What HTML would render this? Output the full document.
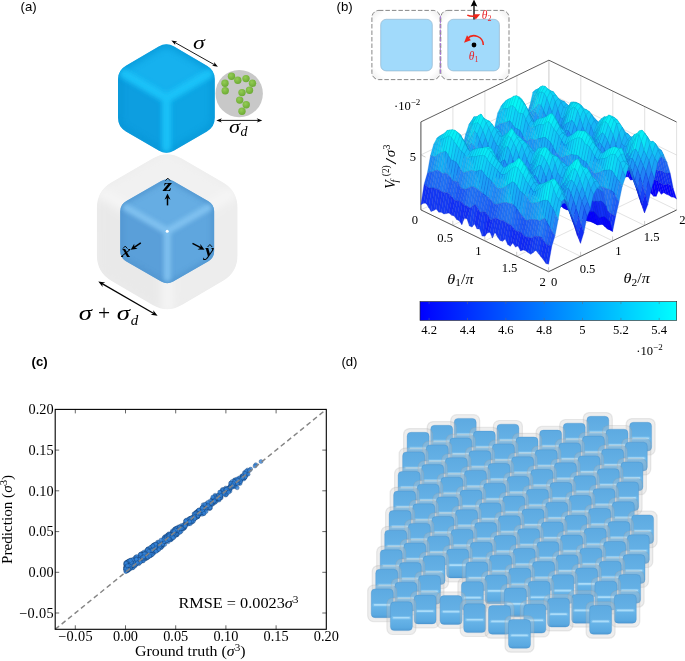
<!DOCTYPE html>
<html><head><meta charset="utf-8"><title>Figure</title>
<style>html,body{margin:0;padding:0;background:#fff}svg{display:block}</style>
</head><body>
<svg width="685" height="661" viewBox="0 0 685 661">
<defs>
<clipPath id="hc"><path d="M152.5 158.4Q167.2 149.9 181.9 158.4L222.8 182.3Q237.5 190.8 237.5 207.8L237.5 255.6Q237.5 272.6 222.8 281.1L181.9 305.0Q167.2 313.5 152.5 305.0L111.6 281.1Q96.9 272.6 96.9 255.6L96.9 207.8Q96.9 190.8 111.6 182.3Z"/></clipPath>
<filter id="hb" x="-20%" y="-20%" width="140%" height="140%"><feGaussianBlur stdDeviation="5"/></filter>
<clipPath id="ibc"><path d="M161.1 181.0Q167.2 177.5 173.3 181.0L208.1 200.9Q214.2 204.3 214.2 211.3L214.2 251.1Q214.2 258.1 208.1 261.5L173.3 281.4Q167.2 284.9 161.1 281.4L126.3 261.5Q120.2 258.1 120.2 251.1L120.2 211.3Q120.2 204.3 126.3 200.9Z"/></clipPath>
<filter id="ibb" x="-20%" y="-20%" width="140%" height="140%"><feGaussianBlur stdDeviation="2.0"/></filter>
<filter id="ibb2" x="-20%" y="-20%" width="140%" height="140%"><feGaussianBlur stdDeviation="2.60"/></filter>
<filter id="ibb3" x="-100%" y="-100%" width="300%" height="300%"><feGaussianBlur stdDeviation="0.7"/></filter>
<clipPath id="tbc"><path d="M158.6 46.6Q166.4 42.1 174.2 46.6L207.0 65.8Q214.8 70.3 214.8 79.3L214.8 117.8Q214.8 126.8 207.0 131.4L174.2 150.6Q166.4 155.1 158.6 150.6L125.8 131.4Q118.0 126.8 118.0 117.8L118.0 79.3Q118.0 70.3 125.8 65.8Z"/></clipPath>
<filter id="tbb" x="-20%" y="-20%" width="140%" height="140%"><feGaussianBlur stdDeviation="2.8"/></filter>
<filter id="tbb2" x="-20%" y="-20%" width="140%" height="140%"><feGaussianBlur stdDeviation="3.64"/></filter>
<radialGradient id="bead" cx="40%" cy="35%" r="70%"><stop offset="0" stop-color="#93cc55"/><stop offset="1" stop-color="#6aa832"/></radialGradient>
<radialGradient id="insg" cx="50%" cy="50%" r="75%"><stop offset="0.75" stop-color="#fff"/><stop offset="1" stop-color="#e4e4e4"/></radialGradient>
<linearGradient id="cbg" x1="0" x2="1" y1="0" y2="0"><stop offset="0" stop-color="#0000ff"/><stop offset="1" stop-color="#00ffff"/></linearGradient>
<linearGradient id="cg" x1="0" x2="0" y1="0" y2="1"><stop offset="0" stop-color="#5daae1"/><stop offset="0.48" stop-color="#64b0e5"/><stop offset="0.60" stop-color="#68b4e8"/><stop offset="0.9" stop-color="#5aa9e1"/><stop offset="1" stop-color="#4f9bd5"/></linearGradient>
<filter id="hbl" x="-10%" y="-10%" width="120%" height="120%"><feGaussianBlur stdDeviation="0.6"/></filter>
<g id="cb"><rect x="-3.5" y="-3.7" width="29" height="36.4" rx="5.8" ry="5.8" fill="#c6c6c6" fill-opacity="0.30" stroke="#9a9a9a" stroke-opacity="0.2" stroke-width="1.2" filter="url(#hbl)"/><rect x="0" y="0" width="22" height="28.8" rx="4" ry="4" fill="url(#cg)" stroke="#3f86c4" stroke-opacity="0.5" stroke-width="0.6"/><rect x="2.6" y="15.1" width="16.8" height="1.7" rx="0.85" fill="#b9e4fc" fill-opacity="0.9"/><rect x="1.2" y="14.3" width="19.6" height="3.3" rx="1.6" fill="#9dd4f6" fill-opacity="0.35"/></g>
</defs>
<text x="20.6" y="10.8" font-family='"Liberation Sans", sans-serif' font-size="13.2">(a)</text>
<text x="336.6" y="10.8" font-family='"Liberation Sans", sans-serif' font-size="13.2">(b)</text>
<text x="31.6" y="365.8" font-family='"Liberation Sans", sans-serif' font-size="13.2" font-weight="bold">(c)</text>
<text x="341.4" y="365.8" font-family='"Liberation Sans", sans-serif' font-size="13.2">(d)</text>
<g clip-path="url(#hc)"><path d="M152.5 158.4Q167.2 149.9 181.9 158.4L222.8 182.3Q237.5 190.8 237.5 207.8L237.5 255.6Q237.5 272.6 222.8 281.1L181.9 305.0Q167.2 313.5 152.5 305.0L111.6 281.1Q96.9 272.6 96.9 255.6L96.9 207.8Q96.9 190.8 111.6 182.3Z" fill="#ececec"/><g filter="url(#hb)"><polygon points="167.2,149.9 237.5,190.8 167.2,232.0 96.9,190.8" fill="#f1f1f1"/><polygon points="96.9,190.8 167.2,232.0 167.2,313.5 96.9,272.6" fill="#e9e9e9"/><polygon points="237.5,190.8 237.5,272.6 167.2,313.5 167.2,232.0" fill="#ededed"/><path d="M167.2 232.0L96.89999999999999 190.79999999999998M167.2 232.0L237.5 190.79999999999998M167.2 232.0L167.2 313.5" stroke="#f6f6f6" stroke-width="10" fill="none"/></g></g>
<g clip-path="url(#ibc)"><path d="M161.1 181.0Q167.2 177.5 173.3 181.0L208.1 200.9Q214.2 204.3 214.2 211.3L214.2 251.1Q214.2 258.1 208.1 261.5L173.3 281.4Q167.2 284.9 161.1 281.4L126.3 261.5Q120.2 258.1 120.2 251.1L120.2 211.3Q120.2 204.3 126.3 200.9Z" fill="#5ea5dd"/><g filter="url(#ibb)"><polygon points="167.2,177.5 214.2,204.3 167.2,231.2 120.2,204.3" fill="#66ade3"/><polygon points="120.2,204.3 167.2,231.2 167.2,284.9 120.2,258.1" fill="#5a9fd9"/><polygon points="214.2,204.3 214.2,258.1 167.2,284.9 167.2,231.2" fill="#5ea6de"/></g><path d="M161.1 181.0Q167.2 177.5 173.3 181.0L208.1 200.9Q214.2 204.3 214.2 211.3L214.2 251.1Q214.2 258.1 208.1 261.5L173.3 281.4Q167.2 284.9 161.1 281.4L126.3 261.5Q120.2 258.1 120.2 251.1L120.2 211.3Q120.2 204.3 126.3 200.9Z" fill="none" stroke="#4f93cd" stroke-width="5" filter="url(#ibb2)" opacity="0.8"/><g filter="url(#ibb)" stroke="#86c6f3" stroke-width="7" stroke-linecap="round" fill="none" opacity="0.85"><path d="M167.2 231.2L126.2 207.8M167.2 231.2L208.2 207.8M167.2 231.2L167.2 277.9"/></g><circle cx="167.2" cy="231.2" r="1.5" fill="#fff" filter="url(#ibb3)"/></g>
<g clip-path="url(#tbc)"><path d="M158.6 46.6Q166.4 42.1 174.2 46.6L207.0 65.8Q214.8 70.3 214.8 79.3L214.8 117.8Q214.8 126.8 207.0 131.4L174.2 150.6Q166.4 155.1 158.6 150.6L125.8 131.4Q118.0 126.8 118.0 117.8L118.0 79.3Q118.0 70.3 125.8 65.8Z" fill="#0fa6e5"/><g filter="url(#tbb)"><polygon points="166.4,42.1 214.8,70.3 166.4,98.6 118.0,70.3" fill="#15b1ee"/><polygon points="118.0,70.3 166.4,98.6 166.4,155.1 118.0,126.8" fill="#0c9ee0"/><polygon points="214.8,70.3 214.8,126.8 166.4,155.1 166.4,98.6" fill="#0fa5e4"/></g><path d="M158.6 46.6Q166.4 42.1 174.2 46.6L207.0 65.8Q214.8 70.3 214.8 79.3L214.8 117.8Q214.8 126.8 207.0 131.4L174.2 150.6Q166.4 155.1 158.6 150.6L125.8 131.4Q118.0 126.8 118.0 117.8L118.0 79.3Q118.0 70.3 125.8 65.8Z" fill="none" stroke="#0990d0" stroke-width="5" filter="url(#tbb2)" opacity="0.8"/><g filter="url(#tbb)" stroke="#1fc8fc" stroke-width="9" stroke-linecap="round" fill="none" opacity="0.85"><path d="M166.4 98.6L124.0 73.8M166.4 98.6L208.8 73.8M166.4 98.6L166.4 148.1"/></g></g>
<circle cx="239.2" cy="93.6" r="23.7" fill="#c8c8c8"/>
<circle cx="225.2" cy="90.7" r="3.7" fill="url(#bead)"/>
<circle cx="225.0" cy="83.3" r="3.7" fill="url(#bead)"/>
<circle cx="231.5" cy="76.3" r="3.7" fill="url(#bead)"/>
<circle cx="237.8" cy="80.2" r="3.7" fill="url(#bead)"/>
<circle cx="246.0" cy="78.6" r="3.7" fill="url(#bead)"/>
<circle cx="252.5" cy="83.3" r="3.7" fill="url(#bead)"/>
<circle cx="249.5" cy="90.3" r="3.7" fill="url(#bead)"/>
<circle cx="242.0" cy="92.6" r="3.7" fill="url(#bead)"/>
<circle cx="239.7" cy="100.1" r="3.7" fill="url(#bead)"/>
<circle cx="246.2" cy="104.8" r="3.7" fill="url(#bead)"/>
<circle cx="242.0" cy="111.3" r="3.7" fill="url(#bead)"/>
<path d="M174.33 42.15L214.97 65.05" stroke="#000" stroke-width="0.9" fill="none"/><path d="M217.90 66.70L211.99 65.78L214.48 64.78L214.05 62.12Z" fill="#000"/><path d="M171.40 40.50L175.25 45.08L174.82 42.42L177.31 41.42Z" fill="#000"/>
<path d="M219.66 120.40L258.94 120.40" stroke="#000" stroke-width="0.9" fill="none"/><path d="M262.30 120.40L256.70 122.50L258.38 120.40L256.70 118.30Z" fill="#000"/><path d="M216.30 120.40L221.90 122.50L220.22 120.40L221.90 118.30Z" fill="#000"/>
<path d="M101.67 283.36L154.23 313.84" stroke="#000" stroke-width="1.2" fill="none"/><path d="M157.60 315.80L150.67 314.79L153.66 313.52L153.28 310.29Z" fill="#000"/><path d="M98.30 281.40L102.62 286.91L102.24 283.68L105.23 282.41Z" fill="#000"/>
<path d="M167.50 205.40L167.50 197.18" stroke="#000" stroke-width="1.5" fill="none"/><path d="M167.50 193.40L170.50 199.70L167.50 197.81L164.50 199.70Z" fill="#000"/>
<path d="M140.80 242.90L133.82 247.67" stroke="#000" stroke-width="1.5" fill="none"/><path d="M130.70 249.80L134.21 243.77L134.34 247.31L137.59 248.72Z" fill="#000"/>
<path d="M192.50 243.40L201.15 247.94" stroke="#000" stroke-width="1.5" fill="none"/><path d="M204.50 249.70L197.53 249.43L200.60 247.65L200.32 244.12Z" fill="#000"/>
<text x="193.0" y="48.8" font-family='"Liberation Serif", serif' font-style="italic" font-size="19" textLength="11.8" lengthAdjust="spacingAndGlyphs">σ</text>
<text x="229.0" y="132.9" font-family='"Liberation Serif", serif' font-style="italic" font-size="19" textLength="11.0" lengthAdjust="spacingAndGlyphs">σ</text>
<text x="240.6" y="135.6" font-family='"Liberation Serif", serif' font-style="italic" font-size="14">d</text>
<text x="78.8" y="320.3" font-family='"Liberation Serif", serif' font-style="italic" font-size="21.5" textLength="13.2" lengthAdjust="spacingAndGlyphs">σ</text>
<text x="97.9" y="320.3" font-family='"Liberation Serif", serif' font-size="21.5">+</text>
<text x="116.7" y="320.3" font-family='"Liberation Serif", serif' font-style="italic" font-size="21.5" textLength="13.2" lengthAdjust="spacingAndGlyphs">σ</text>
<text x="130.8" y="324.6" font-family='"Liberation Serif", serif' font-style="italic" font-size="15">d</text>
<text x="163.29999999999998" y="190.9" font-family='"Liberation Serif", serif' font-style="italic" font-weight="bold" font-size="16.5" textLength="8.6" lengthAdjust="spacingAndGlyphs">z</text>
<path d="M165.5 180.6L167.8 178.1L170.10000000000002 180.6" stroke="#000" stroke-width="0.9" fill="none"/>
<text x="121.2" y="257.4" font-family='"Liberation Serif", serif' font-style="italic" font-weight="bold" font-size="16.5" textLength="9.6" lengthAdjust="spacingAndGlyphs">x</text>
<path d="M122.9 248.6L125.2 246.1L127.5 248.6" stroke="#000" stroke-width="0.9" fill="none"/>
<text x="205.0" y="256.0" font-family='"Liberation Serif", serif' font-style="italic" font-weight="bold" font-size="16.5" textLength="8.8" lengthAdjust="spacingAndGlyphs">y</text>
<path d="M207.6 247.0L209.9 244.5L212.20000000000002 247.0" stroke="#000" stroke-width="0.9" fill="none"/>
<rect x="371.9" y="10.4" width="68.2" height="69.2" rx="7" ry="7" fill="url(#insg)" stroke="#555" stroke-width="0.7" stroke-dasharray="4.5 2"/>
<rect x="440.8" y="10.4" width="68.2" height="69.2" rx="7" ry="7" fill="url(#insg)" stroke="#555" stroke-width="0.7" stroke-dasharray="4.5 2"/>
<path d="M440.4 16V74" stroke="#a877d8" stroke-width="1" stroke-dasharray="3 1.5"/>
<rect x="380.7" y="19.3" width="51.6" height="51.6" rx="5.5" ry="5.5" fill="#a1dafb" stroke="#93b6cf" stroke-width="0.7"/>
<rect x="447.8" y="19.3" width="51.6" height="51.6" rx="5.5" ry="5.5" fill="#a1dafb" stroke="#93b6cf" stroke-width="0.7"/>
<path d="M474 19.5V5" stroke="#000" stroke-width="1.3"/><path d="M474 -0.5L477.3 6.6L474 5.6L470.7 6.6Z" fill="#000"/>
<path d="M467.3 15.2Q470.5 16.8 475.5 16.2" stroke="#f0261a" stroke-width="1.5" fill="none"/><path d="M473.4 14.3L480.2 14.3L475.6 19.6Z" fill="#f0261a"/>
<text x="481.8" y="18.8" font-family='"Liberation Serif", serif' font-style="italic" font-size="11.5" fill="#e8242a">θ<tspan font-size="8" dy="2" font-style="normal">2</tspan></text>
<circle cx="474" cy="45" r="2.4" fill="#000"/>
<path d="M483.3 45A9.3 9.3 0 0 0 467.2 38.7" stroke="#f0261a" stroke-width="1.5" fill="none"/><path d="M464 42.8L467 35.3L470.8 40.2Z" fill="#f0261a"/>
<text x="468.8" y="60" font-family='"Liberation Serif", serif' font-style="italic" font-size="11.5" fill="#e8242a">θ<tspan font-size="8" dy="2" font-style="normal">1</tspan></text>
<path d="M420.9 209.9L548.9 148.2" stroke="#c4c4c4" stroke-width="0.5" fill="none"/><path d="M420.9 209.9L548.6 271.7" stroke="#c4c4c4" stroke-width="0.5" fill="none"/><path d="M548.9 148.2L548.9 60.2" stroke="#c4c4c4" stroke-width="0.5" fill="none"/><path d="M420.9 209.9L420.9 121.9" stroke="#c4c4c4" stroke-width="0.5" fill="none"/><path d="M452.8 225.3L580.8 163.6" stroke="#c4c4c4" stroke-width="0.5" fill="none"/><path d="M452.9 194.5L580.6 256.3" stroke="#c4c4c4" stroke-width="0.5" fill="none"/><path d="M580.8 163.6L580.8 75.6" stroke="#c4c4c4" stroke-width="0.5" fill="none"/><path d="M452.9 194.5L452.9 106.5" stroke="#c4c4c4" stroke-width="0.5" fill="none"/><path d="M484.8 240.8L612.8 179.1" stroke="#c4c4c4" stroke-width="0.5" fill="none"/><path d="M484.9 179.1L612.6 240.8" stroke="#c4c4c4" stroke-width="0.5" fill="none"/><path d="M612.8 179.1L612.8 91.1" stroke="#c4c4c4" stroke-width="0.5" fill="none"/><path d="M484.9 179.1L484.9 91.1" stroke="#c4c4c4" stroke-width="0.5" fill="none"/><path d="M516.7 256.2L644.7 194.6" stroke="#c4c4c4" stroke-width="0.5" fill="none"/><path d="M516.9 163.6L644.6 225.4" stroke="#c4c4c4" stroke-width="0.5" fill="none"/><path d="M644.7 194.6L644.7 106.6" stroke="#c4c4c4" stroke-width="0.5" fill="none"/><path d="M516.9 163.6L516.9 75.6" stroke="#c4c4c4" stroke-width="0.5" fill="none"/><path d="M548.6 271.7L676.6 210.0" stroke="#c4c4c4" stroke-width="0.5" fill="none"/><path d="M548.9 148.2L676.6 210.0" stroke="#c4c4c4" stroke-width="0.5" fill="none"/><path d="M676.6 210.0L676.6 122.0" stroke="#c4c4c4" stroke-width="0.5" fill="none"/><path d="M548.9 148.2L548.9 60.2" stroke="#c4c4c4" stroke-width="0.5" fill="none"/><path d="M420.9 154.9L548.9 93.2" stroke="#c4c4c4" stroke-width="0.5" fill="none"/><path d="M548.9 93.2L676.6 155.0" stroke="#c4c4c4" stroke-width="0.5" fill="none"/><path d="M420.9 209.9L420.9 121.9" stroke="#333" stroke-width="0.8" fill="none"/><path d="M420.9 121.9L548.9 60.2" stroke="#333" stroke-width="0.8" fill="none"/><path d="M548.9 60.2L676.6 122.0" stroke="#333" stroke-width="0.8" fill="none"/>
<g transform="scale(0.1)" stroke-width="2.8" stroke-linejoin="round"><path fill="#0600ff" stroke="#0400d1" d="M5457 1259l26-5l32 173l-26-30z"/><path fill="#143af6" stroke="#0e2cc9" d="M5425 1121l26 12l32 121l-26 5z"/><path fill="#0600ff" stroke="#0400d1" d="M5483 1254l25 0l32 211l-25-38z"/><path fill="#1f67f6" stroke="#154fc9" d="M5393 1008l26 4l32 121l-26-12z"/><path fill="#153ef6" stroke="#0e2fc9" d="M5451 1133l25 30l32 91l-25 0z"/><path fill="#0600ff" stroke="#0400d1" d="M5508 1254l26 38l32 171l-26 2z"/><path fill="#1e95f6" stroke="#1572c9" d="M5361 919l26-14l32 107l-26-4z"/><path fill="#1e61f6" stroke="#154ac9" d="M5419 1012l25 13l32 138l-25-30z"/><path fill="#1335f6" stroke="#0d28c9" d="M5476 1163l26 21l32 108l-26-38z"/><path fill="#0702ff" stroke="#0401d1" d="M5534 1292l25 37l32 111l-25 23z"/><path fill="#14bef6" stroke="#0e92c9" d="M5329 923l26-23l32 5l-26 14z"/><path fill="#1e95f6" stroke="#1572c9" d="M5387 905l25 12l32 108l-25-13z"/><path fill="#1d5ff6" stroke="#1449c9" d="M5444 1025l26 27l32 132l-26-21z"/><path fill="#112cf6" stroke="#0b21c9" d="M5502 1184l25 23l32 122l-25-37z"/><path fill="#0703ff" stroke="#0402d1" d="M5559 1329l26 11l32 110l-26-10z"/><path fill="#12c5f6" stroke="#0c97c9" d="M5297 1061l26-46l32-115l-26 23z"/><path fill="#14bff6" stroke="#0e93c9" d="M5355 900l25-12l32 29l-25-12z"/><path fill="#1f90f6" stroke="#156ec9" d="M5412 917l26 12l32 123l-26-27z"/><path fill="#1c5bf6" stroke="#1346c9" d="M5470 1052l25 22l32 133l-25-23z"/><path fill="#112df6" stroke="#0b22c9" d="M5527 1207l26 11l32 122l-26-11z"/><path fill="#0704ff" stroke="#0403d1" d="M5585 1340l25 4l32 114l-25-8z"/><path fill="#1aa3f6" stroke="#127dc9" d="M5265 1134l26-32l32-87l-26 46z"/><path fill="#10cdf6" stroke="#0b9dc9" d="M5323 1015l25-54l32-73l-25 12z"/><path fill="#14bff6" stroke="#0e93c9" d="M5380 888l26-11l32 52l-26-12z"/><path fill="#208cf6" stroke="#166bc9" d="M5438 929l25 30l32 115l-25-22z"/><path fill="#1c5cf6" stroke="#1346c9" d="M5495 1074l26 10l32 134l-26-11z"/><path fill="#1230f6" stroke="#0c24c9" d="M5553 1218l25 8l32 118l-25-4z"/><path fill="#0600ff" stroke="#0400d1" d="M5610 1344l26 12l32 138l-26-36z"/><path fill="#208bf6" stroke="#166bc9" d="M5233 1294l26-74l32-118l-26 32z"/><path fill="#15baf6" stroke="#0e8fc9" d="M5291 1102l25-44l32-97l-25 54z"/><path fill="#0ed5f6" stroke="#09a4c9" d="M5348 961l26-43l32-41l-26 11z"/><path fill="#15b9f6" stroke="#0e8ec9" d="M5406 877l25-2l32 84l-25-30z"/><path fill="#208df6" stroke="#166cc9" d="M5463 959l26 8l32 117l-26-10z"/><path fill="#1d5df6" stroke="#1447c9" d="M5521 1084l25 5l32 137l-25-8z"/><path fill="#1230f6" stroke="#0c24c9" d="M5578 1226l26 13l32 117l-26-12z"/><path fill="#0600ff" stroke="#0400d1" d="M5636 1356l25 22l32 115l-25 1z"/><path fill="#2069f6" stroke="#1650c9" d="M5201 1431l26-78l32-133l-26 74z"/><path fill="#1b9ff6" stroke="#127ac9" d="M5259 1220l25-74l32-88l-25 44z"/><path fill="#10ccf6" stroke="#0b9dc9" d="M5316 1058l26-53l32-87l-26 43z"/><path fill="#0ddaf6" stroke="#09a7c9" d="M5374 918l25-47l32 4l-25 2z"/><path fill="#15baf6" stroke="#0e8fc9" d="M5431 875l26 11l32 81l-26-8z"/><path fill="#1f90f6" stroke="#156ec9" d="M5489 967l25-4l32 126l-25-5z"/><path fill="#1d5df6" stroke="#1447c9" d="M5546 1089l26 22l32 128l-26-13z"/><path fill="#112df6" stroke="#0b22c9" d="M5604 1239l25 3l32 136l-25-22z"/><path fill="#0601ff" stroke="#0400d1" d="M5661 1378l26-4l32 129l-26-10z"/><path fill="#1641f6" stroke="#0f32c9" d="M5169 1525l26-73l32-99l-26 78z"/><path fill="#2186f6" stroke="#1767c9" d="M5227 1353l25-63l32-144l-25 74z"/><path fill="#16b4f6" stroke="#0f8ac9" d="M5284 1146l26-26l32-115l-26 53z"/><path fill="#0be1f6" stroke="#07adc9" d="M5342 1005l25-41l32-93l-25 47z"/><path fill="#0ddaf6" stroke="#09a7c9" d="M5399 871l26-12l32 27l-26-11z"/><path fill="#13c0f6" stroke="#0d93c9" d="M5457 886l25 13l32 64l-25 4z"/><path fill="#208df6" stroke="#166cc9" d="M5514 963l26 33l32 115l-26-22z"/><path fill="#1d60f6" stroke="#1449c9" d="M5572 1111l25 19l32 112l-25-3z"/><path fill="#1232f6" stroke="#0c26c9" d="M5629 1242l26 6l32 126l-26 4z"/><path fill="#0600ff" stroke="#0400d1" d="M5687 1374l25 5l32 141l-25-17z"/><path fill="#0f25f6" stroke="#0a1cc9" d="M5137 1444l26-67l32 75l-26 73z"/><path fill="#1c5bf6" stroke="#1346c9" d="M5195 1452l25-65l32-97l-25 63z"/><path fill="#1e93f6" stroke="#1571c9" d="M5252 1290l26-58l32-112l-26 26z"/><path fill="#12c6f6" stroke="#0c98c9" d="M5310 1120l25-22l32-134l-25 41z"/><path fill="#09e8f6" stroke="#06b2c9" d="M5367 964l26-39l32-66l-26 12z"/><path fill="#0ddaf6" stroke="#09a7c9" d="M5425 859l25 4l32 36l-25-13z"/><path fill="#15b9f6" stroke="#0e8ec9" d="M5482 899l26 9l32 88l-26-33z"/><path fill="#208af6" stroke="#166ac9" d="M5540 996l25 22l32 112l-25-19z"/><path fill="#1e61f6" stroke="#154ac9" d="M5597 1130l26-5l32 123l-26-6z"/><path fill="#1335f6" stroke="#0d28c9" d="M5655 1248l25 6l32 125l-25-5z"/><path fill="#0a10ff" stroke="#070cd1" d="M5712 1379l26 4l32 103l-26 34z"/><path fill="#1743f6" stroke="#1033c9" d="M5105 1315l26-51l32 113l-26 67z"/><path fill="#1540f6" stroke="#0e31c9" d="M5163 1377l25-62l32 72l-25 65z"/><path fill="#2272f6" stroke="#1757c9" d="M5220 1387l26-49l32-106l-26 58z"/><path fill="#1b9ff6" stroke="#127ac9" d="M5278 1232l25-44l32-90l-25 22z"/><path fill="#0ed8f6" stroke="#09a6c9" d="M5335 1098l26-28l32-145l-26 39z"/><path fill="#09ebf6" stroke="#06b4c9" d="M5393 925l25-5l32-57l-25-4z"/><path fill="#0ddbf6" stroke="#09a8c9" d="M5450 863l26 25l32 20l-26-9z"/><path fill="#16b5f6" stroke="#0f8bc9" d="M5508 908l25 9l32 101l-25-22z"/><path fill="#1f90f6" stroke="#156ec9" d="M5565 1018l26-10l32 117l-26 5z"/><path fill="#1e64f6" stroke="#154dc9" d="M5623 1125l25 0l32 129l-25-6z"/><path fill="#1438f6" stroke="#0e2bc9" d="M5680 1254l26 20l32 109l-26-4z"/><path fill="#0600ff" stroke="#0400d1" d="M5738 1383l25 13l32 153l-25-63z"/><path fill="#216ff6" stroke="#1755c9" d="M5073 1219l26-56l32 101l-26 51z"/><path fill="#1d5df6" stroke="#1447c9" d="M5131 1264l25-53l32 104l-25 62z"/><path fill="#1b54f6" stroke="#1240c9" d="M5188 1315l26-48l32 71l-26 49z"/><path fill="#2285f6" stroke="#1766c9" d="M5246 1338l25-39l32-111l-25 44z"/><path fill="#18acf6" stroke="#1084c9" d="M5303 1188l26-39l32-79l-26 28z"/><path fill="#0cdef6" stroke="#08aac9" d="M5361 1070l25-30l32-120l-25 5z"/><path fill="#0ae7f6" stroke="#07b1c9" d="M5418 920l26 16l32-48l-26-25z"/><path fill="#0cddf6" stroke="#08aac9" d="M5476 888l25 31l32-2l-25-9z"/><path fill="#14bdf6" stroke="#0e91c9" d="M5533 917l26 34l32 57l-26 10z"/><path fill="#1e94f6" stroke="#1571c9" d="M5591 1008l25-3l32 120l-25 0z"/><path fill="#1e61f6" stroke="#154ac9" d="M5648 1125l26 7l32 142l-26-20z"/><path fill="#1438f6" stroke="#0e2bc9" d="M5706 1274l25 30l32 92l-25-13z"/><path fill="#0600ff" stroke="#0400d1" d="M5763 1396l26 10l32 161l-26-18z"/><path fill="#1d96f6" stroke="#1473c9" d="M5041 1093l26 4l32 66l-26 56z"/><path fill="#2284f6" stroke="#1765c9" d="M5099 1163l25-51l32 99l-25 53z"/><path fill="#2271f6" stroke="#1757c9" d="M5156 1211l26-41l32 97l-26 48z"/><path fill="#1f65f6" stroke="#154dc9" d="M5214 1267l25-37l32 69l-25 39z"/><path fill="#1d97f6" stroke="#1474c9" d="M5271 1299l26-47l32-103l-26 39z"/><path fill="#15baf6" stroke="#0e8fc9" d="M5329 1149l25-30l32-79l-25 30z"/><path fill="#0ddcf6" stroke="#09a9c9" d="M5386 1040l26 15l32-119l-26-16z"/><path fill="#0be1f6" stroke="#07adc9" d="M5444 936l25 49l32-66l-25-31z"/><path fill="#0ed5f6" stroke="#09a4c9" d="M5501 919l26 39l32-7l-26-34z"/><path fill="#13c2f6" stroke="#0d95c9" d="M5559 951l25 33l32 21l-25 3z"/><path fill="#1d96f6" stroke="#1473c9" d="M5616 1005l26 9l32 118l-26-7z"/><path fill="#1c5cf6" stroke="#1346c9" d="M5674 1132l25 8l32 164l-25-30z"/><path fill="#1438f6" stroke="#0e2bc9" d="M5731 1304l26 14l32 88l-26-10z"/><path fill="#0600ff" stroke="#0400d1" d="M5789 1406l26 14l32 154l-26-7z"/><path fill="#17b1f6" stroke="#1088c9" d="M5009 1064l26-32l32 65l-26-4z"/><path fill="#18abf6" stroke="#1083c9" d="M5067 1097l25-5l32 20l-25 51z"/><path fill="#1d97f6" stroke="#1474c9" d="M5124 1112l26-21l32 79l-26 41z"/><path fill="#2281f6" stroke="#1763c9" d="M5182 1170l25-35l32 95l-25 37z"/><path fill="#247af6" stroke="#195dc9" d="M5239 1230l26-35l32 57l-26 47z"/><path fill="#1aa5f6" stroke="#127fc9" d="M5297 1252l25-34l32-99l-25 30z"/><path fill="#15baf6" stroke="#0e8fc9" d="M5354 1119l26 45l32-109l-26-15z"/><path fill="#0fd0f6" stroke="#0aa0c9" d="M5412 1055l25 52l32-122l-25-49z"/><path fill="#0dd8f6" stroke="#09a6c9" d="M5469 985l26 73l32-100l-26-39z"/><path fill="#10cef6" stroke="#0b9ec9" d="M5527 958l25 61l32-35l-25-33z"/><path fill="#13c2f6" stroke="#0d95c9" d="M5584 984l26 38l32-8l-26-9z"/><path fill="#1d98f6" stroke="#1475c9" d="M5642 1014l25 27l32 99l-25-8z"/><path fill="#1c5bf6" stroke="#1346c9" d="M5699 1140l26 15l32 163l-26-14z"/><path fill="#1438f6" stroke="#0e2bc9" d="M5757 1318l26 14l32 88l-26-14z"/><path fill="#0600ff" stroke="#0400d1" d="M5815 1420l25 32l32 134l-25-12z"/><path fill="#10ccf6" stroke="#0b9dc9" d="M4977 1130l26-12l32-86l-26 32z"/><path fill="#15b7f6" stroke="#0e8cc9" d="M5035 1032l25-26l32 86l-25 5z"/><path fill="#16b7f6" stroke="#0f8cc9" d="M5092 1092l26-37l32 36l-26 21z"/><path fill="#19a7f6" stroke="#1180c9" d="M5150 1091l25-23l32 67l-25 35z"/><path fill="#1f92f6" stroke="#1570c9" d="M5207 1135l26-13l32 73l-26 35z"/><path fill="#2189f6" stroke="#1769c9" d="M5265 1195l25-27l32 50l-25 34z"/><path fill="#1d9af6" stroke="#1476c9" d="M5322 1218l26 45l32-99l-26-45z"/><path fill="#18acf6" stroke="#1084c9" d="M5380 1164l25 63l32-120l-25-52z"/><path fill="#14bcf6" stroke="#0e90c9" d="M5437 1107l26 64l32-113l-26-73z"/><path fill="#11c7f6" stroke="#0b99c9" d="M5495 1058l25 72l32-111l-25-61z"/><path fill="#12c5f6" stroke="#0c97c9" d="M5552 1019l26 73l32-70l-26-38z"/><path fill="#14bef6" stroke="#0e92c9" d="M5610 1022l25 51l32-32l-25-27z"/><path fill="#1d97f6" stroke="#1474c9" d="M5667 1041l26 21l32 93l-26-15z"/><path fill="#1c5bf6" stroke="#1346c9" d="M5725 1155l26 12l32 165l-26-14z"/><path fill="#1231f6" stroke="#0c25c9" d="M5783 1332l25 5l32 115l-25-32z"/><path fill="#0702ff" stroke="#0401d1" d="M5840 1452l26 44l32 91l-26-1z"/><path fill="#16b5f6" stroke="#0f8bc9" d="M4945 1278l26-16l32-144l-26 12z"/><path fill="#0ddaf6" stroke="#09a7c9" d="M5003 1118l25-29l32-83l-25 26z"/><path fill="#11c7f6" stroke="#0b99c9" d="M5060 1006l26-16l32 65l-26 37z"/><path fill="#13c2f6" stroke="#0d95c9" d="M5118 1055l25-47l32 60l-25 23z"/><path fill="#17aff6" stroke="#1086c9" d="M5175 1068l26-11l32 65l-26 13z"/><path fill="#1b9ff6" stroke="#127ac9" d="M5233 1122l25-15l32 61l-25 27z"/><path fill="#237ef6" stroke="#1861c9" d="M5290 1168l26 40l32 55l-26-45z"/><path fill="#2189f6" stroke="#1769c9" d="M5348 1263l25 62l32-98l-25-63z"/><path fill="#1c9bf6" stroke="#1377c9" d="M5405 1227l26 51l32-107l-26-64z"/><path fill="#19a7f6" stroke="#1180c9" d="M5463 1171l25 68l32-109l-25-72z"/><path fill="#16b3f6" stroke="#0f89c9" d="M5520 1130l26 73l32-111l-26-73z"/><path fill="#15b9f6" stroke="#0e8ec9" d="M5578 1092l25 85l32-104l-25-51z"/><path fill="#14bbf6" stroke="#0e8fc9" d="M5635 1073l26 9l32-20l-26-21z"/><path fill="#1d97f6" stroke="#1474c9" d="M5693 1062l26 6l32 99l-26-12z"/><path fill="#1d5df6" stroke="#1447c9" d="M5751 1167l25 19l32 151l-25-5z"/><path fill="#0f26f6" stroke="#0a1dc9" d="M5808 1337l26 15l32 144l-26-44z"/><path fill="#0600ff" stroke="#0400d1" d="M5866 1496l25-7l32 129l-25-31z"/><path fill="#2189f6" stroke="#1769c9" d="M4913 1404l26 4l32-146l-26 16z"/><path fill="#13c2f6" stroke="#0d95c9" d="M4971 1262l25-24l32-149l-25 29z"/><path fill="#0be2f6" stroke="#07aec9" d="M5028 1089l26-4l32-95l-26 16z"/><path fill="#0ddcf6" stroke="#09a9c9" d="M5086 990l25-10l32 28l-25 47z"/><path fill="#11caf6" stroke="#0b9bc9" d="M5143 1008l26-13l32 62l-26 11z"/><path fill="#15b8f6" stroke="#0e8dc9" d="M5201 1057l25-18l32 68l-25 15z"/><path fill="#1e96f6" stroke="#1573c9" d="M5258 1107l26 27l32 74l-26-40z"/><path fill="#216df6" stroke="#1753c9" d="M5316 1208l25 62l32 55l-25-62z"/><path fill="#247cf6" stroke="#195fc9" d="M5373 1325l26 75l32-122l-26-51z"/><path fill="#2188f6" stroke="#1768c9" d="M5431 1278l25 68l32-107l-25-68z"/><path fill="#1e93f6" stroke="#1571c9" d="M5488 1239l26 84l32-120l-26-73z"/><path fill="#1c9bf6" stroke="#1377c9" d="M5546 1203l25 64l32-90l-25-85z"/><path fill="#15baf6" stroke="#0e8fc9" d="M5603 1177l26 9l32-104l-26-9z"/><path fill="#14bef6" stroke="#0e92c9" d="M5661 1082l26-24l32 10l-26-6z"/><path fill="#1e95f6" stroke="#1572c9" d="M5719 1068l25 9l32 109l-25-19z"/><path fill="#1c5cf6" stroke="#1346c9" d="M5776 1186l26 18l32 148l-26-15z"/><path fill="#112df6" stroke="#0b22c9" d="M5834 1352l25 0l32 137l-25 7z"/><path fill="#0702ff" stroke="#0401d1" d="M5891 1489l26-19l32 141l-26 7z"/><path fill="#1d5ef6" stroke="#1448c9" d="M4881 1562l26-8l32-146l-26-4z"/><path fill="#1e96f6" stroke="#1573c9" d="M4939 1408l25 4l32-174l-25 24z"/><path fill="#11c8f6" stroke="#0b9ac9" d="M4996 1238l26-3l32-150l-26 4z"/><path fill="#09eaf6" stroke="#06b4c9" d="M5054 1085l25 0l32-105l-25 10z"/><path fill="#0ae4f6" stroke="#07afc9" d="M5111 980l26-18l32 33l-26 13z"/><path fill="#0ed5f6" stroke="#09a4c9" d="M5169 995l25-24l32 68l-25 18z"/><path fill="#16b4f6" stroke="#0f8ac9" d="M5226 1039l26 29l32 66l-26-27z"/><path fill="#2284f6" stroke="#1765c9" d="M5284 1134l25 47l32 89l-25-62z"/><path fill="#1b58f6" stroke="#1243c9" d="M5341 1270l26 66l32 64l-26-75z"/><path fill="#2069f6" stroke="#1650c9" d="M5399 1400l25 78l32-132l-25-68z"/><path fill="#2170f6" stroke="#1756c9" d="M5456 1346l26 73l32-96l-26-84z"/><path fill="#2281f6" stroke="#1763c9" d="M5514 1323l25 79l32-135l-25-64z"/><path fill="#1c9cf6" stroke="#1378c9" d="M5571 1267l26 14l32-95l-26-9z"/><path fill="#12c6f6" stroke="#0c98c9" d="M5629 1186l26-32l32-96l-26 24z"/><path fill="#14bff6" stroke="#0e93c9" d="M5687 1058l25-38l32 57l-25-9z"/><path fill="#1e93f6" stroke="#1571c9" d="M5744 1077l26 19l32 108l-26-18z"/><path fill="#1d61f6" stroke="#144ac9" d="M5802 1204l25 22l32 126l-25 0z"/><path fill="#1437f6" stroke="#0e2ac9" d="M5859 1352l26 0l32 118l-26 19z"/><path fill="#0702ff" stroke="#0401d1" d="M5917 1470l25 23l32 132l-25-14z"/><path fill="#1232f6" stroke="#0c26c9" d="M4849 1700l26 17l32-163l-26 8z"/><path fill="#1e61f6" stroke="#154ac9" d="M4907 1554l25-1l32-141l-25-4z"/><path fill="#1c9bf6" stroke="#1377c9" d="M4964 1412l26-13l32-164l-26 3z"/><path fill="#10ccf6" stroke="#0b9dc9" d="M5022 1235l25-9l32-141l-25 0z"/><path fill="#07f5f6" stroke="#04bcc9" d="M5079 1085l26-24l32-99l-26 18z"/><path fill="#08f0f6" stroke="#05b8c9" d="M5137 962l25-5l32 14l-25 24z"/><path fill="#10cff6" stroke="#0b9fc9" d="M5194 971l26 25l32 72l-26-29z"/><path fill="#19a8f6" stroke="#1181c9" d="M5252 1068l25 44l32 69l-25-47z"/><path fill="#2273f6" stroke="#1758c9" d="M5309 1181l26 56l32 99l-26-66z"/><path fill="#1642f6" stroke="#0f32c9" d="M5367 1336l25 58l32 84l-25-78z"/><path fill="#1b55f6" stroke="#1241c9" d="M5424 1478l26 78l32-137l-26-73z"/><path fill="#1c5af6" stroke="#1345c9" d="M5482 1419l25 77l32-94l-25-79z"/><path fill="#2381f6" stroke="#1863c9" d="M5539 1402l26 7l32-128l-26-14z"/><path fill="#18aaf6" stroke="#1082c9" d="M5597 1281l26-43l32-84l-26 32z"/><path fill="#0ed7f6" stroke="#09a5c9" d="M5655 1154l25-59l32-75l-25 38z"/><path fill="#14bdf6" stroke="#0e91c9" d="M5712 1020l26 0l32 76l-26-19z"/><path fill="#1f8ff6" stroke="#156ec9" d="M5770 1096l25 21l32 109l-25-22z"/><path fill="#1e64f6" stroke="#154dc9" d="M5827 1226l26 12l32 114l-26 0z"/><path fill="#1334f6" stroke="#0d28c9" d="M5885 1352l25 8l32 133l-25-23z"/><path fill="#0600ff" stroke="#0400d1" d="M5942 1493l26 32l32 129l-26-29zM4817 1580l26 7l32 130l-26-17z"/><path fill="#1336f6" stroke="#0d29c9" d="M4875 1717l25 18l32-182l-25 1z"/><path fill="#2069f6" stroke="#1650c9" d="M4932 1553l26 18l32-172l-26 13z"/><path fill="#1ba2f6" stroke="#127cc9" d="M4990 1399l25-17l32-156l-25 9z"/><path fill="#0dd9f6" stroke="#09a7c9" d="M5047 1226l26-7l32-158l-26 24z"/><path fill="#06f7f6" stroke="#04bec9" d="M5105 1061l25-3l32-101l-25 5z"/><path fill="#09ecf6" stroke="#06b5c9" d="M5162 957l26 22l32 17l-26-25z"/><path fill="#12c4f6" stroke="#0c96c9" d="M5220 996l25 38l32 78l-25-44z"/><path fill="#1d99f6" stroke="#1475c9" d="M5277 1112l26 45l32 80l-26-56z"/><path fill="#1e63f6" stroke="#154cc9" d="M5335 1237l25 50l32 107l-25-58z"/><path fill="#112cf6" stroke="#0b21c9" d="M5392 1394l26 62l32 100l-26-78z"/><path fill="#1540f6" stroke="#0e31c9" d="M5450 1556l25 90l32-150l-25-77z"/><path fill="#1c5cf6" stroke="#1346c9" d="M5507 1496l26 12l32-99l-26-7z"/><path fill="#1e94f6" stroke="#1571c9" d="M5565 1409l26-57l32-114l-26 43z"/><path fill="#13c2f6" stroke="#0d95c9" d="M5623 1238l25-47l32-96l-25 59z"/><path fill="#0ddbf6" stroke="#09a8c9" d="M5680 1095l26-46l32-29l-26 0z"/><path fill="#15baf6" stroke="#0e8fc9" d="M5738 1020l25 4l32 93l-25-21z"/><path fill="#1f90f6" stroke="#156ec9" d="M5795 1117l26-3l32 124l-26-12z"/><path fill="#1f65f6" stroke="#154dc9" d="M5853 1238l25 2l32 120l-25-8z"/><path fill="#112df6" stroke="#0b22c9" d="M5910 1360l26 18l32 147l-26-32z"/><path fill="#0704ff" stroke="#0403d1" d="M5968 1525l25 14l32 104l-25 11z"/><path fill="#1231f6" stroke="#0c25c9" d="M4785 1463l26-2l32 126l-26-7z"/><path fill="#0600ff" stroke="#0400d1" d="M4843 1587l25 4l32 144l-25-18z"/><path fill="#1334f6" stroke="#0d28c9" d="M4900 1735l26 19l32-183l-26-18z"/><path fill="#2273f6" stroke="#1758c9" d="M4958 1571l25 12l32-201l-25 17z"/><path fill="#19a8f6" stroke="#1181c9" d="M5015 1382l26 0l32-163l-26 7z"/><path fill="#0cdef6" stroke="#08aac9" d="M5073 1219l25-11l32-150l-25 3z"/><path fill="#06f7f6" stroke="#04bec9" d="M5130 1058l26 28l32-107l-26-22z"/><path fill="#0be3f6" stroke="#07aec9" d="M5188 979l25 29l32 26l-25-38z"/><path fill="#15baf6" stroke="#0e8fc9" d="M5245 1034l26 57l32 66l-26-45z"/><path fill="#208cf6" stroke="#166bc9" d="M5303 1157l25 47l32 83l-25-50z"/><path fill="#1a53f6" stroke="#123fc9" d="M5360 1287l26 80l32 89l-26-62z"/><path fill="#0a12ff" stroke="#070dd1" d="M5418 1456l25 65l32 125l-25-90z"/><path fill="#1540f6" stroke="#0e31c9" d="M5475 1646l26 3l32-141l-26-12z"/><path fill="#2273f6" stroke="#1758c9" d="M5533 1508l26-43l32-113l-26 57z"/><path fill="#19a7f6" stroke="#1180c9" d="M5591 1352l25-50l32-111l-25 47z"/><path fill="#0ed6f6" stroke="#09a4c9" d="M5648 1191l26-50l32-92l-26 46z"/><path fill="#0cdef6" stroke="#08aac9" d="M5706 1049l25-23l32-2l-25-4z"/><path fill="#14bff6" stroke="#0e93c9" d="M5763 1024l26 13l32 77l-26 3z"/><path fill="#1e93f6" stroke="#1571c9" d="M5821 1114l25 20l32 106l-25-2z"/><path fill="#1e63f6" stroke="#154cc9" d="M5878 1240l26 9l32 129l-26-18z"/><path fill="#112df6" stroke="#0b22c9" d="M5936 1378l25 12l32 149l-25-14z"/><path fill="#0702ff" stroke="#0401d1" d="M5993 1539l26 23l32 98l-26-17z"/><path fill="#1e61f6" stroke="#154ac9" d="M4753 1332l26-14l32 143l-26 2z"/><path fill="#1334f6" stroke="#0d28c9" d="M4811 1461l25 8l32 122l-25-4z"/><path fill="#0600ff" stroke="#0400d1" d="M4868 1591l26 21l32 142l-26-19z"/><path fill="#1335f6" stroke="#0d28c9" d="M4926 1754l25 13l32-184l-25-12z"/><path fill="#2377f6" stroke="#185bc9" d="M4983 1583l26 1l32-202l-26 0z"/><path fill="#17b0f6" stroke="#1087c9" d="M5041 1382l25 7l32-181l-25 11z"/><path fill="#0dd8f6" stroke="#09a6c9" d="M5098 1208l26 36l32-158l-26-28z"/><path fill="#07f2f6" stroke="#04bac9" d="M5156 1086l25 43l32-121l-25-29z"/><path fill="#0ed5f6" stroke="#09a4c9" d="M5213 1008l26 27l32 56l-26-57z"/><path fill="#18aef6" stroke="#1085c9" d="M5271 1091l25 46l32 67l-25-47z"/><path fill="#2376f6" stroke="#185ac9" d="M5328 1204l26 55l32 108l-26-80z"/><path fill="#1640f6" stroke="#0f31c9" d="M5386 1367l25 76l32 78l-25-65z"/><path fill="#0b15f6" stroke="#0710c9" d="M5443 1521l26 16l32 112l-26-3z"/><path fill="#1a52f6" stroke="#123fc9" d="M5501 1649l26-66l32-118l-26 43z"/><path fill="#2187f6" stroke="#1767c9" d="M5559 1465l25-57l32-106l-25 50z"/><path fill="#14bdf6" stroke="#0e91c9" d="M5616 1302l26-50l32-111l-26 50z"/><path fill="#0be2f6" stroke="#07aec9" d="M5674 1141l25-39l32-76l-25 23z"/><path fill="#0cdef6" stroke="#08aac9" d="M5731 1026l26 7l32 4l-26-13z"/><path fill="#14bcf6" stroke="#0e90c9" d="M5789 1037l25 18l32 79l-25-20z"/><path fill="#1e94f6" stroke="#1571c9" d="M5846 1134l26 25l32 90l-26-9z"/><path fill="#1e63f6" stroke="#154cc9" d="M5904 1249l25 24l32 117l-25-12z"/><path fill="#1029f6" stroke="#0b1fc9" d="M5961 1390l26 0l32 172l-26-23z"/><path fill="#0600ff" stroke="#0400d1" d="M6019 1562l25-9l32 132l-25-25z"/><path fill="#1e96f6" stroke="#1573c9" d="M4721 1244l26-4l32 78l-26 14z"/><path fill="#1e62f6" stroke="#154bc9" d="M4779 1318l25-6l32 157l-25-8z"/><path fill="#1231f6" stroke="#0c25c9" d="M4836 1469l26 25l32 118l-26-21z"/><path fill="#0600ff" stroke="#0400d1" d="M4894 1612l25 39l32 116l-25-13z"/><path fill="#1439f6" stroke="#0e2bc9" d="M4951 1767l26 12l32-195l-26-1z"/><path fill="#2379f6" stroke="#185dc9" d="M5009 1584l25 7l32-202l-25-7z"/><path fill="#19a8f6" stroke="#1181c9" d="M5066 1389l26 5l32-150l-26-36z"/><path fill="#10cef6" stroke="#0b9ec9" d="M5124 1244l25 33l32-148l-25-43z"/><path fill="#09ecf6" stroke="#06b5c9" d="M5181 1129l26 4l32-98l-26-27z"/><path fill="#11c9f6" stroke="#0b9ac9" d="M5239 1035l25 35l32 67l-25-46z"/><path fill="#1ba0f6" stroke="#127bc9" d="M5296 1137l26 49l32 73l-26-55z"/><path fill="#1d61f6" stroke="#144ac9" d="M5354 1259l25 58l32 126l-25-76z"/><path fill="#1640f6" stroke="#0f31c9" d="M5411 1443l26 24l32 70l-26-16z"/><path fill="#122ff6" stroke="#0c24c9" d="M5469 1537l26-69l32 115l-26 66z"/><path fill="#2069f6" stroke="#1650c9" d="M5527 1583l25-57l32-118l-25 57z"/><path fill="#1c9df6" stroke="#1378c9" d="M5584 1408l26-56l32-100l-26 50z"/><path fill="#10cef6" stroke="#0b9ec9" d="M5642 1252l25-19l32-131l-25 39z"/><path fill="#0be4f6" stroke="#07afc9" d="M5699 1102l26-23l32-46l-26-7z"/><path fill="#0ddcf6" stroke="#09a9c9" d="M5757 1033l25 0l32 22l-25-18z"/><path fill="#15b8f6" stroke="#0e8dc9" d="M5814 1055l26 32l32 72l-26-25z"/><path fill="#1f90f6" stroke="#156ec9" d="M5872 1159l25 11l32 103l-25-24z"/><path fill="#1f68f6" stroke="#1550c9" d="M5929 1273l26 20l32 97l-26 0z"/><path fill="#1230f6" stroke="#0c24c9" d="M5987 1390l25-4l32 167l-25 9z"/><path fill="#0600ff" stroke="#0400d1" d="M6044 1553l26 5l32 148l-26-21z"/><path fill="#16b5f6" stroke="#0f8bc9" d="M4689 1246l26-37l32 31l-26 4z"/><path fill="#1c9cf6" stroke="#1378c9" d="M4747 1240l25 2l32 70l-25 6z"/><path fill="#1d5ef6" stroke="#1448c9" d="M4804 1312l26 22l32 160l-26-25z"/><path fill="#1028f6" stroke="#0b1ec9" d="M4862 1494l25 19l32 138l-25-39z"/><path fill="#0600ff" stroke="#0400d1" d="M4919 1651l26 7l32 121l-26-12z"/><path fill="#143af6" stroke="#0e2cc9" d="M4977 1779l25 12l32-200l-25-7z"/><path fill="#247cf6" stroke="#195fc9" d="M5034 1591l26 10l32-207l-26-5z"/><path fill="#1ba1f6" stroke="#127bc9" d="M5092 1394l25 14l32-131l-25-33z"/><path fill="#0fd1f6" stroke="#0aa0c9" d="M5149 1277l26 14l32-158l-26-4z"/><path fill="#0ae4f6" stroke="#07afc9" d="M5207 1133l25 7l32-70l-25-35z"/><path fill="#14bdf6" stroke="#0e91c9" d="M5264 1070l26 64l32 52l-26-49z"/><path fill="#1f90f6" stroke="#156ec9" d="M5322 1186l25 53l32 78l-25-58z"/><path fill="#1d5df6" stroke="#1447c9" d="M5379 1317l26 38l32 112l-26-24z"/><path fill="#1c5cf6" stroke="#1346c9" d="M5437 1467l26-33l32 34l-26 69z"/><path fill="#1746f6" stroke="#1035c9" d="M5495 1468l25-27l32 85l-25 57z"/><path fill="#2381f6" stroke="#1863c9" d="M5552 1526l26-36l32-138l-26 56z"/><path fill="#19a7f6" stroke="#1180c9" d="M5610 1352l25-30l32-89l-25 19z"/><path fill="#0ddaf6" stroke="#09a7c9" d="M5667 1233l26-13l32-141l-26 23z"/><path fill="#0ae8f6" stroke="#07b2c9" d="M5725 1079l25-4l32-42l-25 0z"/><path fill="#0ed5f6" stroke="#09a4c9" d="M5782 1033l26 33l32 21l-26-32z"/><path fill="#15b8f6" stroke="#0e8dc9" d="M5840 1087l25 10l32 73l-25-11z"/><path fill="#1f8ef6" stroke="#156dc9" d="M5897 1170l26 6l32 117l-26-20z"/><path fill="#216df6" stroke="#1753c9" d="M5955 1293l25 2l32 91l-25 4z"/><path fill="#1233f6" stroke="#0c27c9" d="M6012 1386l26 11l32 161l-26-5z"/><path fill="#0600ff" stroke="#0400d1" d="M6070 1558l26 7l32 140l-26 1z"/><path fill="#12c4f6" stroke="#0c96c9" d="M4657 1343l26-32l32-102l-26 37z"/><path fill="#15b9f6" stroke="#0e8ec9" d="M4715 1209l25-41l32 74l-25-2z"/><path fill="#1d99f6" stroke="#1475c9" d="M4772 1242l26 13l32 79l-26-22z"/><path fill="#1c5cf6" stroke="#1346c9" d="M4830 1334l25 33l32 146l-25-19z"/><path fill="#102af6" stroke="#0b20c9" d="M4887 1513l26 13l32 132l-26-7z"/><path fill="#0600ff" stroke="#0400d1" d="M4945 1658l25 13l32 120l-25-12z"/><path fill="#143bf6" stroke="#0e2dc9" d="M5002 1791l26-20l32-170l-26-10z"/><path fill="#247bf6" stroke="#195ec9" d="M5060 1601l25 15l32-208l-25-14z"/><path fill="#1ba1f6" stroke="#127bc9" d="M5117 1408l26 43l32-160l-26-14z"/><path fill="#0fd3f6" stroke="#0aa2c9" d="M5175 1291l25 12l32-163l-25-7z"/><path fill="#0fd4f6" stroke="#0aa3c9" d="M5232 1140l26 55l32-61l-26-64z"/><path fill="#17aff6" stroke="#1086c9" d="M5290 1134l25 71l32 34l-25-53z"/><path fill="#2187f6" stroke="#1767c9" d="M5347 1239l26 21l32 95l-26-38z"/><path fill="#206cf6" stroke="#1653c9" d="M5405 1355l26-25l32 104l-26 33z"/><path fill="#1f68f6" stroke="#1550c9" d="M5463 1434l25-57l32 64l-25 27z"/><path fill="#1b57f6" stroke="#1242c9" d="M5520 1441l26-34l32 83l-26 36z"/><path fill="#1f8ef6" stroke="#156dc9" d="M5578 1490l25-61l32-107l-25 30z"/><path fill="#17b0f6" stroke="#1087c9" d="M5635 1322l26-19l32-83l-26 13z"/><path fill="#0ce0f6" stroke="#08acc9" d="M5693 1220l25-20l32-125l-25 4z"/><path fill="#0be2f6" stroke="#07aec9" d="M5750 1075l26 36l32-45l-26-33z"/><path fill="#0ed6f6" stroke="#09a4c9" d="M5808 1066l25 36l32-5l-25-10z"/><path fill="#15bbf6" stroke="#0e8fc9" d="M5865 1097l26 17l32 62l-26-6z"/><path fill="#1f91f6" stroke="#156fc9" d="M5923 1176l25 10l32 109l-25-2z"/><path fill="#216ef6" stroke="#1754c9" d="M5980 1295l26 11l32 91l-26-11z"/><path fill="#1335f6" stroke="#0d28c9" d="M6038 1397l26 40l32 128l-26-7z"/><path fill="#0600ff" stroke="#0400d1" d="M6096 1565l25 6l32 155l-25-21z"/><path fill="#19a8f6" stroke="#1181c9" d="M4625 1468l26-54l32-103l-26 32z"/><path fill="#0ed7f6" stroke="#09a5c9" d="M4683 1311l25-45l32-98l-25 41z"/><path fill="#15b9f6" stroke="#0e8ec9" d="M4740 1168l26-1l32 88l-26-13z"/><path fill="#1f92f6" stroke="#1570c9" d="M4798 1255l25 15l32 97l-25-33z"/><path fill="#1c5cf6" stroke="#1346c9" d="M4855 1367l26 26l32 133l-26-13z"/><path fill="#1029f6" stroke="#0b1fc9" d="M4913 1526l25 7l32 138l-25-13z"/><path fill="#0807ff" stroke="#0505d1" d="M4970 1671l26 2l32 98l-26 20z"/><path fill="#143af6" stroke="#0e2cc9" d="M5028 1771l25-7l32-148l-25-15z"/><path fill="#2170f6" stroke="#1756c9" d="M5085 1616l26 26l32-191l-26-43z"/><path fill="#1ba1f6" stroke="#127bc9" d="M5143 1451l25 40l32-188l-25-12z"/><path fill="#12c4f6" stroke="#0c96c9" d="M5200 1303l26 51l32-159l-26-55z"/><path fill="#13c0f6" stroke="#0d93c9" d="M5258 1195l25 54l32-44l-25-71z"/><path fill="#18acf6" stroke="#1084c9" d="M5315 1205l26 22l32 33l-26-21z"/><path fill="#1e94f6" stroke="#1571c9" d="M5373 1260l26-37l32 107l-26 25z"/><path fill="#2283f6" stroke="#1764c9" d="M5431 1330l25-38l32 85l-25 57z"/><path fill="#2378f6" stroke="#185cc9" d="M5488 1377l26-49l32 79l-26 34z"/><path fill="#2170f6" stroke="#1756c9" d="M5546 1407l25-30l32 52l-25 61z"/><path fill="#1d99f6" stroke="#1475c9" d="M5603 1429l26-55l32-71l-26 19z"/><path fill="#15bbf6" stroke="#0e8fc9" d="M5661 1303l25 8l32-111l-25 20z"/><path fill="#0ed7f6" stroke="#09a5c9" d="M5718 1200l26 40l32-129l-26-36z"/><path fill="#0dd9f6" stroke="#09a7c9" d="M5776 1111l25 70l32-79l-25-36z"/><path fill="#0ed4f6" stroke="#09a3c9" d="M5833 1102l26 48l32-36l-26-17z"/><path fill="#15bbf6" stroke="#0e8fc9" d="M5891 1114l25 30l32 42l-25-10z"/><path fill="#1f92f6" stroke="#1570c9" d="M5948 1186l26 25l32 95l-26-11z"/><path fill="#1f64f6" stroke="#154dc9" d="M6006 1306l26 17l32 114l-26-40z"/><path fill="#1337f6" stroke="#0d2ac9" d="M6064 1437l25 6l32 128l-25-6z"/><path fill="#0703ff" stroke="#0402d1" d="M6121 1571l26 21l32 130l-26 4z"/><path fill="#208af6" stroke="#166ac9" d="M4593 1574l26-25l32-135l-26 54z"/><path fill="#15bbf6" stroke="#0e8fc9" d="M4651 1414l25-43l32-105l-25 45z"/><path fill="#0ddcf6" stroke="#09a9c9" d="M4708 1266l26-50l32-49l-26 1z"/><path fill="#15b8f6" stroke="#0e8dc9" d="M4766 1167l25 19l32 84l-25-15z"/><path fill="#208df6" stroke="#166cc9" d="M4823 1270l26 7l32 116l-26-26z"/><path fill="#1d5ef6" stroke="#1448c9" d="M4881 1393l25 7l32 133l-25-7z"/><path fill="#112df6" stroke="#0b22c9" d="M4938 1533l26 7l32 133l-26-2z"/><path fill="#090dff" stroke="#060ad1" d="M4996 1673l25 8l32 83l-25 7z"/><path fill="#1336f6" stroke="#0d29c9" d="M5053 1764l26 27l32-149l-26-26z"/><path fill="#1f67f6" stroke="#154fc9" d="M5111 1642l25 45l32-196l-25-40z"/><path fill="#1e94f6" stroke="#1571c9" d="M5168 1491l26 24l32-161l-26-51z"/><path fill="#16b7f6" stroke="#0f8cc9" d="M5226 1354l25 49l32-154l-25-54z"/><path fill="#14bdf6" stroke="#0e91c9" d="M5283 1249l26 37l32-59l-26-22z"/><path fill="#14bef6" stroke="#0e92c9" d="M5341 1227l26-30l32 26l-26 37z"/><path fill="#1aa5f6" stroke="#127fc9" d="M5399 1223l25-13l32 82l-25 38z"/><path fill="#1d98f6" stroke="#1475c9" d="M5456 1292l26-37l32 73l-26 49z"/><path fill="#2186f6" stroke="#1767c9" d="M5514 1328l25-33l32 82l-25 30zM5571 1377l26-37l32 34l-26 55z"/><path fill="#1c9bf6" stroke="#1377c9" d="M5629 1374l25 6l32-69l-25-8z"/><path fill="#17b1f6" stroke="#1088c9" d="M5686 1311l26 53l32-124l-26-40z"/><path fill="#12c4f6" stroke="#0c96c9" d="M5744 1240l25 52l32-111l-25-70z"/><path fill="#10cdf6" stroke="#0b9dc9" d="M5801 1181l26 81l32-112l-26-48z"/><path fill="#10cef6" stroke="#0b9ec9" d="M5859 1150l25 67l32-73l-25-30z"/><path fill="#16b7f6" stroke="#0f8cc9" d="M5916 1144l26 62l32 5l-26-25z"/><path fill="#1f90f6" stroke="#156ec9" d="M5974 1211l26 32l32 80l-26-17z"/><path fill="#1f66f6" stroke="#154ec9" d="M6032 1323l25-13l32 133l-25-6z"/><path fill="#1334f6" stroke="#0d28c9" d="M6089 1443l26 25l32 124l-26-21z"/><path fill="#0808ff" stroke="#0506d1" d="M6147 1592l25 13l32 115l-25 2z"/><path fill="#1e62f6" stroke="#154bc9" d="M4561 1705l26-65l32-91l-26 25z"/><path fill="#1c9df6" stroke="#1378c9" d="M4619 1549l25-41l32-137l-25 43z"/><path fill="#0fd0f6" stroke="#0aa0c9" d="M4676 1371l26-70l32-85l-26 50z"/><path fill="#0dd9f6" stroke="#09a7c9" d="M4734 1216l25-38l32 8l-25-19z"/><path fill="#15baf6" stroke="#0e8fc9" d="M4791 1186l26 9l32 82l-26-7z"/><path fill="#1f8ff6" stroke="#156ec9" d="M4849 1277l25-12l32 135l-25-7z"/><path fill="#1d60f6" stroke="#1449c9" d="M4906 1400l26 15l32 125l-26-7z"/><path fill="#112ef6" stroke="#0b23c9" d="M4964 1540l25 6l32 135l-25-8z"/><path fill="#0808ff" stroke="#0506d1" d="M5021 1681l26 0l32 110l-26-27z"/><path fill="#102af6" stroke="#0b20c9" d="M5079 1791l25 28l32-132l-25-45z"/><path fill="#1e63f6" stroke="#154cc9" d="M5136 1687l26-1l32-171l-26-24z"/><path fill="#2188f6" stroke="#1768c9" d="M5194 1515l25 26l32-138l-25-49z"/><path fill="#18aef6" stroke="#1085c9" d="M5251 1403l26 12l32-129l-26-37z"/><path fill="#11cbf6" stroke="#0b9cc9" d="M5309 1286l26-14l32-75l-26 30z"/><path fill="#12c5f6" stroke="#0c97c9" d="M5367 1197l25-11l32 24l-25 13z"/><path fill="#16b5f6" stroke="#0f8bc9" d="M5424 1210l26-29l32 74l-26 37z"/><path fill="#19a7f6" stroke="#1180c9" d="M5482 1255l25-9l32 49l-25 33z"/><path fill="#1d97f6" stroke="#1474c9" d="M5539 1295l26-14l32 59l-26 37z"/><path fill="#2188f6" stroke="#1768c9" d="M5597 1340l25 4l32 36l-25-6z"/><path fill="#208df6" stroke="#166cc9" d="M5654 1380l26 56l32-72l-26-53z"/><path fill="#1aa3f6" stroke="#127dc9" d="M5712 1364l25 45l32-117l-25-52z"/><path fill="#18adf6" stroke="#1085c9" d="M5769 1292l26 66l32-96l-26-81z"/><path fill="#15bbf6" stroke="#0e8fc9" d="M5827 1262l25 71l32-116l-25-67z"/><path fill="#14bef6" stroke="#0e92c9" d="M5884 1217l26 49l32-60l-26-62z"/><path fill="#17b0f6" stroke="#1087c9" d="M5942 1206l26 39l32-2l-26-32z"/><path fill="#1d99f6" stroke="#1475c9" d="M6000 1243l25-7l32 74l-25 13z"/><path fill="#1e62f6" stroke="#154bc9" d="M6057 1310l26 19l32 139l-26-25z"/><path fill="#1333f6" stroke="#0d27c9" d="M6115 1468l25 18l32 119l-25-13z"/><path fill="#0808ff" stroke="#0506d1" d="M6172 1605l26 16l32 108l-26-9z"/><path fill="#1848f6" stroke="#1037c9" d="M4529 1808l26-46l32-122l-26 65z"/><path fill="#2274f6" stroke="#1759c9" d="M4587 1640l25-74l32-58l-25 41z"/><path fill="#15b9f6" stroke="#0e8ec9" d="M4644 1508l26-51l32-156l-26 70z"/><path fill="#0be1f6" stroke="#07adc9" d="M4702 1301l25-58l32-65l-25 38z"/><path fill="#0ddaf6" stroke="#09a7c9" d="M4759 1178l26-24l32 41l-26-9z"/><path fill="#13c2f6" stroke="#0d95c9" d="M4817 1195l25-5l32 75l-25 12z"/><path fill="#1f8ef6" stroke="#156dc9" d="M4874 1265l26 27l32 123l-26-15z"/><path fill="#1e61f6" stroke="#154ac9" d="M4932 1415l25 2l32 129l-25-6z"/><path fill="#1233f6" stroke="#0c27c9" d="M4989 1546l26 7l32 128l-26 0z"/><path fill="#0703ff" stroke="#0402d1" d="M5047 1681l25 21l32 117l-25-28z"/><path fill="#122ff6" stroke="#0c24c9" d="M5104 1819l26 27l32-160l-26 1z"/><path fill="#1d5ff6" stroke="#1449c9" d="M5162 1686l25-2l32-143l-25-26z"/><path fill="#2187f6" stroke="#1767c9" d="M5219 1541l26 31l32-157l-26-12z"/><path fill="#15b7f6" stroke="#0e8cc9" d="M5277 1415l26-28l32-115l-26 14z"/><path fill="#0fd3f6" stroke="#0aa2c9" d="M5335 1272l25-8l32-78l-25 11zM5392 1186l26-3l32-2l-26 29z"/><path fill="#14bdf6" stroke="#0e91c9" d="M5450 1181l25 14l32 51l-25 9z"/><path fill="#17b0f6" stroke="#1087c9" d="M5507 1246l26-9l32 44l-26 14z"/><path fill="#1d9af6" stroke="#1476c9" d="M5565 1281l25-9l32 72l-25-4z"/><path fill="#247af6" stroke="#195dc9" d="M5622 1344l26 41l32 51l-26-56z"/><path fill="#2281f6" stroke="#1763c9" d="M5680 1436l25 62l32-89l-25-45z"/><path fill="#1e92f6" stroke="#1570c9" d="M5737 1409l26 51l32-102l-26-66z"/><path fill="#1d99f6" stroke="#1475c9" d="M5795 1358l25 76l32-101l-25-71z"/><path fill="#17aff6" stroke="#1086c9" d="M5852 1333l26 68l32-135l-26-49z"/><path fill="#16b5f6" stroke="#0f8bc9" d="M5910 1266l26 69l32-90l-26-39z"/><path fill="#16b7f6" stroke="#0f8cc9" d="M5968 1245l25-35l32 26l-25 7z"/><path fill="#1d97f6" stroke="#1474c9" d="M6025 1236l26-16l32 109l-26-19z"/><path fill="#1e61f6" stroke="#154ac9" d="M6083 1329l25 25l32 132l-25-18z"/><path fill="#1232f6" stroke="#0c26c9" d="M6140 1486l26 16l32 119l-26-16z"/><path fill="#0600ff" stroke="#0400d1" d="M6198 1621l25 31l32 119l-25-42z"/><path fill="#0f25f6" stroke="#0a1cc9" d="M4497 1713l26-44l32 93l-26 46z"/><path fill="#1f66f6" stroke="#154ec9" d="M4555 1762l25-34l32-162l-25 74z"/><path fill="#2189f6" stroke="#1769c9" d="M4612 1566l26-46l32-63l-26 51z"/><path fill="#0fd0f6" stroke="#0aa0c9" d="M4670 1457l25-61l32-153l-25 58z"/><path fill="#08edf6" stroke="#05b6c9" d="M4727 1243l26-9l32-80l-26 24z"/><path fill="#0ce1f6" stroke="#08adc9" d="M4785 1154l25-14l32 50l-25 5z"/><path fill="#14bdf6" stroke="#0e91c9" d="M4842 1190l26 11l32 91l-26-27z"/><path fill="#1f92f6" stroke="#1570c9" d="M4900 1292l25 26l32 99l-25-2z"/><path fill="#1e63f6" stroke="#154cc9" d="M4957 1417l26 22l32 114l-26-7z"/><path fill="#1230f6" stroke="#0c24c9" d="M5015 1553l25 5l32 144l-25-21z"/><path fill="#0600ff" stroke="#0400d1" d="M5072 1702l26 7l32 137l-26-27z"/><path fill="#1334f6" stroke="#0d28c9" d="M5130 1846l25 12l32-174l-25 2z"/><path fill="#1c59f6" stroke="#1344c9" d="M5187 1684l26 22l32-134l-26-31z"/><path fill="#1e96f6" stroke="#1573c9" d="M5245 1572l26 1l32-186l-26 28z"/><path fill="#14bef6" stroke="#0e92c9" d="M5303 1387l25 8l32-131l-25 8z"/><path fill="#0ed8f6" stroke="#09a6c9" d="M5360 1264l26-19l32-62l-26 3z"/><path fill="#0fd3f6" stroke="#0aa2c9" d="M5418 1183l25-7l32 19l-25-14z"/><path fill="#12c3f6" stroke="#0c96c9" d="M5475 1195l26 18l32 24l-26 9z"/><path fill="#15b7f6" stroke="#0e8cc9" d="M5533 1237l25-10l32 45l-25 9z"/><path fill="#1f90f6" stroke="#156ec9" d="M5590 1272l26 16l32 97l-26-41z"/><path fill="#2069f6" stroke="#1650c9" d="M5648 1385l25 53l32 60l-25-62z"/><path fill="#2275f6" stroke="#175ac9" d="M5705 1498l26 63l32-101l-26-51z"/><path fill="#247df6" stroke="#1960c9" d="M5763 1460l25 96l32-122l-25-76z"/><path fill="#2186f6" stroke="#1767c9" d="M5820 1434l26 69l32-102l-26-68z"/><path fill="#1c9cf6" stroke="#1378c9" d="M5878 1401l26 56l32-122l-26-69z"/><path fill="#12c4f6" stroke="#0c96c9" d="M5936 1335l25-23l32-102l-25 35z"/><path fill="#13c1f6" stroke="#0d94c9" d="M5993 1210l26-26l32 36l-26 16z"/><path fill="#1e92f6" stroke="#1570c9" d="M6051 1220l25 9l32 125l-25-25z"/><path fill="#1d60f6" stroke="#1449c9" d="M6108 1354l26 21l32 127l-26-16z"/><path fill="#112cf6" stroke="#0b21c9" d="M6166 1502l25 15l32 135l-25-31z"/><path fill="#0704ff" stroke="#0403d1" d="M6223 1652l26 3l32 112l-26 4z"/><path fill="#1849f6" stroke="#1038c9" d="M4465 1614l26-33l32 88l-26 44z"/><path fill="#1335f6" stroke="#0d28c9" d="M4523 1669l25-43l32 102l-25 34z"/><path fill="#2479f6" stroke="#195dc9" d="M4580 1728l26-68l32-140l-26 46z"/><path fill="#1ba2f6" stroke="#127cc9" d="M4638 1520l25-35l32-89l-25 61z"/><path fill="#0ed8f6" stroke="#09a6c9" d="M4695 1396l26-42l32-120l-26 9z"/><path fill="#06f6f6" stroke="#04bdc9" d="M4753 1234l25-8l32-86l-25 14z"/><path fill="#0be1f6" stroke="#07adc9" d="M4810 1140l26 39l32 22l-26-11z"/><path fill="#15b8f6" stroke="#0e8dc9" d="M4868 1201l25 10l32 107l-25-26z"/><path fill="#1f8ef6" stroke="#156dc9" d="M4925 1318l26-17l32 138l-26-22z"/><path fill="#1f65f6" stroke="#154dc9" d="M4983 1439l25 18l32 101l-25-5z"/><path fill="#1232f6" stroke="#0c26c9" d="M5040 1558l26 5l32 146l-26-7z"/><path fill="#0600ff" stroke="#0400d1" d="M5098 1709l25 9l32 140l-25-12z"/><path fill="#1230f6" stroke="#0c24c9" d="M5155 1858l26 13l32-165l-26-22z"/><path fill="#1c5cf6" stroke="#1346c9" d="M5213 1706l26 8l32-141l-26-1z"/><path fill="#1d97f6" stroke="#1474c9" d="M5271 1573l25 2l32-180l-25-8z"/><path fill="#11c8f6" stroke="#0b9ac9" d="M5328 1395l26 6l32-156l-26 19z"/><path fill="#0cdff6" stroke="#08abc9" d="M5386 1245l25 1l32-70l-25 7z"/><path fill="#0fd1f6" stroke="#0aa0c9" d="M5443 1176l26-12l32 49l-26-18z"/><path fill="#11cbf6" stroke="#0b9cc9" d="M5501 1213l25-31l32 45l-25 10z"/><path fill="#16b6f6" stroke="#0f8cc9" d="M5558 1227l26 13l32 48l-26-16z"/><path fill="#2282f6" stroke="#1764c9" d="M5616 1288l25 64l32 86l-25-53z"/><path fill="#1b58f6" stroke="#1243c9" d="M5673 1438l26 56l32 67l-26-63z"/><path fill="#1c59f6" stroke="#1344c9" d="M5731 1561l25 99l32-104l-25-96z"/><path fill="#2069f6" stroke="#1650c9" d="M5788 1556l26 96l32-149l-26-69z"/><path fill="#2378f6" stroke="#185cc9" d="M5846 1503l26 97l32-143l-26-56z"/><path fill="#19a7f6" stroke="#1180c9" d="M5904 1457l25-56l32-89l-25 23z"/><path fill="#0fd1f6" stroke="#0aa0c9" d="M5961 1312l26-44l32-84l-26 26z"/><path fill="#13c2f6" stroke="#0d95c9" d="M6019 1184l25-17l32 62l-25-9z"/><path fill="#1f8ff6" stroke="#156ec9" d="M6076 1229l26 34l32 112l-26-21z"/><path fill="#1d5ff6" stroke="#1449c9" d="M6134 1375l25 14l32 128l-25-15z"/><path fill="#122ff6" stroke="#0c24c9" d="M6191 1517l26 1l32 137l-26-3z"/><path fill="#0600ff" stroke="#0400d1" d="M6249 1655l25 21l32 125l-25-34z"/><path fill="#206cf6" stroke="#1653c9" d="M4433 1510l26-27l32 98l-26 33z"/><path fill="#1c5cf6" stroke="#1346c9" d="M4491 1581l25-33l32 78l-25 43z"/><path fill="#194ff6" stroke="#113cc9" d="M4548 1626l26-42l32 76l-26 68z"/><path fill="#2189f6" stroke="#1769c9" d="M4606 1660l25-81l32-94l-25 35z"/><path fill="#16b4f6" stroke="#0f8ac9" d="M4663 1485l26-29l32-102l-26 42z"/><path fill="#0cdff6" stroke="#08abc9" d="M4721 1354l25-43l32-85l-25 8z"/><path fill="#08edf6" stroke="#05b6c9" d="M4778 1226l26 33l32-80l-26-39z"/><path fill="#0be2f6" stroke="#07aec9" d="M4836 1179l25 50l32-18l-25-10z"/><path fill="#13c2f6" stroke="#0d95c9" d="M4893 1211l26 28l32 62l-26 17z"/><path fill="#208cf6" stroke="#166bc9" d="M4951 1301l25-13l32 169l-25-18z"/><path fill="#1f68f6" stroke="#1550c9" d="M5008 1457l26-3l32 109l-26-5z"/><path fill="#1233f6" stroke="#0c27c9" d="M5066 1563l25 9l32 146l-25-9z"/><path fill="#0600ff" stroke="#0400d1" d="M5123 1718l26 10l32 143l-26-13z"/><path fill="#1232f6" stroke="#0c26c9" d="M5181 1871l26 6l32-163l-26-8z"/><path fill="#1d60f6" stroke="#1449c9" d="M5239 1714l25 15l32-154l-25-2z"/><path fill="#1d99f6" stroke="#1475c9" d="M5296 1575l26 10l32-184l-26-6z"/><path fill="#10ccf6" stroke="#0b9dc9" d="M5354 1401l25-13l32-142l-25-1z"/><path fill="#0ae6f6" stroke="#07b1c9" d="M5411 1246l26 5l32-87l-26 12z"/><path fill="#0ce0f6" stroke="#08acc9" d="M5469 1164l25-21l32 39l-25 31z"/><path fill="#11cbf6" stroke="#0b9cc9" d="M5526 1182l26-8l32 66l-26-13z"/><path fill="#1aa4f6" stroke="#127ec9" d="M5584 1240l25 48l32 64l-25-64z"/><path fill="#2274f6" stroke="#1759c9" d="M5641 1352l26 68l32 74l-26-56z"/><path fill="#143bf6" stroke="#0e2dc9" d="M5699 1494l25 76l32 90l-25-99z"/><path fill="#153df6" stroke="#0e2ec9" d="M5756 1660l26 93l32-101l-26-96z"/><path fill="#194df6" stroke="#113bc9" d="M5814 1652l26 65l32-117l-26-97z"/><path fill="#1f8ff6" stroke="#156ec9" d="M5872 1600l25-42l32-157l-25 56z"/><path fill="#15bbf6" stroke="#0e8fc9" d="M5929 1401l26-36l32-97l-26 44z"/><path fill="#0ddcf6" stroke="#09a9c9" d="M5987 1268l25-34l32-67l-25 17z"/><path fill="#15baf6" stroke="#0e8fc9" d="M6044 1167l26 3l32 93l-26-34z"/><path fill="#1f8ff6" stroke="#156ec9" d="M6102 1263l25 34l32 92l-25-14z"/><path fill="#1e62f6" stroke="#154bc9" d="M6159 1389l26 14l32 115l-26-1z"/><path fill="#112cf6" stroke="#0b21c9" d="M6217 1518l25 12l32 146l-25-21z"/><path fill="#0702ff" stroke="#0401d1" d="M6274 1676l26 14l32 107l-26 4z"/><path fill="#1e92f6" stroke="#1570c9" d="M4401 1389l26-17l32 111l-26 27z"/><path fill="#247cf6" stroke="#195fc9" d="M4459 1483l25-7l32 72l-25 33z"/><path fill="#216ef6" stroke="#1754c9" d="M4516 1548l26-42l32 78l-26 42z"/><path fill="#216ff6" stroke="#1755c9" d="M4574 1584l25-43l32 38l-25 81z"/><path fill="#1d97f6" stroke="#1474c9" d="M4631 1579l26-21l32-102l-26 29z"/><path fill="#12c7f6" stroke="#0c99c9" d="M4689 1456l25-25l32-120l-25 43z"/><path fill="#0ed7f6" stroke="#09a5c9" d="M4746 1311l26 35l32-87l-26-33z"/><path fill="#0be1f6" stroke="#07adc9" d="M4804 1259l25 50l32-80l-25-50z"/><path fill="#0ddcf6" stroke="#09a9c9" d="M4861 1229l26 51l32-41l-26-28z"/><path fill="#11caf6" stroke="#0b9bc9" d="M4919 1239l25 36l32 13l-25 13z"/><path fill="#1f92f6" stroke="#1570c9" d="M4976 1288l26 29l32 137l-26 3z"/><path fill="#2069f6" stroke="#1650c9" d="M5034 1454l25 16l32 102l-25-9z"/><path fill="#1334f6" stroke="#0d28c9" d="M5091 1572l26 20l32 136l-26-10z"/><path fill="#0600ff" stroke="#0400d1" d="M5149 1728l26 7l32 142l-26-6z"/><path fill="#1231f6" stroke="#0c25c9" d="M5207 1877l25 15l32-163l-25-15z"/><path fill="#1e61f6" stroke="#154ac9" d="M5264 1729l26 25l32-169l-26-10z"/><path fill="#1ba1f6" stroke="#127bc9" d="M5322 1585l25-11l32-186l-25 13z"/><path fill="#10cef6" stroke="#0b9ec9" d="M5379 1388l26-4l32-133l-26-5z"/><path fill="#07f2f6" stroke="#04bac9" d="M5437 1251l25-29l32-79l-25 21z"/><path fill="#0ae6f6" stroke="#07b1c9" d="M5494 1143l26-7l32 38l-26 8z"/><path fill="#14c0f6" stroke="#0e93c9" d="M5552 1174l25 50l32 64l-25-48z"/><path fill="#1f92f6" stroke="#1570c9" d="M5609 1288l26 39l32 93l-26-68z"/><path fill="#1d5ff6" stroke="#1449c9" d="M5667 1420l25 71l32 79l-25-76z"/><path fill="#0e20f6" stroke="#0918c9" d="M5724 1570l26 72l32 111l-26-93z"/><path fill="#112bf6" stroke="#0b21c9" d="M5782 1753l26 94l32-130l-26-65z"/><path fill="#1d60f6" stroke="#1449c9" d="M5840 1717l25-86l32-73l-25 42z"/><path fill="#1b9ff6" stroke="#127ac9" d="M5897 1558l26-64l32-129l-26 36z"/><path fill="#11caf6" stroke="#0b9bc9" d="M5955 1365l25-47l32-84l-25 34z"/><path fill="#0cdff6" stroke="#08abc9" d="M6012 1234l26-47l32-17l-26-3z"/><path fill="#16b3f6" stroke="#0f89c9" d="M6070 1170l25-1l32 128l-25-34z"/><path fill="#1f8ef6" stroke="#156dc9" d="M6127 1297l26 3l32 103l-26-14z"/><path fill="#1e62f6" stroke="#154bc9" d="M6185 1403l25 29l32 98l-25-12z"/><path fill="#112cf6" stroke="#0b21c9" d="M6242 1530l26 2l32 158l-26-14z"/><path fill="#0600ff" stroke="#0400d1" d="M6300 1690l25 14l32 118l-25-25z"/><path fill="#14bdf6" stroke="#0e91c9" d="M4369 1382l26-20l32 10l-26 17z"/><path fill="#1d99f6" stroke="#1475c9" d="M4427 1372l25-24l32 128l-25 7z"/><path fill="#208df6" stroke="#166cc9" d="M4484 1476l26-55l32 85l-26 42z"/><path fill="#2381f6" stroke="#1863c9" d="M4542 1506l25-35l32 70l-25 43z"/><path fill="#247af6" stroke="#195dc9" d="M4599 1541l26-31l32 48l-26 21z"/><path fill="#1aa3f6" stroke="#127dc9" d="M4657 1558l25-19l32-108l-25 25z"/><path fill="#14c0f6" stroke="#0e93c9" d="M4714 1431l26 28l32-113l-26-35z"/><path fill="#11caf6" stroke="#0b9bc9" d="M4772 1346l25 54l32-91l-25-50z"/><path fill="#0fd3f6" stroke="#0aa2c9" d="M4829 1309l26 68l32-97l-26-51z"/><path fill="#0ed4f6" stroke="#09a3c9" d="M4887 1280l25 59l32-64l-25-36z"/><path fill="#12c4f6" stroke="#0c96c9" d="M4944 1275l26 40l32 2l-26-29z"/><path fill="#1f90f6" stroke="#156ec9" d="M5002 1317l25 47l32 106l-25-16z"/><path fill="#1f66f6" stroke="#154ec9" d="M5059 1470l26 5l32 117l-26-20z"/><path fill="#1336f6" stroke="#0d29c9" d="M5117 1592l26 13l32 130l-26-7z"/><path fill="#0600ff" stroke="#0400d1" d="M5175 1735l25 32l32 125l-25-15z"/><path fill="#112df6" stroke="#0b22c9" d="M5232 1892l26 19l32-157l-26-25z"/><path fill="#1f68f6" stroke="#1550c9" d="M5290 1754l25-2l32-178l-25 11z"/><path fill="#19a7f6" stroke="#1180c9" d="M5347 1574l26-6l32-184l-26 4z"/><path fill="#0cddf6" stroke="#08aac9" d="M5405 1384l25-8l32-154l-25 29z"/><path fill="#06f7f6" stroke="#04bec9" d="M5462 1222l26-5l32-81l-26 7z"/><path fill="#0ddaf6" stroke="#09a7c9" d="M5520 1136l25 41l32 47l-25-50z"/><path fill="#16b6f6" stroke="#0f8cc9" d="M5577 1224l26 45l32 58l-26-39z"/><path fill="#237ff6" stroke="#1861c9" d="M5635 1327l25 54l32 110l-25-71z"/><path fill="#184af6" stroke="#1038c9" d="M5692 1491l26 55l32 96l-26-72z"/><path fill="#0704ff" stroke="#0403d1" d="M5750 1642l26 81l32 124l-26-94z"/><path fill="#194cf6" stroke="#113ac9" d="M5808 1847l25-71l32-145l-25 86z"/><path fill="#2379f6" stroke="#185dc9" d="M5865 1631l26-53l32-84l-26 64z"/><path fill="#16b3f6" stroke="#0f89c9" d="M5923 1494l25-68l32-108l-25 47z"/><path fill="#0cdef6" stroke="#08aac9" d="M5980 1318l26-52l32-79l-26 47z"/><path fill="#0be2f6" stroke="#07aec9" d="M6038 1187l25-17l32-1l-25 1z"/><path fill="#16b6f6" stroke="#0f8cc9" d="M6095 1169l26-6l32 137l-26-3z"/><path fill="#2188f6" stroke="#1768c9" d="M6153 1300l25 15l32 117l-25-29z"/><path fill="#1f66f6" stroke="#154ec9" d="M6210 1432l26 1l32 99l-26-2z"/><path fill="#112bf6" stroke="#0b21c9" d="M6268 1532l25-1l32 173l-25-14z"/><path fill="#0806ff" stroke="#0504d1" d="M6325 1704l26 1l32 106l-26 11z"/><path fill="#12c5f6" stroke="#0c97c9" d="M4337 1443l26-13l32-68l-26 20z"/><path fill="#11c9f6" stroke="#0b9ac9" d="M4395 1362l25-15l32 1l-25 24z"/><path fill="#17aff6" stroke="#1086c9" d="M4452 1348l26-16l32 89l-26 55z"/><path fill="#1c9ef6" stroke="#1379c9" d="M4510 1421l25-36l32 86l-25 35z"/><path fill="#1f8ff6" stroke="#156ec9" d="M4567 1471l26-39l32 78l-26 31z"/><path fill="#2284f6" stroke="#1765c9" d="M4625 1510l25-27l32 56l-25 19z"/><path fill="#1b9ff6" stroke="#127ac9" d="M4682 1539l26 29l32-109l-26-28z"/><path fill="#17b1f6" stroke="#1088c9" d="M4740 1459l25 53l32-112l-25-54z"/><path fill="#15b8f6" stroke="#0e8dc9" d="M4797 1400l26 67l32-90l-26-68z"/><path fill="#12c3f6" stroke="#0c96c9" d="M4855 1377l25 72l32-110l-25-59z"/><path fill="#11caf6" stroke="#0b9bc9" d="M4912 1339l26 55l32-79l-26-40z"/><path fill="#15b9f6" stroke="#0e8ec9" d="M4970 1315l25 44l32 5l-25-47z"/><path fill="#1e93f6" stroke="#1571c9" d="M5027 1364l26 16l32 95l-26-5z"/><path fill="#1f66f6" stroke="#154ec9" d="M5085 1475l26 3l32 127l-26-13z"/><path fill="#112ff6" stroke="#0b24c9" d="M5143 1605l25 30l32 132l-25-32z"/><path fill="#0600ff" stroke="#0400d1" d="M5200 1767l26 22l32 122l-26-19z"/><path fill="#1232f6" stroke="#0c26c9" d="M5258 1911l25 13l32-172l-25 2z"/><path fill="#216ff6" stroke="#1755c9" d="M5315 1752l26 23l32-207l-26 6z"/><path fill="#18aef6" stroke="#1085c9" d="M5373 1568l25 0l32-192l-25 8z"/><path fill="#0be2f6" stroke="#07aec9" d="M5430 1376l26 0l32-159l-26 5z"/><path fill="#08eff6" stroke="#05b8c9" d="M5488 1217l25 36l32-76l-25-41z"/><path fill="#10cff6" stroke="#0b9fc9" d="M5545 1177l26 43l32 49l-26-45z"/><path fill="#19a8f6" stroke="#1181c9" d="M5603 1269l25 29l32 83l-25-54z"/><path fill="#2170f6" stroke="#1756c9" d="M5660 1381l26 60l32 105l-26-55z"/><path fill="#1333f6" stroke="#0d27c9" d="M5718 1546l26 72l32 105l-26-81z"/><path fill="#0e20f6" stroke="#0918c9" d="M5776 1723l25-52l32 105l-25 71z"/><path fill="#1e61f6" stroke="#154ac9" d="M5833 1776l26-74l32-124l-26 53z"/><path fill="#1e94f6" stroke="#1571c9" d="M5891 1578l25-55l32-97l-25 68z"/><path fill="#11c8f6" stroke="#0b9ac9" d="M5948 1426l26-42l32-118l-26 52z"/><path fill="#0ae7f6" stroke="#07b1c9" d="M6006 1266l25-41l32-55l-25 17z"/><path fill="#09e9f6" stroke="#06b3c9" d="M6063 1170l26-20l32 13l-26 6z"/><path fill="#16b5f6" stroke="#0f8bc9" d="M6121 1163l25 14l32 138l-25-15z"/><path fill="#208cf6" stroke="#166bc9" d="M6178 1315l26-4l32 122l-26-1z"/><path fill="#206af6" stroke="#1651c9" d="M6236 1433l25-12l32 110l-25 1z"/><path fill="#112ff6" stroke="#0b24c9" d="M6293 1531l26 1l32 173l-26-1z"/><path fill="#0807ff" stroke="#0505d1" d="M6351 1705l25 1l32 114l-25-9z"/><path fill="#16b4f6" stroke="#0f8ac9" d="M4305 1555l26 10l32-135l-26 13z"/><path fill="#10cef6" stroke="#0b9ec9" d="M4363 1430l25-24l32-59l-25 15z"/><path fill="#0fd2f6" stroke="#0aa1c9" d="M4420 1347l26-15l32 0l-26 16z"/><path fill="#13c0f6" stroke="#0d93c9" d="M4478 1332l25-7l32 60l-25 36z"/><path fill="#17aff6" stroke="#1086c9" d="M4535 1385l26-18l32 65l-26 39z"/><path fill="#1c9df6" stroke="#1378c9" d="M4593 1432l25-35l32 86l-25 27z"/><path fill="#237ff6" stroke="#1861c9" d="M4650 1483l26 37l32 48l-26-29z"/><path fill="#1f91f6" stroke="#156fc9" d="M4708 1568l25 57l32-113l-25-53z"/><path fill="#1b9ff6" stroke="#127ac9" d="M4765 1512l26 87l32-132l-26-67z"/><path fill="#1aa3f6" stroke="#127dc9" d="M4823 1467l25 64l32-82l-25-72z"/><path fill="#16b6f6" stroke="#0f8cc9" d="M4880 1449l26 54l32-109l-26-55z"/><path fill="#13c1f6" stroke="#0d94c9" d="M4938 1394l25 56l32-91l-25-44z"/><path fill="#15b8f6" stroke="#0e8dc9" d="M4995 1359l26 11l32 10l-26-16z"/><path fill="#1d96f6" stroke="#1473c9" d="M5053 1380l26-12l32 110l-26-3z"/><path fill="#1d61f6" stroke="#144ac9" d="M5111 1478l25 13l32 144l-25-30z"/><path fill="#112bf6" stroke="#0b21c9" d="M5168 1635l26 18l32 136l-26-22z"/><path fill="#0600ff" stroke="#0400d1" d="M5226 1789l25 6l32 129l-25-13z"/><path fill="#112ef6" stroke="#0b23c9" d="M5283 1924l26 22l32-171l-26-23z"/><path fill="#2273f6" stroke="#1758c9" d="M5341 1775l25-8l32-199l-25 0z"/><path fill="#17b2f6" stroke="#1089c9" d="M5398 1568l26 16l32-208l-26 0z"/><path fill="#0ddbf6" stroke="#09a8c9" d="M5456 1376l25 25l32-148l-25-36z"/><path fill="#0ae4f6" stroke="#07afc9" d="M5513 1253l26 39l32-72l-26-43z"/><path fill="#11c9f6" stroke="#0b9ac9" d="M5571 1220l25 47l32 31l-25-29z"/><path fill="#1d98f6" stroke="#1475c9" d="M5628 1298l26 28l32 115l-26-60z"/><path fill="#1c5cf6" stroke="#1346c9" d="M5686 1441l26 41l32 136l-26-72z"/><path fill="#1848f6" stroke="#1037c9" d="M5744 1618l25-23l32 76l-25 52z"/><path fill="#153ef6" stroke="#0e2fc9" d="M5801 1671l26-56l32 87l-26 74z"/><path fill="#2379f6" stroke="#185dc9" d="M5859 1702l25-64l32-115l-25 55z"/><path fill="#1aa6f6" stroke="#127fc9" d="M5916 1523l26-40l32-99l-26 42z"/><path fill="#0ddbf6" stroke="#09a8c9" d="M5974 1384l25-33l32-126l-25 41z"/><path fill="#07f3f6" stroke="#04bbc9" d="M6031 1225l26-10l32-65l-26 20z"/><path fill="#09e8f6" stroke="#06b2c9" d="M6089 1150l25 24l32 3l-25-14z"/><path fill="#15bbf6" stroke="#0e8fc9" d="M6146 1177l26 21l32 113l-26 4z"/><path fill="#1e95f6" stroke="#1572c9" d="M6204 1311l25-8l32 118l-25 12z"/><path fill="#216ef6" stroke="#1754c9" d="M6261 1421l26 8l32 103l-26-1z"/><path fill="#1233f6" stroke="#0c27c9" d="M6319 1532l25 6l32 168l-25-1z"/><path fill="#0809ff" stroke="#0506d1" d="M6376 1706l26 21l32 101l-26-8z"/><path fill="#208bf6" stroke="#166bc9" d="M4273 1733l26-11l32-157l-26-10z"/><path fill="#13c0f6" stroke="#0d93c9" d="M4331 1565l25 2l32-161l-25 24z"/><path fill="#0ed8f6" stroke="#09a6c9" d="M4388 1406l26-12l32-62l-26 15z"/><path fill="#0dd9f6" stroke="#09a7c9" d="M4446 1332l25-27l32 20l-25 7z"/><path fill="#11c9f6" stroke="#0b9ac9" d="M4503 1325l26 4l32 38l-26 18z"/><path fill="#14bff6" stroke="#0e93c9" d="M4561 1367l25-10l32 40l-25 35z"/><path fill="#1e94f6" stroke="#1571c9" d="M4618 1397l26 41l32 82l-26-37z"/><path fill="#2170f6" stroke="#1756c9" d="M4676 1520l25 59l32 46l-25-57z"/><path fill="#2378f6" stroke="#185cc9" d="M4733 1625l26 66l32-92l-26-87z"/><path fill="#208ef6" stroke="#166dc9" d="M4791 1599l25 93l32-161l-25-64z"/><path fill="#1d96f6" stroke="#1473c9" d="M4848 1531l26 78l32-106l-26-54z"/><path fill="#19a6f6" stroke="#117fc9" d="M4906 1503l25 60l32-113l-25-56z"/><path fill="#13c1f6" stroke="#0d94c9" d="M4963 1450l26 14l32-94l-26-11zM5021 1370l26-21l32 19l-26 12z"/><path fill="#1e96f6" stroke="#1573c9" d="M5079 1368l25 11l32 112l-25-13z"/><path fill="#1d5ff6" stroke="#1449c9" d="M5136 1491l26 38l32 124l-26-18z"/><path fill="#112df6" stroke="#0b22c9" d="M5194 1653l25 10l32 132l-25-6z"/><path fill="#0600ff" stroke="#0400d1" d="M5251 1795l26-5l32 156l-26-22z"/><path fill="#1335f6" stroke="#0d28c9" d="M5309 1946l25 4l32-183l-25 8z"/><path fill="#2271f6" stroke="#1757c9" d="M5366 1767l26-2l32-181l-26-16z"/><path fill="#18aef6" stroke="#1085c9" d="M5424 1584l25 14l32-197l-25-25z"/><path fill="#0fd1f6" stroke="#0aa0c9" d="M5481 1401l26 23l32-132l-26-39z"/><path fill="#0dd9f6" stroke="#09a7c9" d="M5539 1292l25 32l32-57l-25-47z"/><path fill="#12c4f6" stroke="#0c96c9" d="M5596 1267l26 63l32-4l-26-28z"/><path fill="#1f8ef6" stroke="#156dc9" d="M5654 1326l26 62l32 94l-26-41z"/><path fill="#1f67f6" stroke="#154fc9" d="M5712 1482l25-1l32 114l-25 23z"/><path fill="#1d60f6" stroke="#1449c9" d="M5769 1595l26-43l32 63l-26 56z"/><path fill="#1b57f6" stroke="#1242c9" d="M5827 1615l25-35l32 58l-25 64z"/><path fill="#208af6" stroke="#166ac9" d="M5884 1638l26-40l32-115l-26 40z"/><path fill="#16b6f6" stroke="#0f8cc9" d="M5942 1483l25-32l32-100l-25 33z"/><path fill="#0be2f6" stroke="#07aec9" d="M5999 1351l26-24l32-112l-26 10z"/><path fill="#08eff6" stroke="#05b8c9" d="M6057 1215l25 35l32-76l-25-24z"/><path fill="#0ae5f6" stroke="#07b0c9" d="M6114 1174l26 25l32-1l-26-21z"/><path fill="#13c2f6" stroke="#0d95c9" d="M6172 1198l25 36l32 69l-25 8z"/><path fill="#1e96f6" stroke="#1573c9" d="M6229 1303l26 21l32 105l-26-8z"/><path fill="#2171f6" stroke="#1757c9" d="M6287 1429l25 12l32 97l-25-6z"/><path fill="#1230f6" stroke="#0c24c9" d="M6344 1538l26 17l32 172l-26-21z"/><path fill="#0703ff" stroke="#0402d1" d="M6402 1727l26 11l32 117l-26-27z"/><path fill="#1c5cf6" stroke="#1346c9" d="M4241 1842l26 21l32-141l-26 11z"/><path fill="#1f8ff6" stroke="#156ec9" d="M4299 1722l25-1l32-154l-25-2z"/><path fill="#11c8f6" stroke="#0b9ac9" d="M4356 1567l26-23l32-150l-26 12z"/><path fill="#0ae5f6" stroke="#07b0c9" d="M4414 1394l25-9l32-80l-25 27z"/><path fill="#0ddcf6" stroke="#09a9c9" d="M4471 1305l26-4l32 28l-26-4z"/><path fill="#0fd1f6" stroke="#0aa0c9" d="M4529 1329l25 0l32 28l-25 10z"/><path fill="#16b5f6" stroke="#0f8bc9" d="M4586 1357l26 33l32 48l-26-41z"/><path fill="#2284f6" stroke="#1765c9" d="M4644 1438l25 50l32 91l-25-59z"/><path fill="#1d5ef6" stroke="#1448c9" d="M4701 1579l26 43l32 69l-26-66z"/><path fill="#1d5df6" stroke="#1447c9" d="M4759 1691l25 90l32-89l-25-93z"/><path fill="#2378f6" stroke="#185cc9" d="M4816 1692l26 60l32-143l-26-78z"/><path fill="#2186f6" stroke="#1767c9" d="M4874 1609l25 85l32-131l-25-60z"/><path fill="#1aa6f6" stroke="#127fc9" d="M4931 1563l26 18l32-117l-26-14z"/><path fill="#10ccf6" stroke="#0b9dc9" d="M4989 1464l26-42l32-73l-26 21z"/><path fill="#13c1f6" stroke="#0d94c9" d="M5047 1349l25-17l32 47l-25-11z"/><path fill="#208df6" stroke="#166cc9" d="M5104 1379l26 23l32 127l-26-38z"/><path fill="#1d60f6" stroke="#1449c9" d="M5162 1529l25 29l32 105l-25-10z"/><path fill="#1334f6" stroke="#0d28c9" d="M5219 1663l26 17l32 110l-26 5z"/><path fill="#0600ff" stroke="#0400d1" d="M5277 1790l25 16l32 144l-25-4z"/><path fill="#143af6" stroke="#0e2cc9" d="M5334 1950l26 10l32-195l-26 2z"/><path fill="#2271f6" stroke="#1757c9" d="M5392 1765l25 17l32-184l-25-14z"/><path fill="#19aaf6" stroke="#1182c9" d="M5449 1598l26 20l32-194l-26-23z"/><path fill="#11cbf6" stroke="#0b9cc9" d="M5507 1424l25 51l32-151l-25-32z"/><path fill="#11c8f6" stroke="#0b9ac9" d="M5564 1324l26 38l32-32l-26-63z"/><path fill="#16b3f6" stroke="#0f89c9" d="M5622 1330l26 12l32 46l-26-62z"/><path fill="#1e93f6" stroke="#1571c9" d="M5680 1388l25 38l32 55l-25 1z"/><path fill="#247af6" stroke="#195dc9" d="M5737 1481l26-25l32 96l-26 43z"/><path fill="#2170f6" stroke="#1756c9" d="M5795 1552l25-46l32 74l-25 35z"/><path fill="#1f68f6" stroke="#1550c9" d="M5852 1580l26-45l32 63l-26 40z"/><path fill="#1d99f6" stroke="#1475c9" d="M5910 1598l25-34l32-113l-25 32z"/><path fill="#13c2f6" stroke="#0d95c9" d="M5967 1451l26-28l32-96l-26 24z"/><path fill="#0ddbf6" stroke="#09a8c9" d="M6025 1327l25 30l32-107l-25-35z"/><path fill="#09eaf6" stroke="#06b4c9" d="M6082 1250l26 47l32-98l-26-25z"/><path fill="#0cdef6" stroke="#08aac9" d="M6140 1199l25 38l32-3l-25-36z"/><path fill="#14bff6" stroke="#0e93c9" d="M6197 1234l26 39l32 51l-26-21z"/><path fill="#1d96f6" stroke="#1473c9" d="M6255 1324l25 14l32 103l-25-12z"/><path fill="#216ff6" stroke="#1755c9" d="M6312 1441l26 18l32 96l-26-17z"/><path fill="#1230f6" stroke="#0c24c9" d="M6370 1555l26 17l32 166l-26-11z"/><path fill="#0600ff" stroke="#0400d1" d="M6428 1738l25 18l32 152l-25-53z"/><path fill="#1232f6" stroke="#0c26c9" d="M4209 2047l26-14l32-170l-26-21z"/><path fill="#1d61f6" stroke="#144ac9" d="M4267 1863l25 18l32-160l-25 1z"/><path fill="#1c9bf6" stroke="#1377c9" d="M4324 1721l26-14l32-163l-26 23z"/><path fill="#10cff6" stroke="#0b9fc9" d="M4382 1544l25-17l32-142l-25 9z"/><path fill="#09eaf6" stroke="#06b4c9" d="M4439 1385l26-12l32-72l-26 4z"/><path fill="#0ce0f6" stroke="#08acc9" d="M4497 1301l25-3l32 31l-25 0z"/><path fill="#11caf6" stroke="#0b9bc9" d="M4554 1329l26 5l32 56l-26-33z"/><path fill="#19a8f6" stroke="#1181c9" d="M4612 1390l25 51l32 47l-25-50z"/><path fill="#247bf6" stroke="#195ec9" d="M4669 1488l26 43l32 91l-26-43z"/><path fill="#1743f6" stroke="#1033c9" d="M4727 1622l25 75l32 84l-25-90z"/><path fill="#194cf6" stroke="#113ac9" d="M4784 1781l26 79l32-108l-26-60z"/><path fill="#1d5ff6" stroke="#1449c9" d="M4842 1752l25 73l32-131l-25-85z"/><path fill="#2284f6" stroke="#1765c9" d="M4899 1694l26 21l32-134l-26-18z"/><path fill="#15b9f6" stroke="#0e8ec9" d="M4957 1581l26-51l32-108l-26 42z"/><path fill="#0ed6f6" stroke="#09a4c9" d="M5015 1422l25-38l32-52l-25 17z"/><path fill="#14bdf6" stroke="#0e91c9" d="M5072 1332l26 8l32 62l-26-23z"/><path fill="#2187f6" stroke="#1767c9" d="M5130 1402l25 10l32 146l-25-29z"/><path fill="#1d5ef6" stroke="#1448c9" d="M5187 1558l26 22l32 100l-26-17z"/><path fill="#1232f6" stroke="#0c26c9" d="M5245 1680l25-6l32 132l-25-16z"/><path fill="#0600ff" stroke="#0400d1" d="M5302 1806l26 19l32 135l-26-10z"/><path fill="#1439f6" stroke="#0e2bc9" d="M5360 1960l25 7l32-185l-25-17z"/><path fill="#216ef6" stroke="#1754c9" d="M5417 1782l26 19l32-183l-26-20z"/><path fill="#1c9ef6" stroke="#1379c9" d="M5475 1618l25 22l32-165l-25-51z"/><path fill="#13c2f6" stroke="#0d95c9" d="M5532 1475l26 47l32-160l-26-38z"/><path fill="#11c7f6" stroke="#0b99c9" d="M5590 1362l26 43l32-63l-26-12z"/><path fill="#18aaf6" stroke="#1082c9" d="M5648 1342l25 30l32 54l-25-38z"/><path fill="#1ba0f6" stroke="#127bc9" d="M5705 1426l26-19l32 49l-26 25z"/><path fill="#1f8ef6" stroke="#156dc9" d="M5763 1456l25-18l32 68l-25 46z"/><path fill="#2282f6" stroke="#1764c9" d="M5820 1506l26-31l32 60l-26 45z"/><path fill="#2379f6" stroke="#185dc9" d="M5878 1535l25-46l32 75l-25 34z"/><path fill="#1aa6f6" stroke="#127fc9" d="M5935 1564l26-25l32-116l-26 28z"/><path fill="#14bcf6" stroke="#0e90c9" d="M5993 1423l25 29l32-95l-25-30z"/><path fill="#10cff6" stroke="#0b9fc9" d="M6050 1357l26 48l32-108l-26-47z"/><path fill="#0be2f6" stroke="#07aec9" d="M6108 1297l25 57l32-117l-25-38z"/><path fill="#0ed5f6" stroke="#09a4c9" d="M6165 1237l26 95l32-59l-26-39z"/><path fill="#14bef6" stroke="#0e92c9" d="M6223 1273l25 69l32-4l-25-14z"/><path fill="#1e95f6" stroke="#1572c9" d="M6280 1338l26 29l32 92l-26-18z"/><path fill="#216df6" stroke="#1753c9" d="M6338 1459l26 27l32 86l-26-17z"/><path fill="#112ef6" stroke="#0b23c9" d="M6396 1572l25 17l32 167l-25-18z"/><path fill="#0600ff" stroke="#0400d1" d="M6453 1756l26 23l32 156l-26-27z"/><path fill="#1230f6" stroke="#0c24c9" d="M4235 2033l25-1l32-151l-25-18z"/><path fill="#2069f6" stroke="#1650c9" d="M4292 1881l26-1l32-173l-26 14z"/><path fill="#1aa4f6" stroke="#127ec9" d="M4350 1707l25-6l32-174l-25 17z"/><path fill="#0ed8f6" stroke="#09a6c9" d="M4407 1527l26-7l32-147l-26 12z"/><path fill="#08f0f6" stroke="#05b8c9" d="M4465 1373l25-15l32-60l-25 3z"/><path fill="#0be2f6" stroke="#07aec9" d="M4522 1298l26 4l32 32l-26-5z"/><path fill="#14bef6" stroke="#0e92c9" d="M4580 1334l25 14l32 93l-25-51z"/><path fill="#1c9ef6" stroke="#1379c9" d="M4637 1441l26 33l32 57l-26-43z"/><path fill="#1f65f6" stroke="#154dc9" d="M4695 1531l25 54l32 112l-25-75z"/><path fill="#112df6" stroke="#0b22c9" d="M4752 1697l26 57l32 106l-26-79z"/><path fill="#1438f6" stroke="#0e2bc9" d="M4810 1860l25 88l32-123l-25-73z"/><path fill="#1c5cf6" stroke="#1346c9" d="M4867 1825l26 7l32-117l-26-21z"/><path fill="#1d9af6" stroke="#1476c9" d="M4925 1715l26-39l32-146l-26 51z"/><path fill="#11c9f6" stroke="#0b9ac9" d="M4983 1530l25-37l32-109l-25 38z"/><path fill="#0ed7f6" stroke="#09a5c9" d="M5040 1384l26-36l32-8l-26-8z"/><path fill="#14bef6" stroke="#0e92c9" d="M5098 1340l25 9l32 63l-25-10z"/><path fill="#2284f6" stroke="#1765c9" d="M5155 1412l26 22l32 146l-26-22z"/><path fill="#1e63f6" stroke="#154cc9" d="M5213 1580l25-17l32 111l-25 6z"/><path fill="#1230f6" stroke="#0c24c9" d="M5270 1674l26 14l32 137l-26-19z"/><path fill="#0600ff" stroke="#0400d1" d="M5328 1825l25 12l32 130l-25-7z"/><path fill="#1336f6" stroke="#0d29c9" d="M5385 1967l26 20l32-186l-26-19z"/><path fill="#206bf6" stroke="#1652c9" d="M5443 1801l25 7l32-168l-25-22z"/><path fill="#1f92f6" stroke="#1570c9" d="M5500 1640l26 27l32-145l-26-47z"/><path fill="#15b8f6" stroke="#0e8dc9" d="M5558 1522l26 25l32-142l-26-43z"/><path fill="#13c2f6" stroke="#0d95c9" d="M5616 1405l25 49l32-82l-25-30z"/><path fill="#16b6f6" stroke="#0f8cc9" d="M5673 1372l26-11l32 46l-26 19z"/><path fill="#19a9f6" stroke="#1182c9" d="M5731 1407l25-26l32 57l-25 18z"/><path fill="#1c9df6" stroke="#1378c9" d="M5788 1438l26-29l32 66l-26 31z"/><path fill="#1d97f6" stroke="#1474c9" d="M5846 1475l25-27l32 41l-25 46z"/><path fill="#2284f6" stroke="#1765c9" d="M5903 1489l26-18l32 68l-26 25z"/><path fill="#1ba1f6" stroke="#127bc9" d="M5961 1539l25 47l32-134l-25-29z"/><path fill="#17b0f6" stroke="#1087c9" d="M6018 1452l26 45l32-92l-26-48z"/><path fill="#13c0f6" stroke="#0d93c9" d="M6076 1405l25 65l32-116l-25-57z"/><path fill="#12c6f6" stroke="#0c98c9" d="M6133 1354l26 94l32-116l-26-95z"/><path fill="#13c2f6" stroke="#0d95c9" d="M6191 1332l25 100l32-90l-25-69z"/><path fill="#15b8f6" stroke="#0e8dc9" d="M6248 1342l26 58l32-33l-26-29z"/><path fill="#1f8ff6" stroke="#156ec9" d="M6306 1367l26 6l32 113l-26-27z"/><path fill="#206cf6" stroke="#1653c9" d="M6364 1486l25-11l32 114l-25-17z"/><path fill="#102bf6" stroke="#0b21c9" d="M6421 1589l26 28l32 162l-26-23z"/><path fill="#0600ff" stroke="#0400d1" d="M6479 1779l25 6l32 178l-25-28z"/><path fill="#1334f6" stroke="#0d28c9" d="M4260 2032l26 41l32-193l-26 1z"/><path fill="#216ff6" stroke="#1755c9" d="M4318 1880l25 0l32-179l-25 6z"/><path fill="#18abf6" stroke="#1083c9" d="M4375 1701l26 16l32-197l-26 7z"/><path fill="#0be1f6" stroke="#07adc9" d="M4433 1520l25-6l32-156l-25 15z"/><path fill="#07f2f6" stroke="#04bac9" d="M4490 1358l26 19l32-75l-26-4z"/><path fill="#0be2f6" stroke="#07aec9" d="M4548 1302l25 19l32 27l-25-14z"/><path fill="#16b7f6" stroke="#0f8cc9" d="M4605 1348l26 47l32 79l-26-33z"/><path fill="#1f90f6" stroke="#156ec9" d="M4663 1474l25 36l32 75l-25-54z"/><path fill="#1b57f6" stroke="#1242c9" d="M4720 1585l26 78l32 91l-26-57z"/><path fill="#0b14f6" stroke="#070fc9" d="M4778 1754l25 56l32 138l-25-88z"/><path fill="#143af6" stroke="#0e2cc9" d="M4835 1948l26 15l32-131l-26-7z"/><path fill="#216df6" stroke="#1753c9" d="M4893 1832l26-58l32-98l-26 39z"/><path fill="#19aaf6" stroke="#1182c9" d="M4951 1676l25-64l32-119l-25 37z"/><path fill="#0ddaf6" stroke="#09a7c9" d="M5008 1493l26-43l32-102l-26 36z"/><path fill="#0dd8f6" stroke="#09a6c9" d="M5066 1348l25-35l32 36l-25-9z"/><path fill="#15bbf6" stroke="#0e8fc9" d="M5123 1349l26 15l32 70l-26-22z"/><path fill="#1f8ef6" stroke="#156dc9" d="M5181 1434l25 10l32 119l-25 17z"/><path fill="#1e63f6" stroke="#154cc9" d="M5238 1563l26 4l32 121l-26-14z"/><path fill="#1230f6" stroke="#0c24c9" d="M5296 1688l25 22l32 127l-25-12z"/><path fill="#0600ff" stroke="#0400d1" d="M5353 1837l26 17l32 133l-26-20z"/><path fill="#1438f6" stroke="#0e2bc9" d="M5411 1987l25 2l32-181l-25-7z"/><path fill="#1f66f6" stroke="#154ec9" d="M5468 1808l26 11l32-152l-26-27z"/><path fill="#208df6" stroke="#166cc9" d="M5526 1667l26 18l32-138l-26-25z"/><path fill="#18acf6" stroke="#1084c9" d="M5584 1547l25 31l32-124l-25-49z"/><path fill="#11caf6" stroke="#0b9bc9" d="M5641 1454l26-8l32-85l-26 11z"/><path fill="#13c2f6" stroke="#0d95c9" d="M5699 1361l25-14l32 34l-25 26z"/><path fill="#15b8f6" stroke="#0e8dc9" d="M5756 1381l26-22l32 50l-26 29z"/><path fill="#19a9f6" stroke="#1182c9" d="M5814 1409l25-19l32 58l-25 27z"/><path fill="#1ba1f6" stroke="#127bc9" d="M5871 1448l26-22l32 45l-26 18z"/><path fill="#2379f6" stroke="#185dc9" d="M5929 1471l25 37l32 78l-25-47z"/><path fill="#1e96f6" stroke="#1573c9" d="M5986 1586l26 62l32-151l-26-45z"/><path fill="#1c9ef6" stroke="#1379c9" d="M6044 1497l25 49l32-76l-25-65z"/><path fill="#1aa4f6" stroke="#127ec9" d="M6101 1470l26 65l32-87l-26-94z"/><path fill="#19a8f6" stroke="#1181c9" d="M6159 1448l25 84l32-100l-25-100z"/><path fill="#17b2f6" stroke="#1089c9" d="M6216 1432l26 33l32-65l-26-58z"/><path fill="#15bbf6" stroke="#0e8fc9" d="M6274 1400l26 6l32-33l-26-6z"/><path fill="#1d97f6" stroke="#1474c9" d="M6332 1373l25-3l32 105l-25 11z"/><path fill="#1f66f6" stroke="#154ec9" d="M6389 1475l26 3l32 139l-26-28z"/><path fill="#112df6" stroke="#0b22c9" d="M6447 1617l25 31l32 137l-25-6z"/><path fill="#0600ff" stroke="#0400d1" d="M6504 1785l26 10l32 168l-26 0z"/><path fill="#1439f6" stroke="#0e2bc9" d="M4286 2073l25 42l32-235l-25 0z"/><path fill="#216ef6" stroke="#1754c9" d="M4343 1880l26 10l32-173l-26-16z"/><path fill="#17b1f6" stroke="#1088c9" d="M4401 1717l25 20l32-223l-25 6z"/><path fill="#0cdff6" stroke="#08abc9" d="M4458 1514l26 40l32-177l-26-19z"/><path fill="#08f0f6" stroke="#05b8c9" d="M4516 1377l25 41l32-97l-25-19z"/><path fill="#0ed6f6" stroke="#09a4c9" d="M4573 1321l26 36l32 38l-26-47z"/><path fill="#18aef6" stroke="#1085c9" d="M4631 1395l25 45l32 70l-25-36z"/><path fill="#247af6" stroke="#195dc9" d="M4688 1510l26 53l32 100l-26-78z"/><path fill="#1747f6" stroke="#1036c9" d="M4746 1663l25 78l32 69l-25-56z"/><path fill="#0b13ff" stroke="#070ed1" d="M4803 1810l26 30l32 123l-26-15z"/><path fill="#1a52f6" stroke="#123fc9" d="M4861 1963l26-59l32-130l-26 58z"/><path fill="#2187f6" stroke="#1767c9" d="M4919 1774l25-50l32-112l-25 64z"/><path fill="#14bdf6" stroke="#0e91c9" d="M4976 1612l26-58l32-104l-26 43z"/><path fill="#09e9f6" stroke="#06b3c9" d="M5034 1450l25-48l32-89l-25 35z"/><path fill="#0ed8f6" stroke="#09a6c9" d="M5091 1313l26-30l32 81l-26-15z"/><path fill="#14bcf6" stroke="#0e90c9" d="M5149 1364l25-6l32 86l-25-10z"/><path fill="#1f91f6" stroke="#156fc9" d="M5206 1444l26 14l32 109l-26-4z"/><path fill="#1d60f6" stroke="#1449c9" d="M5264 1567l25 21l32 122l-25-22z"/><path fill="#112ff6" stroke="#0b24c9" d="M5321 1710l26 15l32 129l-26-17z"/><path fill="#0600ff" stroke="#0400d1" d="M5379 1854l25 5l32 130l-25-2z"/><path fill="#1439f6" stroke="#0e2bc9" d="M5436 1989l26 9l32-179l-26-11z"/><path fill="#1e64f6" stroke="#154dc9" d="M5494 1819l26 32l32-166l-26-18z"/><path fill="#2187f6" stroke="#1767c9" d="M5552 1685l25 14l32-121l-25-31z"/><path fill="#17b3f6" stroke="#1089c9" d="M5609 1578l26-6l32-126l-26 8z"/><path fill="#0fd3f6" stroke="#0aa2c9" d="M5667 1446l25-25l32-74l-25 14z"/><path fill="#10cef6" stroke="#0b9ec9" d="M5724 1347l26-19l32 31l-26 22z"/><path fill="#13c2f6" stroke="#0d95c9" d="M5782 1359l25-24l32 55l-25 19z"/><path fill="#16b5f6" stroke="#0f8bc9" d="M5839 1390l26-26l32 62l-26 22z"/><path fill="#1d99f6" stroke="#1475c9" d="M5897 1426l25 19l32 63l-25-37z"/><path fill="#1f68f6" stroke="#1550c9" d="M5954 1508l26 50l32 90l-26-62z"/><path fill="#208af6" stroke="#166ac9" d="M6012 1648l25 54l32-156l-25-49z"/><path fill="#208cf6" stroke="#166bc9" d="M6069 1546l26 95l32-106l-26-65zM6127 1535l25 56l32-59l-25-84z"/><path fill="#1ba1f6" stroke="#127bc9" d="M6184 1532l26 68l32-135l-26-33z"/><path fill="#16b5f6" stroke="#0f8bc9" d="M6242 1465l26-4l32-55l-26-6z"/><path fill="#13c0f6" stroke="#0d93c9" d="M6300 1406l25-35l32-1l-25 3z"/><path fill="#1c9bf6" stroke="#1377c9" d="M6357 1370l26 15l32 93l-26-3z"/><path fill="#1d61f6" stroke="#144ac9" d="M6415 1478l25 33l32 137l-25-31z"/><path fill="#112ef6" stroke="#0b23c9" d="M6472 1648l26 13l32 134l-26-10z"/><path fill="#0807ff" stroke="#0505d1" d="M6530 1795l25 6l32 104l-25 58z"/><path fill="#1439f6" stroke="#0e2bc9" d="M4311 2115l26-10l32-215l-26-10z"/><path fill="#206bf6" stroke="#1652c9" d="M4369 1890l25 8l32-161l-25-20z"/><path fill="#19a8f6" stroke="#1181c9" d="M4426 1737l26-8l32-175l-26-40z"/><path fill="#0ed5f6" stroke="#09a4c9" d="M4484 1554l25 44l32-180l-25-41z"/><path fill="#0ae8f6" stroke="#07b2c9" d="M4541 1418l26 32l32-93l-26-36z"/><path fill="#11cbf6" stroke="#0b9cc9" d="M4599 1357l25 32l32 51l-25-45z"/><path fill="#1ba1f6" stroke="#127bc9" d="M4656 1440l26 47l32 76l-26-53z"/><path fill="#1e64f6" stroke="#154dc9" d="M4714 1563l25 54l32 124l-25-78z"/><path fill="#1641f6" stroke="#0f32c9" d="M4771 1741l26 30l32 69l-26-30z"/><path fill="#112bf6" stroke="#0b21c9" d="M4829 1840l26-49l32 113l-26 59z"/><path fill="#1f66f6" stroke="#154ec9" d="M4887 1904l25-66l32-114l-25 50z"/><path fill="#1b9ff6" stroke="#127ac9" d="M4944 1724l26-65l32-105l-26 58z"/><path fill="#0fd1f6" stroke="#0aa0c9" d="M5002 1554l25-44l32-108l-25 48z"/><path fill="#06f7f6" stroke="#04bec9" d="M5059 1402l26-41l32-78l-26 30z"/><path fill="#0cdef6" stroke="#08aac9" d="M5117 1283l25 36l32 39l-25 6z"/><path fill="#15bbf6" stroke="#0e8fc9" d="M5174 1358l26 15l32 85l-26-14z"/><path fill="#1f8ef6" stroke="#156dc9" d="M5232 1458l25-2l32 132l-25-21z"/><path fill="#1d5ff6" stroke="#1449c9" d="M5289 1588l26 13l32 124l-26-15z"/><path fill="#1231f6" stroke="#0c25c9" d="M5347 1725l25 11l32 123l-25-5z"/><path fill="#0601ff" stroke="#0400d1" d="M5404 1859l26 5l32 134l-26-9z"/><path fill="#1232f6" stroke="#0c26c9" d="M5462 1998l26 17l32-164l-26-32z"/><path fill="#1e63f6" stroke="#154cc9" d="M5520 1851l25 40l32-192l-25-14z"/><path fill="#208df6" stroke="#166cc9" d="M5577 1699l26 20l32-147l-26 6z"/><path fill="#14bff6" stroke="#0e93c9" d="M5635 1572l25-14l32-137l-25 25z"/><path fill="#0cdef6" stroke="#08aac9" d="M5692 1421l26-18l32-75l-26 19z"/><path fill="#0ddaf6" stroke="#09a7c9" d="M5750 1328l25-22l32 29l-25 24z"/><path fill="#10cff6" stroke="#0b9fc9" d="M5807 1335l26-9l32 38l-26 26z"/><path fill="#16b3f6" stroke="#0f89c9" d="M5865 1364l25 5l32 76l-25-19z"/><path fill="#208cf6" stroke="#166bc9" d="M5922 1445l26 31l32 82l-26-50z"/><path fill="#1c5bf6" stroke="#1346c9" d="M5980 1558l25 55l32 89l-25-54z"/><path fill="#216ef6" stroke="#1754c9" d="M6037 1702l26 61l32-122l-26-95z"/><path fill="#237ef6" stroke="#1861c9" d="M6095 1641l25 108l32-158l-25-56z"/><path fill="#247af6" stroke="#195dc9" d="M6152 1591l26 86l32-77l-26-68z"/><path fill="#19a7f6" stroke="#1180c9" d="M6210 1600l26-10l32-129l-26 4z"/><path fill="#12c4f6" stroke="#0c96c9" d="M6268 1461l25-51l32-39l-25 35z"/><path fill="#14bff6" stroke="#0e93c9" d="M6325 1371l26-21l32 35l-26-15z"/><path fill="#1e94f6" stroke="#1571c9" d="M6383 1385l25 17l32 109l-25-33z"/><path fill="#1d60f6" stroke="#1449c9" d="M6440 1511l26 33l32 117l-26-13z"/><path fill="#1230f6" stroke="#0c24c9" d="M6498 1661l25 18l32 122l-25-6z"/><path fill="#0600ff" stroke="#0400d1" d="M6555 1801l26 8l32 134l-26-38z"/><path fill="#143bf6" stroke="#0e2dc9" d="M4337 2105l25-14l32-193l-25-8z"/><path fill="#2273f6" stroke="#1758c9" d="M4394 1898l26 22l32-191l-26 8z"/><path fill="#1c9ef6" stroke="#1379c9" d="M4452 1729l25 14l32-145l-25-44z"/><path fill="#10cef6" stroke="#0b9ec9" d="M4509 1598l26 9l32-157l-26-32z"/><path fill="#0be2f6" stroke="#07aec9" d="M4567 1450l25 42l32-103l-25-32z"/><path fill="#13c0f6" stroke="#0d93c9" d="M4624 1389l26 43l32 55l-26-47z"/><path fill="#1e93f6" stroke="#1571c9" d="M4682 1487l25 58l32 72l-25-54z"/><path fill="#1d5ff6" stroke="#1449c9" d="M4739 1617l26 51l32 103l-26-30z"/><path fill="#1b56f6" stroke="#1242c9" d="M4797 1771l26-26l32 46l-26 49z"/><path fill="#1745f6" stroke="#1035c9" d="M4855 1791l25-50l32 97l-25 66z"/><path fill="#2381f6" stroke="#1863c9" d="M4912 1838l26-48l32-131l-26 65z"/><path fill="#17b2f6" stroke="#1089c9" d="M4970 1659l25-21l32-128l-25 44z"/><path fill="#0be2f6" stroke="#07aec9" d="M5027 1510l26-39l32-110l-26 41z"/><path fill="#08f0f6" stroke="#05b8c9" d="M5085 1361l25 21l32-63l-25-36z"/><path fill="#0cddf6" stroke="#08aac9" d="M5142 1319l26 56l32-2l-26-15z"/><path fill="#13c0f6" stroke="#0d93c9" d="M5200 1373l25 26l32 57l-25 2z"/><path fill="#1f8ef6" stroke="#156dc9" d="M5257 1456l26-8l32 153l-26-13z"/><path fill="#1d60f6" stroke="#1449c9" d="M5315 1601l25-7l32 142l-25-11z"/><path fill="#1334f6" stroke="#0d28c9" d="M5372 1736l26 9l32 119l-26-5z"/><path fill="#0600ff" stroke="#0400d1" d="M5430 1864l26 30l32 121l-26-17z"/><path fill="#1028f6" stroke="#0b1ec9" d="M5488 2015l25 16l32-140l-25-40z"/><path fill="#1e61f6" stroke="#154ac9" d="M5545 1891l26-1l32-171l-26-20z"/><path fill="#1d96f6" stroke="#1473c9" d="M5603 1719l25 15l32-176l-25 14z"/><path fill="#11c9f6" stroke="#0b9ac9" d="M5660 1558l26-3l32-152l-26 18z"/><path fill="#09e9f6" stroke="#06b3c9" d="M5718 1403l25-12l32-85l-25 22z"/><path fill="#0be1f6" stroke="#07adc9" d="M5775 1306l26 4l32 16l-26 9z"/><path fill="#0fd1f6" stroke="#0aa0c9" d="M5833 1326l25-4l32 47l-25-5z"/><path fill="#18acf6" stroke="#1084c9" d="M5890 1369l26 28l32 79l-26-31z"/><path fill="#237ef6" stroke="#1861c9" d="M5948 1476l25 49l32 88l-25-55z"/><path fill="#184af6" stroke="#1038c9" d="M6005 1613l26 63l32 87l-26-61z"/><path fill="#194ef6" stroke="#113cc9" d="M6063 1763l25 61l32-75l-25-108z"/><path fill="#1f65f6" stroke="#154dc9" d="M6120 1749l26 74l32-146l-26-86z"/><path fill="#2381f6" stroke="#1863c9" d="M6178 1677l26 29l32-116l-26 10z"/><path fill="#14bdf6" stroke="#0e91c9" d="M6236 1590l25-34l32-146l-25 51z"/><path fill="#0fd0f6" stroke="#0aa0c9" d="M6293 1410l26-34l32-26l-26 21z"/><path fill="#14bef6" stroke="#0e92c9" d="M6351 1350l25-2l32 54l-25-17z"/><path fill="#208cf6" stroke="#166bc9" d="M6408 1402l26 23l32 119l-26-33z"/><path fill="#1d5ef6" stroke="#1448c9" d="M6466 1544l25 8l32 127l-25-18z"/><path fill="#1231f6" stroke="#0c25c9" d="M6523 1679l26 6l32 124l-26-8z"/><path fill="#0808ff" stroke="#0506d1" d="M6581 1809l25 24l32 94l-25 16z"/><path fill="#1437f6" stroke="#0e2ac9" d="M4362 2091l26 31l32-202l-26-22z"/><path fill="#2272f6" stroke="#1757c9" d="M4420 1920l25 6l32-183l-25-14z"/><path fill="#1b9ff6" stroke="#127ac9" d="M4477 1743l26 26l32-162l-26-9z"/><path fill="#12c4f6" stroke="#0c96c9" d="M4535 1607l25 14l32-129l-25-42z"/><path fill="#0ed7f6" stroke="#09a5c9" d="M4592 1492l26 22l32-82l-26-43z"/><path fill="#17b0f6" stroke="#1087c9" d="M4650 1432l25 52l32 61l-25-58z"/><path fill="#2185f6" stroke="#1766c9" d="M4707 1545l26 19l32 104l-26-51z"/><path fill="#206bf6" stroke="#1652c9" d="M4765 1668l26-19l32 96l-26 26zM4823 1745l25-51l32 47l-25 50z"/><path fill="#1c5af6" stroke="#1345c9" d="M4880 1741l26-37l32 86l-26 48z"/><path fill="#208cf6" stroke="#166bc9" d="M4938 1790l25-52l32-100l-25 21z"/><path fill="#13c3f6" stroke="#0d96c9" d="M4995 1638l26-27l32-140l-26 39z"/><path fill="#0ce0f6" stroke="#08acc9" d="M5053 1471l25-3l32-86l-25-21z"/><path fill="#0be2f6" stroke="#07aec9" d="M5110 1382l26 51l32-58l-26-56z"/><path fill="#0dd8f6" stroke="#09a6c9" d="M5168 1375l25 37l32-13l-25-26z"/><path fill="#12c6f6" stroke="#0c98c9" d="M5225 1399l26 24l32 25l-26 8z"/><path fill="#1e94f6" stroke="#1571c9" d="M5283 1448l25 28l32 118l-25 7z"/><path fill="#1e61f6" stroke="#154ac9" d="M5340 1594l26-1l32 152l-26-9z"/><path fill="#112df6" stroke="#0b22c9" d="M5398 1745l26 9l32 140l-26-30z"/><path fill="#0600ff" stroke="#0400d1" d="M5456 1894l25 23l32 114l-25-16z"/><path fill="#112df6" stroke="#0b22c9" d="M5513 2031l26 11l32-152l-26 1z"/><path fill="#1d61f6" stroke="#144ac9" d="M5571 1890l25 4l32-160l-25-15z"/><path fill="#1c9cf6" stroke="#1378c9" d="M5628 1734l26 8l32-187l-26 3z"/><path fill="#0fd1f6" stroke="#0aa0c9" d="M5686 1555l25-10l32-154l-25 12z"/><path fill="#09ebf6" stroke="#06b4c9" d="M5743 1391l26-10l32-71l-26-4z"/><path fill="#0ae6f6" stroke="#07b1c9" d="M5801 1310l25-1l32 13l-25 4z"/><path fill="#10ccf6" stroke="#0b9dc9" d="M5858 1322l26 20l32 55l-26-28z"/><path fill="#1ba1f6" stroke="#127bc9" d="M5916 1397l25 47l32 81l-25-49z"/><path fill="#206cf6" stroke="#1653c9" d="M5973 1525l26 53l32 98l-26-63z"/><path fill="#143af6" stroke="#0e2cc9" d="M6031 1676l25 59l32 89l-25-61z"/><path fill="#1439f6" stroke="#0e2bc9" d="M6088 1824l26 99l32-100l-26-74z"/><path fill="#1d60f6" stroke="#1449c9" d="M6146 1823l26 6l32-123l-26-29z"/><path fill="#1f91f6" stroke="#156fc9" d="M6204 1706l25-40l32-110l-25 34z"/><path fill="#10ccf6" stroke="#0b9dc9" d="M6261 1556l26-34l32-146l-26 34z"/><path fill="#0ed4f6" stroke="#09a3c9" d="M6319 1376l25-32l32 4l-25 2z"/><path fill="#15baf6" stroke="#0e8fc9" d="M6376 1348l26 3l32 74l-26-23z"/><path fill="#1f8ef6" stroke="#156dc9" d="M6434 1425l25 20l32 107l-25-8z"/><path fill="#1d61f6" stroke="#144ac9" d="M6491 1552l26 6l32 127l-26-6z"/><path fill="#112df6" stroke="#0b22c9" d="M6549 1685l25 19l32 129l-25-24z"/><path fill="#0807ff" stroke="#0505d1" d="M6606 1833l26 13l32 97l-26-16z"/><path fill="#143af6" stroke="#0e2cc9" d="M4388 2122l25 1l32-197l-25-6z"/><path fill="#216df6" stroke="#1753c9" d="M4445 1926l26 2l32-159l-26-26z"/><path fill="#1c9ef6" stroke="#1379c9" d="M4503 1769l25 42l32-190l-25-14z"/><path fill="#13c1f6" stroke="#0d94c9" d="M4560 1621l26 40l32-147l-26-22z"/><path fill="#11caf6" stroke="#0b9bc9" d="M4618 1514l25 30l32-60l-25-52z"/><path fill="#18aef6" stroke="#1085c9" d="M4675 1484l26 33l32 47l-26-19z"/><path fill="#1f90f6" stroke="#156ec9" d="M4733 1564l26-21l32 106l-26 19z"/><path fill="#2381f6" stroke="#1863c9" d="M4791 1649l25-23l32 68l-25 51z"/><path fill="#247cf6" stroke="#195fc9" d="M4848 1694l26-32l32 42l-26 37z"/><path fill="#216ff6" stroke="#1755c9" d="M4906 1704l25-30l32 64l-25 52z"/><path fill="#1d99f6" stroke="#1475c9" d="M4963 1738l26-40l32-87l-26 27z"/><path fill="#11c8f6" stroke="#0b9ac9" d="M5021 1611l25-14l32-129l-25 3z"/><path fill="#0fd3f6" stroke="#0aa2c9" d="M5078 1468l26 58l32-93l-26-51z"/><path fill="#0dd9f6" stroke="#09a7c9" d="M5136 1433l25 51l32-72l-25-37z"/><path fill="#0ed4f6" stroke="#09a3c9" d="M5193 1412l26 40l32-29l-26-24z"/><path fill="#13c2f6" stroke="#0d95c9" d="M5251 1423l25 36l32 17l-25-28z"/><path fill="#1d99f6" stroke="#1475c9" d="M5308 1476l26 32l32 85l-26 1z"/><path fill="#1e61f6" stroke="#154ac9" d="M5366 1593l26 26l32 135l-26-9z"/><path fill="#102af6" stroke="#0b20c9" d="M5424 1754l25-2l32 165l-25-23z"/><path fill="#0600ff" stroke="#0400d1" d="M5481 1917l26-3l32 128l-26-11z"/><path fill="#1230f6" stroke="#0c24c9" d="M5539 2042l25 7l32-155l-25-4z"/><path fill="#1e61f6" stroke="#154ac9" d="M5596 1894l26 10l32-162l-26-8z"/><path fill="#1aa2f6" stroke="#127cc9" d="M5654 1742l25 15l32-212l-25 10z"/><path fill="#0dd9f6" stroke="#09a7c9" d="M5711 1545l26 5l32-169l-26 10z"/><path fill="#08f0f6" stroke="#05b8c9" d="M5769 1381l25-4l32-68l-25 1z"/><path fill="#0be4f6" stroke="#07afc9" d="M5826 1309l26 5l32 28l-26-20z"/><path fill="#13c1f6" stroke="#0d94c9" d="M5884 1342l25 23l32 79l-25-47z"/><path fill="#1e93f6" stroke="#1571c9" d="M5941 1444l26 45l32 89l-26-53z"/><path fill="#1d5df6" stroke="#1447c9" d="M5999 1578l25 62l32 95l-25-59z"/><path fill="#0d1df6" stroke="#0916c9" d="M6056 1735l26 68l32 120l-26-99z"/><path fill="#143cf6" stroke="#0e2ec9" d="M6114 1923l26 25l32-119l-26-6z"/><path fill="#2271f6" stroke="#1757c9" d="M6172 1829l25-54l32-109l-25 40z"/><path fill="#1ba1f6" stroke="#127bc9" d="M6229 1666l26-43l32-101l-26 34z"/><path fill="#0ddbf6" stroke="#09a8c9" d="M6287 1522l25-64l32-114l-25 32z"/><path fill="#0ed8f6" stroke="#09a6c9" d="M6344 1344l26-9l32 16l-26-3z"/><path fill="#15b7f6" stroke="#0e8cc9" d="M6402 1351l25-6l32 100l-25-20z"/><path fill="#1f90f6" stroke="#156ec9" d="M6459 1445l26 12l32 101l-26-6z"/><path fill="#1d5ff6" stroke="#1449c9" d="M6517 1558l25 25l32 121l-25-19z"/><path fill="#112df6" stroke="#0b22c9" d="M6574 1704l26 2l32 140l-26-13z"/><path fill="#0808ff" stroke="#0506d1" d="M6632 1846l25 0l32 106l-25-9z"/><path fill="#153df6" stroke="#0e2ec9" d="M4413 2123l26 17l32-212l-26-2z"/><path fill="#1e63f6" stroke="#154cc9" d="M4471 1928l25 17l32-134l-25-42z"/><path fill="#1e95f6" stroke="#1572c9" d="M4528 1811l26 2l32-152l-26-40z"/><path fill="#15bbf6" stroke="#0e8fc9" d="M4586 1661l25 41l32-158l-25-30z"/><path fill="#13c2f6" stroke="#0d95c9" d="M4643 1544l26 43l32-70l-26-33z"/><path fill="#15b9f6" stroke="#0e8ec9" d="M4701 1517l26-18l32 44l-26 21z"/><path fill="#1c9df6" stroke="#1378c9" d="M4759 1543l25-20l32 103l-25 23z"/><path fill="#1f8ff6" stroke="#156ec9" d="M4816 1626l26-27l32 63l-26 32z"/><path fill="#208af6" stroke="#166ac9" d="M4874 1662l25-34l32 46l-25 30z"/><path fill="#2381f6" stroke="#1863c9" d="M4931 1674l26-24l32 48l-26 40z"/><path fill="#1ba1f6" stroke="#127bc9" d="M4989 1698l25 1l32-102l-25 14z"/><path fill="#15b9f6" stroke="#0e8ec9" d="M5046 1597l26 64l32-135l-26-58z"/><path fill="#12c5f6" stroke="#0c97c9" d="M5104 1526l25 72l32-114l-25-51z"/><path fill="#10d0f6" stroke="#0ba0c9" d="M5161 1484l26 68l32-100l-26-40z"/><path fill="#10ccf6" stroke="#0b9dc9" d="M5219 1452l25 73l32-66l-25-36z"/><path fill="#15bbf6" stroke="#0e8fc9" d="M5276 1459l26 53l32-4l-26-32z"/><path fill="#1e95f6" stroke="#1572c9" d="M5334 1508l26 27l32 84l-26-26z"/><path fill="#1f66f6" stroke="#154ec9" d="M5392 1619l25 3l32 130l-25 2z"/><path fill="#122ff6" stroke="#0c24c9" d="M5449 1752l26 10l32 152l-26 3z"/><path fill="#0600ff" stroke="#0400d1" d="M5507 1914l25 8l32 127l-25-7z"/><path fill="#1231f6" stroke="#0c25c9" d="M5564 2049l26 6l32-151l-26-10z"/><path fill="#1e61f6" stroke="#154ac9" d="M5622 1904l25 11l32-158l-25-15z"/><path fill="#1aa5f6" stroke="#127fc9" d="M5679 1757l26-22l32-185l-26-5z"/><path fill="#0cdff6" stroke="#08abc9" d="M5737 1550l25 1l32-174l-25 4z"/><path fill="#07f3f6" stroke="#04bbc9" d="M5794 1377l26 11l32-74l-26-5z"/><path fill="#0be1f6" stroke="#07adc9" d="M5852 1314l25 31l32 20l-25-23z"/><path fill="#16b6f6" stroke="#0f8cc9" d="M5909 1365l26 41l32 83l-26-45z"/><path fill="#2281f6" stroke="#1763c9" d="M5967 1489l25 53l32 98l-25-62z"/><path fill="#184af6" stroke="#1038c9" d="M6024 1640l26 90l32 73l-26-68z"/><path fill="#0c19f6" stroke="#0813c9" d="M6082 1803l26 13l32 132l-26-25z"/><path fill="#1a52f6" stroke="#123fc9" d="M6140 1948l25-73l32-100l-25 54z"/><path fill="#2283f6" stroke="#1764c9" d="M6197 1775l26-58l32-94l-26 43z"/><path fill="#15baf6" stroke="#0e8fc9" d="M6255 1623l25-40l32-125l-25 64z"/><path fill="#0be2f6" stroke="#07aec9" d="M6312 1458l26-45l32-78l-26 9z"/><path fill="#0cdef6" stroke="#08aac9" d="M6370 1335l25-27l32 37l-25 6z"/><path fill="#15b7f6" stroke="#0e8cc9" d="M6427 1345l26-6l32 118l-26-12z"/><path fill="#208cf6" stroke="#166bc9" d="M6485 1457l25 1l32 125l-25-25z"/><path fill="#1e61f6" stroke="#154ac9" d="M6542 1583l26 0l32 123l-26-2z"/><path fill="#1232f6" stroke="#0c26c9" d="M6600 1706l25 4l32 136l-25 0z"/><path fill="#0806ff" stroke="#0504d1" d="M6657 1846l26-8l32 133l-26-19z"/><path fill="#153cf6" stroke="#0e2ec9" d="M4439 2140l25-4l32-191l-25-17z"/><path fill="#1f66f6" stroke="#154ec9" d="M4496 1945l26 25l32-157l-26-2z"/><path fill="#208bf6" stroke="#166bc9" d="M4554 1813l25 10l32-121l-25-41z"/><path fill="#17b1f6" stroke="#1088c9" d="M4611 1702l26 29l32-144l-26-43z"/><path fill="#10cdf6" stroke="#0b9dc9" d="M4669 1587l26-16l32-72l-26 18z"/><path fill="#12c4f6" stroke="#0c96c9" d="M4727 1499l25-6l32 30l-25 20z"/><path fill="#19a9f6" stroke="#1182c9" d="M4784 1523l26 1l32 75l-26 27z"/><path fill="#1b9ff6" stroke="#127ac9" d="M4842 1599l25-21l32 50l-25 34z"/><path fill="#1d96f6" stroke="#1473c9" d="M4899 1628l26-34l32 56l-26 24z"/><path fill="#2284f6" stroke="#1765c9" d="M4957 1650l25-18l32 67l-25-1z"/><path fill="#1f90f6" stroke="#156ec9" d="M5014 1699l26 77l32-115l-26-64z"/><path fill="#1aa4f6" stroke="#127ec9" d="M5072 1661l25 51l32-114l-25-72z"/><path fill="#16b3f6" stroke="#0f89c9" d="M5129 1598l26 75l32-121l-26-68z"/><path fill="#15bbf6" stroke="#0e8fc9" d="M5187 1552l25 78l32-105l-25-73z"/><path fill="#14bff6" stroke="#0e93c9" d="M5244 1525l26 73l32-86l-26-53z"/><path fill="#16b6f6" stroke="#0f8cc9" d="M5302 1512l26 33l32-10l-26-27z"/><path fill="#1d98f6" stroke="#1475c9" d="M5360 1535l25-20l32 107l-25-3z"/><path fill="#1f67f6" stroke="#154fc9" d="M5417 1622l26 16l32 124l-26-10z"/><path fill="#1231f6" stroke="#0c25c9" d="M5475 1762l25 15l32 145l-25-8z"/><path fill="#0702ff" stroke="#0401d1" d="M5532 1922l26 11l32 122l-26-6z"/><path fill="#1231f6" stroke="#0c25c9" d="M5590 2055l25 9l32-149l-25-11z"/><path fill="#206cf6" stroke="#1653c9" d="M5647 1915l26-1l32-179l-26 22z"/><path fill="#19a9f6" stroke="#1182c9" d="M5705 1735l25-5l32-179l-25-1z"/><path fill="#0cdff6" stroke="#08abc9" d="M5762 1551l26 12l32-175l-26-11z"/><path fill="#09ecf6" stroke="#06b5c9" d="M5820 1388l25 46l32-89l-25-31z"/><path fill="#0ed7f6" stroke="#09a5c9" d="M5877 1345l26 32l32 29l-26-41z"/><path fill="#19a8f6" stroke="#1181c9" d="M5935 1406l25 55l32 81l-25-53z"/><path fill="#1f68f6" stroke="#1550c9" d="M5992 1542l26 62l32 126l-26-90z"/><path fill="#184af6" stroke="#1038c9" d="M6050 1730l26 48l32 38l-26-13z"/><path fill="#1335f6" stroke="#0d28c9" d="M6108 1816l25-25l32 84l-25 73z"/><path fill="#2069f6" stroke="#1650c9" d="M6165 1875l26-62l32-96l-26 58z"/><path fill="#1e95f6" stroke="#1572c9" d="M6223 1717l25-58l32-76l-25 40z"/><path fill="#10cdf6" stroke="#0b9dc9" d="M6280 1583l26-35l32-135l-26 45z"/><path fill="#08eff6" stroke="#05b8c9" d="M6338 1413l25-41l32-64l-25 27z"/><path fill="#0be4f6" stroke="#07afc9" d="M6395 1308l26-6l32 37l-26 6z"/><path fill="#14bbf6" stroke="#0e8fc9" d="M6453 1339l25 36l32 83l-25-1z"/><path fill="#1f90f6" stroke="#156ec9" d="M6510 1458l26-1l32 126l-26 0z"/><path fill="#1e64f6" stroke="#154dc9" d="M6568 1583l25-9l32 136l-25-4z"/><path fill="#1438f6" stroke="#0e2bc9" d="M6625 1710l26 20l32 108l-26 8z"/><path fill="#090aff" stroke="#0607d1" d="M6683 1838l25 17l32 117l-25-1z"/><path fill="#1437f6" stroke="#0e2ac9" d="M4464 2136l26-5l32-161l-26-25z"/><path fill="#1f67f6" stroke="#154fc9" d="M4522 1970l25 36l32-183l-25-10z"/><path fill="#2285f6" stroke="#1766c9" d="M4579 1823l26 51l32-143l-26-29z"/><path fill="#15baf6" stroke="#0e8fc9" d="M4637 1731l26-13l32-147l-26 16z"/><path fill="#0fd3f6" stroke="#0aa2c9" d="M4695 1571l25-4l32-74l-25 6z"/><path fill="#11c7f6" stroke="#0b99c9" d="M4752 1493l26-7l32 38l-26-1z"/><path fill="#16b5f6" stroke="#0f8bc9" d="M4810 1524l25-12l32 66l-25 21z"/><path fill="#18aef6" stroke="#1085c9" d="M4867 1578l26-26l32 42l-26 34z"/><path fill="#1ba1f6" stroke="#127bc9" d="M4925 1594l25-11l32 49l-25 18z"/><path fill="#216ff6" stroke="#1755c9" d="M4982 1632l26 49l32 95l-26-77z"/><path fill="#2283f6" stroke="#1764c9" d="M5040 1776l25 34l32-98l-25-51z"/><path fill="#1f90f6" stroke="#156ec9" d="M5097 1712l26 67l32-106l-26-75z"/><path fill="#1c9ef6" stroke="#1379c9" d="M5155 1673l25 64l32-107l-25-78z"/><path fill="#19a6f6" stroke="#117fc9" d="M5212 1630l26 93l32-125l-26-73z"/><path fill="#15b8f6" stroke="#0e8dc9" d="M5270 1598l26 55l32-108l-26-33z"/><path fill="#13c1f6" stroke="#0d94c9" d="M5328 1545l25-24l32-6l-25 20z"/><path fill="#1d96f6" stroke="#1473c9" d="M5385 1515l26 18l32 105l-26-16z"/><path fill="#1f66f6" stroke="#154ec9" d="M5443 1638l25 29l32 110l-25-15z"/><path fill="#1231f6" stroke="#0c25c9" d="M5500 1777l26 33l32 123l-26-11z"/><path fill="#0704ff" stroke="#0403d1" d="M5558 1933l25 14l32 117l-25-9z"/><path fill="#1336f6" stroke="#0d29c9" d="M5615 2064l26 20l32-170l-26 1z"/><path fill="#2272f6" stroke="#1757c9" d="M5673 1914l25-21l32-163l-25 5z"/><path fill="#19a9f6" stroke="#1182c9" d="M5730 1730l26-4l32-163l-26-12z"/><path fill="#0fd3f6" stroke="#0aa2c9" d="M5788 1563l25 33l32-162l-25-46z"/><path fill="#0ae5f6" stroke="#07b0c9" d="M5845 1434l26 18l32-75l-26-32z"/><path fill="#11c8f6" stroke="#0b9ac9" d="M5903 1377l25 42l32 42l-25-55z"/><path fill="#1d98f6" stroke="#1475c9" d="M5960 1461l26 30l32 113l-26-62z"/><path fill="#1c5cf6" stroke="#1346c9" d="M6018 1604l26 44l32 130l-26-48z"/><path fill="#1b57f6" stroke="#1242c9" d="M6076 1778l25-33l32 46l-25 25z"/><path fill="#194ef6" stroke="#113cc9" d="M6133 1791l26-38l32 60l-26 62z"/><path fill="#2381f6" stroke="#1863c9" d="M6191 1813l25-47l32-107l-25 58z"/><path fill="#1aa5f6" stroke="#127fc9" d="M6248 1659l26-40l32-71l-26 35z"/><path fill="#0ce0f6" stroke="#08acc9" d="M6306 1548l25-45l32-131l-25 41z"/><path fill="#06f6f6" stroke="#04bdc9" d="M6363 1372l26-27l32-43l-26 6z"/><path fill="#0ddcf6" stroke="#09a9c9" d="M6421 1302l25 30l32 43l-25-36z"/><path fill="#13c0f6" stroke="#0d93c9" d="M6478 1375l26 41l32 41l-26 1z"/><path fill="#1d97f6" stroke="#1474c9" d="M6536 1457l25 12l32 105l-25 9z"/><path fill="#1e61f6" stroke="#154ac9" d="M6593 1574l26-4l32 160l-26-20z"/><path fill="#1337f6" stroke="#0d2ac9" d="M6651 1730l25-1l32 126l-25-17z"/><path fill="#0808ff" stroke="#0506d1" d="M6708 1855l26 36l32 100l-26-19z"/><path fill="#122ff6" stroke="#0c24c9" d="M4490 2131l25 21l32-146l-25-36z"/><path fill="#1c5bf6" stroke="#1346c9" d="M4547 2006l26-2l32-130l-26-51z"/><path fill="#1f8ef6" stroke="#156dc9" d="M4605 1874l26 15l32-171l-26 13z"/><path fill="#13c0f6" stroke="#0d93c9" d="M4663 1718l25-5l32-146l-25 4z"/><path fill="#0ddaf6" stroke="#09a7c9" d="M4720 1567l26 2l32-83l-26 7z"/><path fill="#0fd0f6" stroke="#0aa0c9" d="M4778 1486l25-7l32 33l-25 12z"/><path fill="#13c2f6" stroke="#0d95c9" d="M4835 1512l26-26l32 66l-26 26z"/><path fill="#16b6f6" stroke="#0f8cc9" d="M4893 1552l25-19l32 50l-25 11z"/><path fill="#1e94f6" stroke="#1571c9" d="M4950 1583l26 38l32 60l-26-49z"/><path fill="#1f68f6" stroke="#1550c9" d="M5008 1681l25 56l32 73l-25-34z"/><path fill="#2271f6" stroke="#1757c9" d="M5065 1810l26 42l32-73l-26-67z"/><path fill="#237ff6" stroke="#1861c9" d="M5123 1779l25 65l32-107l-25-64z"/><path fill="#2282f6" stroke="#1764c9" d="M5180 1737l26 70l32-84l-26-93z"/><path fill="#1d99f6" stroke="#1475c9" d="M5238 1723l26 53l32-123l-26-55z"/><path fill="#12c3f6" stroke="#0c96c9" d="M5296 1653l25-18l32-114l-25 24z"/><path fill="#14bff6" stroke="#0e93c9" d="M5353 1521l26-35l32 47l-26-18z"/><path fill="#1f91f6" stroke="#156fc9" d="M5411 1533l25 24l32 110l-25-29z"/><path fill="#1d60f6" stroke="#1449c9" d="M5468 1667l26 22l32 121l-26-33z"/><path fill="#1231f6" stroke="#0c25c9" d="M5526 1810l25 35l32 102l-25-14z"/><path fill="#0601ff" stroke="#0400d1" d="M5583 1947l26 23l32 114l-26-20z"/><path fill="#1640f6" stroke="#0f31c9" d="M5641 2084l25 13l32-204l-25 21z"/><path fill="#2378f6" stroke="#185cc9" d="M5698 1893l26 38l32-205l-26 4z"/><path fill="#1aa2f6" stroke="#127cc9" d="M5756 1726l25 19l32-149l-25-33z"/><path fill="#0fd2f6" stroke="#0aa1c9" d="M5813 1596l26 10l32-154l-26-18z"/><path fill="#0ddcf6" stroke="#09a9c9" d="M5871 1452l25 19l32-52l-25-42z"/><path fill="#13c2f6" stroke="#0d95c9" d="M5928 1419l26 36l32 36l-26-30z"/><path fill="#208df6" stroke="#166cc9" d="M5986 1491l26 24l32 133l-26-44z"/><path fill="#206bf6" stroke="#1652c9" d="M6044 1648l25-5l32 102l-25 33z"/><path fill="#1f67f6" stroke="#154fc9" d="M6101 1745l26-47l32 55l-26 38z"/><path fill="#1e62f6" stroke="#154bc9" d="M6159 1753l25-26l32 39l-25 47z"/><path fill="#1e92f6" stroke="#1570c9" d="M6216 1766l26-41l32-106l-26 40z"/><path fill="#15b9f6" stroke="#0e8ec9" d="M6274 1619l25-33l32-83l-25 45z"/><path fill="#09ecf6" stroke="#06b5c9" d="M6331 1503l26-13l32-145l-26 27z"/><path fill="#08eff6" stroke="#05b8c9" d="M6389 1345l25 70l32-83l-25-30z"/><path fill="#0fd2f6" stroke="#0aa1c9" d="M6446 1332l26 37l32 47l-26-41z"/><path fill="#13c0f6" stroke="#0d93c9" d="M6504 1416l25-3l32 56l-25-12z"/><path fill="#1c9df6" stroke="#1378c9" d="M6561 1469l26 15l32 86l-26 4z"/><path fill="#1f66f6" stroke="#154ec9" d="M6619 1570l25 20l32 139l-25 1z"/><path fill="#112ff6" stroke="#0b24c9" d="M6676 1729l26 2l32 160l-26-36z"/><path fill="#1334f6" stroke="#0d28c9" d="M4515 2152l26 8l32-156l-26 2z"/><path fill="#1c5af6" stroke="#1345c9" d="M4573 2004l26 11l32-126l-26-15z"/><path fill="#1e94f6" stroke="#1571c9" d="M4631 1889l25 4l32-180l-25 5z"/><path fill="#13c3f6" stroke="#0d96c9" d="M4688 1713l26-10l32-134l-26-2z"/><path fill="#0be1f6" stroke="#07adc9" d="M4746 1569l25-6l32-84l-25 7z"/><path fill="#0cddf6" stroke="#08aac9" d="M4803 1479l26 0l32 7l-26 26z"/><path fill="#10ccf6" stroke="#0b9dc9" d="M4861 1486l25-16l32 63l-25 19z"/><path fill="#18adf6" stroke="#1085c9" d="M4918 1533l26 18l32 70l-26-38z"/><path fill="#2285f6" stroke="#1766c9" d="M4976 1621l25 62l32 54l-25-56z"/><path fill="#1d5ef6" stroke="#1448c9" d="M5033 1737l26 53l32 62l-26-42z"/><path fill="#1d60f6" stroke="#1449c9" d="M5091 1852l25 106l32-114l-25-65z"/><path fill="#206bf6" stroke="#1652c9" d="M5148 1844l26 74l32-111l-26-70z"/><path fill="#2274f6" stroke="#1759c9" d="M5206 1807l26 81l32-112l-26-53z"/><path fill="#1aa2f6" stroke="#127cc9" d="M5264 1776l25-59l32-82l-25 18z"/><path fill="#0fd4f6" stroke="#0aa3c9" d="M5321 1635l26-45l32-104l-26 35z"/><path fill="#15bbf6" stroke="#0e8fc9" d="M5379 1486l25-9l32 80l-25-24z"/><path fill="#208df6" stroke="#166cc9" d="M5436 1557l26 2l32 130l-26-22z"/><path fill="#1b58f6" stroke="#1243c9" d="M5494 1689l25 6l32 150l-25-35z"/><path fill="#112df6" stroke="#0b22c9" d="M5551 1845l26 3l32 122l-26-23z"/><path fill="#0601ff" stroke="#0400d1" d="M5609 1970l25 21l32 106l-25-13z"/><path fill="#1438f6" stroke="#0e2bc9" d="M5666 2097l26 2l32-168l-26-38z"/><path fill="#2375f6" stroke="#185ac9" d="M5724 1931l25 27l32-213l-25-19z"/><path fill="#1aa3f6" stroke="#127dc9" d="M5781 1745l26 28l32-167l-26-10z"/><path fill="#10cff6" stroke="#0b9fc9" d="M5839 1606l25 20l32-155l-25-19z"/><path fill="#0fd4f6" stroke="#0aa3c9" d="M5896 1471l26 51l32-67l-26-36z"/><path fill="#14bff6" stroke="#0e93c9" d="M5954 1455l26 29l32 31l-26-24z"/><path fill="#1e93f6" stroke="#1571c9" d="M6012 1515l25 49l32 79l-25 5z"/><path fill="#2380f6" stroke="#1862c9" d="M6069 1643l26-46l32 101l-26 47z"/><path fill="#2274f6" stroke="#1759c9" d="M6127 1698l25-37l32 66l-25 26zM6184 1727l26-20l32 18l-26 41z"/><path fill="#1ba1f6" stroke="#127bc9" d="M6242 1725l25-21l32-118l-25 33z"/><path fill="#13c1f6" stroke="#0d94c9" d="M6299 1586l26 0l32-96l-26 13z"/><path fill="#0dd9f6" stroke="#09a7c9" d="M6357 1490l25 48l32-123l-25-70z"/><path fill="#0ae7f6" stroke="#07b1c9" d="M6414 1415l26 89l32-135l-26-37z"/><path fill="#0ed8f6" stroke="#09a6c9" d="M6472 1369l25 80l32-36l-25 3z"/><path fill="#14bff6" stroke="#0e93c9" d="M6529 1413l26 23l32 48l-26-15z"/><path fill="#1d9af6" stroke="#1476c9" d="M6587 1484l25 18l32 88l-25-20z"/><path fill="#206af6" stroke="#1651c9" d="M6644 1590l26 35l32 106l-26-2z"/><path fill="#1335f6" stroke="#0d28c9" d="M4541 2160l26 36l32-181l-26-11z"/><path fill="#1d5df6" stroke="#1447c9" d="M4599 2015l25 12l32-134l-25-4z"/><path fill="#1c9cf6" stroke="#1378c9" d="M4656 1893l26-11l32-179l-26 10z"/><path fill="#11c9f6" stroke="#0b9ac9" d="M4714 1703l25 6l32-146l-25 6z"/><path fill="#0ae4f6" stroke="#07afc9" d="M4771 1563l26-8l32-76l-26 0z"/><path fill="#0ae6f6" stroke="#07b1c9" d="M4829 1479l25-7l32-2l-25 16z"/><path fill="#11caf6" stroke="#0b9bc9" d="M4886 1470l26 15l32 66l-26-18z"/><path fill="#1c9df6" stroke="#1378c9" d="M4944 1551l25 41l32 91l-25-62z"/><path fill="#2378f6" stroke="#185cc9" d="M5001 1683l26 57l32 50l-26-53z"/><path fill="#153ff6" stroke="#0e30c9" d="M5059 1790l25 74l32 94l-25-106z"/><path fill="#184bf6" stroke="#1039c9" d="M5116 1958l26 111l32-151l-26-74z"/><path fill="#1a54f6" stroke="#1240c9" d="M5174 1918l26 85l32-115l-26-81z"/><path fill="#208cf6" stroke="#166bc9" d="M5232 1888l25-44l32-127l-25 59z"/><path fill="#16b6f6" stroke="#0f8cc9" d="M5289 1717l26-33l32-94l-26 45z"/><path fill="#0ddbf6" stroke="#09a8c9" d="M5347 1590l25-41l32-72l-25 9z"/><path fill="#14bff6" stroke="#0e93c9" d="M5404 1477l26 10l32 72l-26-2z"/><path fill="#1f90f6" stroke="#156ec9" d="M5462 1559l25 23l32 113l-25-6z"/><path fill="#1c5cf6" stroke="#1346c9" d="M5519 1695l26 18l32 135l-26-3z"/><path fill="#102af6" stroke="#0b20c9" d="M5577 1848l25 2l32 141l-25-21z"/><path fill="#0704ff" stroke="#0403d1" d="M5634 1991l26 6l32 102l-26-2z"/><path fill="#1233f6" stroke="#0c27c9" d="M5692 2099l25 8l32-149l-25-27z"/><path fill="#2170f6" stroke="#1756c9" d="M5749 1958l26 16l32-201l-26-28z"/><path fill="#1ba1f6" stroke="#127bc9" d="M5807 1773l25 28l32-175l-25-20z"/><path fill="#13c2f6" stroke="#0d95c9" d="M5864 1626l26 40l32-144l-26-51z"/><path fill="#10cef6" stroke="#0b9ec9" d="M5922 1522l26 42l32-80l-26-29z"/><path fill="#17b2f6" stroke="#1089c9" d="M5980 1484l25 49l32 31l-25-49z"/><path fill="#1aa6f6" stroke="#127fc9" d="M6037 1564l26-6l32 39l-26 46z"/><path fill="#1f90f6" stroke="#156ec9" d="M6095 1597l25-16l32 80l-25 37z"/><path fill="#2380f6" stroke="#1862c9" d="M6152 1661l26-49l32 95l-26 20zM6210 1707l25-35l32 32l-25 21z"/><path fill="#1aa5f6" stroke="#127fc9" d="M6267 1704l26-4l32-114l-26 0z"/><path fill="#16b5f6" stroke="#0f8bc9" d="M6325 1586l25 55l32-103l-25-48z"/><path fill="#13c0f6" stroke="#0d93c9" d="M6382 1538l26 60l32-94l-26-89z"/><path fill="#0fd1f6" stroke="#0aa0c9" d="M6440 1504l25 55l32-110l-25-80z"/><path fill="#0ed4f6" stroke="#09a3c9" d="M6497 1449l26 84l32-97l-26-23z"/><path fill="#14bdf6" stroke="#0e91c9" d="M6555 1436l25 63l32 3l-25-18z"/><path fill="#1e93f6" stroke="#1571c9" d="M6612 1502l26 50l32 73l-26-35z"/><path fill="#1335f6" stroke="#0d28c9" d="M4567 2196l25 11l32-180l-25-12z"/><path fill="#1e64f6" stroke="#154dc9" d="M4624 2027l26 30l32-175l-26 11z"/><path fill="#1c9ef6" stroke="#1379c9" d="M4682 1882l25-13l32-160l-25-6z"/><path fill="#0fd0f6" stroke="#0aa0c9" d="M4739 1709l26 8l32-162l-26 8z"/><path fill="#09ebf6" stroke="#06b4c9" d="M4797 1555l25 3l32-86l-25 7z"/><path fill="#0ae5f6" stroke="#07b0c9" d="M4854 1472l26 15l32-2l-26-15z"/><path fill="#13c1f6" stroke="#0d94c9" d="M4912 1485l25 39l32 68l-25-41z"/><path fill="#1f8ef6" stroke="#156dc9" d="M4969 1592l26 71l32 77l-26-57z"/><path fill="#1e63f6" stroke="#154cc9" d="M5027 1740l25 46l32 78l-25-74z"/><path fill="#0d1ef6" stroke="#0917c9" d="M5084 1864l26 67l32 138l-26-111z"/><path fill="#1232f6" stroke="#0c26c9" d="M5142 2069l26 88l32-154l-26-85z"/><path fill="#1f66f6" stroke="#154ec9" d="M5200 2003l25-55l32-104l-25 44z"/><path fill="#1c9cf6" stroke="#1378c9" d="M5257 1844l26-48l32-112l-26 33z"/><path fill="#11c8f6" stroke="#0b9ac9" d="M5315 1684l25-37l32-98l-25 41z"/><path fill="#0ddcf6" stroke="#09a9c9" d="M5372 1549l26-37l32-25l-26-10z"/><path fill="#15bbf6" stroke="#0e8fc9" d="M5430 1487l25 22l32 73l-25-23z"/><path fill="#208df6" stroke="#166cc9" d="M5487 1582l26 11l32 120l-26-18z"/><path fill="#1d5ff6" stroke="#1449c9" d="M5545 1713l25 6l32 131l-25-2z"/><path fill="#112cf6" stroke="#0b21c9" d="M5602 1850l26-9l32 156l-26-6z"/><path fill="#0806ff" stroke="#0504d1" d="M5660 1997l25-5l32 115l-25-8z"/><path fill="#1232f6" stroke="#0c26c9" d="M5717 2107l26 26l32-159l-26-16z"/><path fill="#206bf6" stroke="#1652c9" d="M5775 1974l25 25l32-198l-25-28z"/><path fill="#1d97f6" stroke="#1474c9" d="M5832 1801l26 24l32-159l-26-40z"/><path fill="#15b9f6" stroke="#0e8ec9" d="M5890 1666l26 36l32-138l-26-42z"/><path fill="#13c2f6" stroke="#0d95c9" d="M5948 1564l25 40l32-71l-25-49z"/><path fill="#15b9f6" stroke="#0e8ec9" d="M6005 1533l26-3l32 28l-26 6z"/><path fill="#17aff6" stroke="#1086c9" d="M6063 1558l25-13l32 36l-25 16z"/><path fill="#1aa4f6" stroke="#127ec9" d="M6120 1581l26-6l32 37l-26 49z"/><path fill="#1f8ff6" stroke="#156ec9" d="M6178 1612l25-18l32 78l-25 35z"/><path fill="#2284f6" stroke="#1765c9" d="M6235 1672l26-11l32 39l-26 4z"/><path fill="#1d98f6" stroke="#1475c9" d="M6293 1700l25 66l32-125l-25-55z"/><path fill="#1aa5f6" stroke="#127fc9" d="M6350 1641l26 50l32-93l-26-60z"/><path fill="#17b1f6" stroke="#1088c9" d="M6408 1598l25 63l32-102l-25-55z"/><path fill="#15b9f6" stroke="#0e8ec9" d="M6465 1559l26 50l32-76l-26-84z"/><path fill="#13c3f6" stroke="#0d96c9" d="M6523 1533l25 49l32-83l-25-63z"/><path fill="#17b0f6" stroke="#1087c9" d="M6580 1499l26 55l32-2l-26-50z"/><path fill="#112ff6" stroke="#0b24c9" d="M4592 2207l26 40l32-190l-26-30z"/><path fill="#216df6" stroke="#1753c9" d="M4650 2057l25 6l32-194l-25 13z"/><path fill="#1b9ff6" stroke="#127ac9" d="M4707 1869l26-2l32-150l-26-8z"/><path fill="#0fd3f6" stroke="#0aa2c9" d="M4765 1717l25-14l32-145l-25-3z"/><path fill="#09eaf6" stroke="#06b4c9" d="M4822 1558l26 0l32-71l-26-15z"/><path fill="#0cddf6" stroke="#08aac9" d="M4880 1487l25 27l32 10l-25-39z"/><path fill="#18adf6" stroke="#1085c9" d="M4937 1524l26 54l32 85l-26-71z"/><path fill="#2282f6" stroke="#1764c9" d="M4995 1663l25 46l32 77l-25-46z"/><path fill="#1a51f6" stroke="#123ec9" d="M5052 1786l26 51l32 94l-26-67z"/><path fill="#0703ff" stroke="#0402d1" d="M5110 1931l26 104l32 122l-26-88z"/><path fill="#1849f6" stroke="#1038c9" d="M5168 2157l25-75l32-134l-25 55z"/><path fill="#247cf6" stroke="#195fc9" d="M5225 1948l26-66l32-86l-26 48z"/><path fill="#18acf6" stroke="#1084c9" d="M5283 1796l25-49l32-100l-25 37z"/><path fill="#0dd9f6" stroke="#09a7c9" d="M5340 1647l26-46l32-89l-26 37zM5398 1512l25-26l32 23l-25-22z"/><path fill="#14bcf6" stroke="#0e90c9" d="M5455 1509l26-6l32 90l-26-11z"/><path fill="#1f90f6" stroke="#156ec9" d="M5513 1593l25 29l32 97l-25-6z"/><path fill="#1f65f6" stroke="#154dc9" d="M5570 1719l26 23l32 99l-26 9z"/><path fill="#1232f6" stroke="#0c26c9" d="M5628 1841l25-12l32 163l-25 5z"/><path fill="#0701ff" stroke="#0400d1" d="M5685 1992l26 19l32 122l-26-26z"/><path fill="#112df6" stroke="#0b22c9" d="M5743 2133l25 30l32-164l-25-25z"/><path fill="#1f67f6" stroke="#154fc9" d="M5800 1999l26 7l32-181l-26-24z"/><path fill="#1f8ff6" stroke="#156ec9" d="M5858 1825l26 35l32-158l-26-36z"/><path fill="#17aff6" stroke="#1086c9" d="M5916 1702l25 34l32-132l-25-40z"/><path fill="#12c7f6" stroke="#0c99c9" d="M5973 1604l26-13l32-61l-26 3z"/><path fill="#13c1f6" stroke="#0d94c9" d="M6031 1530l25-21l32 36l-25 13z"/><path fill="#16b6f6" stroke="#0f8cc9" d="M6088 1545l26-21l32 51l-26 6z"/><path fill="#18aef6" stroke="#1085c9" d="M6146 1575l25-23l32 42l-25 18z"/><path fill="#1d97f6" stroke="#1474c9" d="M6203 1594l26-19l32 86l-26 11z"/><path fill="#2273f6" stroke="#1758c9" d="M6261 1661l25 9l32 96l-25-66z"/><path fill="#208bf6" stroke="#166bc9" d="M6318 1766l26 62l32-137l-26-50z"/><path fill="#1e94f6" stroke="#1571c9" d="M6376 1691l25 79l32-109l-25-63z"/><path fill="#1aa4f6" stroke="#127ec9" d="M6433 1661l26 61l32-113l-26-50z"/><path fill="#18acf6" stroke="#1084c9" d="M6491 1609l25 100l32-127l-25-49z"/><path fill="#16b5f6" stroke="#0f8bc9" d="M6548 1582l26 49l32-77l-26-55z"/><path fill="#1231f6" stroke="#0c25c9" d="M4618 2247l25-64l32-120l-25-6z"/><path fill="#2272f6" stroke="#1757c9" d="M4675 2063l26 20l32-216l-26 2z"/><path fill="#19a7f6" stroke="#1180c9" d="M4733 1867l25 12l32-176l-25 14z"/><path fill="#0ed8f6" stroke="#09a6c9" d="M4790 1703l26-2l32-143l-26 0z"/><path fill="#0ae5f6" stroke="#07b0c9" d="M4848 1558l25 38l32-82l-25-27z"/><path fill="#10cef6" stroke="#0b9ec9" d="M4905 1514l26 38l32 26l-26-54z"/><path fill="#1ba1f6" stroke="#127bc9" d="M4963 1578l25 34l32 97l-25-46z"/><path fill="#2376f6" stroke="#185ac9" d="M5020 1709l26 71l32 57l-26-51z"/><path fill="#1232f6" stroke="#0c26c9" d="M5078 1837l26 85l32 113l-26-104z"/><path fill="#0e21f6" stroke="#0919c9" d="M5136 2035l25-17l32 64l-25 75z"/><path fill="#1e63f6" stroke="#154cc9" d="M5193 2082l26-75l32-125l-26 66z"/><path fill="#1f90f6" stroke="#156ec9" d="M5251 1882l25-58l32-77l-25 49z"/><path fill="#13c0f6" stroke="#0d93c9" d="M5308 1747l26-40l32-106l-26 46z"/><path fill="#0ae5f6" stroke="#07b0c9" d="M5366 1601l25-50l32-65l-25 26z"/><path fill="#0cdff6" stroke="#08abc9" d="M5423 1486l26-15l32 32l-26 6z"/><path fill="#16b6f6" stroke="#0f8cc9" d="M5481 1503l25 23l32 96l-25-29z"/><path fill="#208cf6" stroke="#166bc9" d="M5538 1622l26 8l32 112l-26-23z"/><path fill="#216ef6" stroke="#1754c9" d="M5596 1742l25-7l32 94l-25 12z"/><path fill="#1230f6" stroke="#0c24c9" d="M5653 1829l26 21l32 161l-26-19z"/><path fill="#0600ff" stroke="#0400d1" d="M5711 2011l25 19l32 133l-25-30z"/><path fill="#122ff6" stroke="#0c24c9" d="M5768 2163l26 7l32-164l-26-7z"/><path fill="#1d60f6" stroke="#1449c9" d="M5826 2006l26 0l32-146l-26-35z"/><path fill="#2188f6" stroke="#1768c9" d="M5884 1860l25 19l32-143l-25-34z"/><path fill="#15b8f6" stroke="#0e8dc9" d="M5941 1736l26-5l32-140l-26 13z"/><path fill="#0fd2f6" stroke="#0aa1c9" d="M5999 1591l25-4l32-78l-25 21z"/><path fill="#10ccf6" stroke="#0b9dc9" d="M6056 1509l26-17l32 32l-26 21z"/><path fill="#13c2f6" stroke="#0d95c9" d="M6114 1524l25-6l32 34l-25 23z"/><path fill="#15b9f6" stroke="#0e8ec9" d="M6171 1552l26-9l32 32l-26 19z"/><path fill="#1d98f6" stroke="#1475c9" d="M6229 1575l25 39l32 56l-25-9z"/><path fill="#1e62f6" stroke="#154bc9" d="M6286 1670l26 22l32 136l-26-62z"/><path fill="#2274f6" stroke="#1759c9" d="M6344 1828l25 73l32-131l-25-79z"/><path fill="#2283f6" stroke="#1764c9" d="M6401 1770l26 82l32-130l-26-61z"/><path fill="#2186f6" stroke="#1767c9" d="M6459 1722l25 87l32-100l-25-100z"/><path fill="#1ba0f6" stroke="#127bc9" d="M6516 1709l26 81l32-159l-26-49z"/><path fill="#112ef6" stroke="#0b23c9" d="M4643 2183l26 4l32-104l-26-20z"/><path fill="#2272f6" stroke="#1757c9" d="M4701 2083l25-22l32-182l-25-12z"/><path fill="#18adf6" stroke="#1085c9" d="M4758 1879l26 18l32-196l-26 2z"/><path fill="#10cff6" stroke="#0b9fc9" d="M4816 1701l25 35l32-140l-25-38z"/><path fill="#0cddf6" stroke="#08aac9" d="M4873 1596l26 36l32-80l-26-38z"/><path fill="#11c7f6" stroke="#0b99c9" d="M4931 1552l25 30l32 30l-25-34z"/><path fill="#1f8ef6" stroke="#156dc9" d="M4988 1612l26 32l32 136l-26-71z"/><path fill="#1d5df6" stroke="#1447c9" d="M5046 1780l26 33l32 109l-26-85z"/><path fill="#153cf6" stroke="#0e2ec9" d="M5104 1922l25-14l32 110l-25 17z"/><path fill="#153ff6" stroke="#0e30c9" d="M5161 2018l26-63l32 52l-26 75z"/><path fill="#247bf6" stroke="#195ec9" d="M5219 2007l25-57l32-126l-25 58z"/><path fill="#1ba1f6" stroke="#127bc9" d="M5276 1824l26-31l32-86l-26 40z"/><path fill="#0ed5f6" stroke="#09a4c9" d="M5334 1707l25-30l32-126l-25 50z"/><path fill="#08eff6" stroke="#05b8c9" d="M5391 1551l26 0l32-80l-26 15z"/><path fill="#0ddbf6" stroke="#09a8c9" d="M5449 1471l25 16l32 39l-25-23z"/><path fill="#15b7f6" stroke="#0e8cc9" d="M5506 1526l26 26l32 78l-26-8z"/><path fill="#1e93f6" stroke="#1571c9" d="M5564 1630l25-1l32 106l-25 7z"/><path fill="#206bf6" stroke="#1652c9" d="M5621 1735l26 0l32 115l-26-21z"/><path fill="#112df6" stroke="#0b22c9" d="M5679 1850l25 32l32 148l-25-19z"/><path fill="#0600ff" stroke="#0400d1" d="M5736 2030l26 5l32 135l-26-7z"/><path fill="#1334f6" stroke="#0d28c9" d="M5794 2170l26 14l32-178l-26 0z"/><path fill="#1d5df6" stroke="#1447c9" d="M5852 2006l25 23l32-150l-25-19z"/><path fill="#1f8ef6" stroke="#156dc9" d="M5909 1879l26-7l32-141l-26 5z"/><path fill="#14bef6" stroke="#0e92c9" d="M5967 1731l25-6l32-138l-25 4z"/><path fill="#0cdcf6" stroke="#08a9c9" d="M6024 1587l26-2l32-93l-26 17z"/><path fill="#0fd2f6" stroke="#0aa1c9" d="M6082 1492l25-12l32 38l-25 6z"/><path fill="#11c9f6" stroke="#0b9ac9" d="M6139 1518l26-6l32 31l-26 9z"/><path fill="#17b0f6" stroke="#1087c9" d="M6197 1543l25 7l32 64l-25-39z"/><path fill="#1e95f6" stroke="#1572c9" d="M6254 1614l26 27l32 51l-26-22z"/><path fill="#194df6" stroke="#113bc9" d="M6312 1692l25 83l32 126l-25-73z"/><path fill="#1d5df6" stroke="#1447c9" d="M6369 1901l26 80l32-129l-26-82z"/><path fill="#206af6" stroke="#1651c9" d="M6427 1852l25 89l32-132l-25-87z"/><path fill="#2170f6" stroke="#1756c9" d="M6484 1809l26 96l32-115l-26-81z"/><path fill="#143af6" stroke="#0e2cc9" d="M4669 2187l25 73l32-199l-25 22z"/><path fill="#2170f6" stroke="#1756c9" d="M4726 2061l26-15l32-149l-26-18z"/><path fill="#1aa5f6" stroke="#127fc9" d="M4784 1897l25 22l32-183l-25-35z"/><path fill="#12c7f6" stroke="#0c99c9" d="M4841 1736l26 36l32-140l-26-36z"/><path fill="#0ed7f6" stroke="#09a5c9" d="M4899 1632l25 23l32-73l-25-30z"/><path fill="#13c1f6" stroke="#0d94c9" d="M4956 1582l26 30l32 32l-26-32z"/><path fill="#2187f6" stroke="#1767c9" d="M5014 1644l26 44l32 125l-26-33z"/><path fill="#1f66f6" stroke="#154ec9" d="M5072 1813l25 6l32 89l-25 14z"/><path fill="#1b55f6" stroke="#1241c9" d="M5129 1908l26-42l32 89l-26 63z"/><path fill="#1b56f6" stroke="#1242c9" d="M5187 1955l25-51l32 46l-25 57z"/><path fill="#2189f6" stroke="#1769c9" d="M5244 1950l26-37l32-120l-26 31z"/><path fill="#17aff6" stroke="#1086c9" d="M5302 1793l25-27l32-89l-25 30z"/><path fill="#0dd9f6" stroke="#09a7c9" d="M5359 1677l26-21l32-105l-26 0z"/><path fill="#08edf6" stroke="#05b6c9" d="M5417 1551l25 29l32-93l-25-16z"/><path fill="#0ed7f6" stroke="#09a5c9" d="M5474 1487l26 37l32 28l-26-26z"/><path fill="#14bcf6" stroke="#0e90c9" d="M5532 1552l25 9l32 68l-25 1z"/><path fill="#1d97f6" stroke="#1474c9" d="M5589 1629l26-12l32 118l-26 0z"/><path fill="#1f64f6" stroke="#154dc9" d="M5647 1735l25 4l32 143l-25-32z"/><path fill="#1230f6" stroke="#0c24c9" d="M5704 1882l26 3l32 150l-26-5z"/><path fill="#0600ff" stroke="#0400d1" d="M5762 2035l26 5l32 144l-26-14z"/><path fill="#1230f6" stroke="#0c24c9" d="M5820 2184l25 13l32-168l-25-23z"/><path fill="#1e63f6" stroke="#154cc9" d="M5877 2029l26 9l32-166l-26 7z"/><path fill="#1e94f6" stroke="#1571c9" d="M5935 1872l25 2l32-149l-25 6z"/><path fill="#13c2f6" stroke="#0d95c9" d="M5992 1725l26-11l32-129l-26 2z"/><path fill="#0be4f6" stroke="#07afc9" d="M6050 1585l25-14l32-91l-25 12z"/><path fill="#0dd9f6" stroke="#09a7c9" d="M6107 1480l26-10l32 42l-26 6z"/><path fill="#11caf6" stroke="#0b9bc9" d="M6165 1512l25-25l32 63l-25-7z"/><path fill="#18abf6" stroke="#1083c9" d="M6222 1550l26 15l32 76l-26-27z"/><path fill="#247ef6" stroke="#1961c9" d="M6280 1641l25 64l32 70l-25-83z"/><path fill="#1337f6" stroke="#0d2ac9" d="M6337 1775l26 102l32 104l-26-80z"/><path fill="#1643f6" stroke="#0f33c9" d="M6395 1981l25 65l32-105l-25-89z"/><path fill="#194ef6" stroke="#113cc9" d="M6452 1941l26 104l32-140l-26-96z"/><path fill="#1643f6" stroke="#0f33c9" d="M4694 2260l26 11l32-225l-26 15z"/><path fill="#206cf6" stroke="#1653c9" d="M4752 2046l25 35l32-162l-25-22z"/><path fill="#1c9df6" stroke="#1378c9" d="M4809 1919l26 21l32-168l-26-36z"/><path fill="#13c3f6" stroke="#0d96c9" d="M4867 1772l25 15l32-132l-25-23z"/><path fill="#0fd1f6" stroke="#0aa0c9" d="M4924 1655l26 26l32-69l-26-30z"/><path fill="#16b6f6" stroke="#0f8cc9" d="M4982 1612l26 24l32 52l-26-44z"/><path fill="#2189f6" stroke="#1769c9" d="M5040 1688l25 28l32 103l-25-6z"/><path fill="#2378f6" stroke="#185cc9" d="M5097 1819l26-41l32 88l-26 42z"/><path fill="#206af6" stroke="#1651c9" d="M5155 1866l25-43l32 81l-25 51z"/><path fill="#1f66f6" stroke="#154ec9" d="M5212 1904l26-53l32 62l-26 37z"/><path fill="#1d97f6" stroke="#1474c9" d="M5270 1913l25-24l32-123l-25 27z"/><path fill="#15bbf6" stroke="#0e8fc9" d="M5327 1766l26-14l32-96l-26 21z"/><path fill="#0fd3f6" stroke="#0aa2c9" d="M5385 1656l25 1l32-77l-25-29z"/><path fill="#0ae5f6" stroke="#07b0c9" d="M5442 1580l26 40l32-96l-26-37z"/><path fill="#0ed8f6" stroke="#09a6c9" d="M5500 1524l25 43l32-6l-25-9z"/><path fill="#12c3f6" stroke="#0c96c9" d="M5557 1561l26 17l32 39l-26 12z"/><path fill="#1d9af6" stroke="#1476c9" d="M5615 1617l25 13l32 109l-25-4z"/><path fill="#1f67f6" stroke="#154fc9" d="M5672 1739l26 30l32 116l-26-3z"/><path fill="#1233f6" stroke="#0c27c9" d="M5730 1885l26 3l32 152l-26-5z"/><path fill="#0600ff" stroke="#0400d1" d="M5788 2040l25 8l32 149l-25-13z"/><path fill="#1231f6" stroke="#0c25c9" d="M5845 2197l26 12l32-171l-26-9z"/><path fill="#1f67f6" stroke="#154fc9" d="M5903 2038l25 8l32-172l-25-2z"/><path fill="#1c9cf6" stroke="#1378c9" d="M5960 1874l26-1l32-159l-26 11z"/><path fill="#11cbf6" stroke="#0b9cc9" d="M6018 1714l25-11l32-132l-25 14z"/><path fill="#09ecf6" stroke="#06b5c9" d="M6075 1571l26-23l32-78l-26 10z"/><path fill="#0ae5f6" stroke="#07b0c9" d="M6133 1470l25 0l32 17l-25 25z"/><path fill="#11caf6" stroke="#0b9bc9" d="M6190 1487l26-6l32 84l-26-15z"/><path fill="#1d9af6" stroke="#1476c9" d="M6248 1565l25 65l32 75l-25-64z"/><path fill="#1d5ff6" stroke="#1449c9" d="M6305 1705l26 70l32 102l-26-102z"/><path fill="#0f25f6" stroke="#0a1cc9" d="M6363 1877l25 73l32 96l-25-65z"/><path fill="#0f24f6" stroke="#0a1bc9" d="M6420 2046l26 83l32-84l-26-104z"/><path fill="#153cf6" stroke="#0e2ec9" d="M4720 2271l25-32l32-158l-25-35z"/><path fill="#2069f6" stroke="#1650c9" d="M4777 2081l26 45l32-186l-26-21z"/><path fill="#1c9df6" stroke="#1378c9" d="M4835 1940l25 19l32-172l-25-15z"/><path fill="#14bff6" stroke="#0e93c9" d="M4892 1787l26 28l32-134l-26-26z"/><path fill="#10cdf6" stroke="#0b9dc9" d="M4950 1681l26 21l32-66l-26-24z"/><path fill="#17b1f6" stroke="#1088c9" d="M5008 1636l25 40l32 40l-25-28z"/><path fill="#1c9bf6" stroke="#1377c9" d="M5065 1716l26-5l32 67l-26 41z"/><path fill="#208bf6" stroke="#166bc9" d="M5123 1778l25-49l32 94l-25 43z"/><path fill="#2381f6" stroke="#1863c9" d="M5180 1823l26-37l32 65l-26 53z"/><path fill="#2273f6" stroke="#1758c9" d="M5238 1851l25-31l32 69l-25 24z"/><path fill="#1ba0f6" stroke="#127bc9" d="M5295 1889l26-36l32-101l-26 14z"/><path fill="#14bff6" stroke="#0e93c9" d="M5353 1752l25 40l32-135l-25-1z"/><path fill="#11caf6" stroke="#0b9bc9" d="M5410 1657l26 59l32-96l-26-40z"/><path fill="#0ddbf6" stroke="#09a8c9" d="M5468 1620l25 57l32-110l-25-43z"/><path fill="#0ed6f6" stroke="#09a4c9" d="M5525 1567l26 70l32-59l-26-17z"/><path fill="#12c3f6" stroke="#0c96c9" d="M5583 1578l25 48l32 4l-25-13z"/><path fill="#1e94f6" stroke="#1571c9" d="M5640 1630l26 29l32 110l-26-30z"/><path fill="#206af6" stroke="#1651c9" d="M5698 1769l26 19l32 100l-26-3z"/><path fill="#1334f6" stroke="#0d28c9" d="M5756 1888l25 17l32 143l-25-8z"/><path fill="#0600ff" stroke="#0400d1" d="M5813 2048l26 8l32 153l-26-12z"/><path fill="#1233f6" stroke="#0c27c9" d="M5871 2209l25 3l32-166l-25-8z"/><path fill="#206cf6" stroke="#1653c9" d="M5928 2046l26 17l32-190l-26 1z"/><path fill="#1aa3f6" stroke="#127dc9" d="M5986 1873l25-4l32-166l-25 11z"/><path fill="#0ed7f6" stroke="#09a5c9" d="M6043 1703l26 0l32-155l-26 23z"/><path fill="#08f0f6" stroke="#05b8c9" d="M6101 1548l25-5l32-73l-25 0z"/><path fill="#09ebf6" stroke="#06b4c9" d="M6158 1470l26 22l32-11l-26 6z"/><path fill="#15b8f6" stroke="#0e8dc9" d="M6216 1481l25 59l32 90l-25-65z"/><path fill="#2186f6" stroke="#1767c9" d="M6273 1630l26 71l32 74l-26-70z"/><path fill="#184af6" stroke="#1038c9" d="M6331 1775l25 55l32 120l-25-73z"/><path fill="#090dff" stroke="#060ad1" d="M6388 1950l26 92l32 87l-26-83z"/><path fill="#1230f6" stroke="#0c24c9" d="M4745 2239l26 50l32-163l-26-45z"/><path fill="#1f67f6" stroke="#154fc9" d="M4803 2126l25-8l32-159l-25-19z"/><path fill="#1d97f6" stroke="#1474c9" d="M4860 1959l26 16l32-160l-26-28z"/><path fill="#14bcf6" stroke="#0e90c9" d="M4918 1815l26 31l32-144l-26-21z"/><path fill="#12c3f6" stroke="#0c96c9" d="M4976 1702l25 37l32-63l-25-40z"/><path fill="#16b7f6" stroke="#0f8cc9" d="M5033 1676l26-7l32 42l-26 5z"/><path fill="#17b0f6" stroke="#1087c9" d="M5091 1711l25-20l32 38l-25 49z"/><path fill="#1c9cf6" stroke="#1378c9" d="M5148 1729l26-21l32 78l-26 37z"/><path fill="#1f8ff6" stroke="#156ec9" d="M5206 1786l25-33l32 67l-25 31z"/><path fill="#2282f6" stroke="#1764c9" d="M5263 1820l26-24l32 57l-26 36z"/><path fill="#1d96f6" stroke="#1473c9" d="M5321 1853l25 28l32-89l-25-40z"/><path fill="#17aff6" stroke="#1086c9" d="M5378 1792l26 56l32-132l-26-59z"/><path fill="#15bbf6" stroke="#0e8fc9" d="M5436 1716l25 68l32-107l-25-57z"/><path fill="#12c7f6" stroke="#0c99c9" d="M5493 1677l26 70l32-110l-26-70z"/><path fill="#11caf6" stroke="#0b9bc9" d="M5551 1637l25 86l32-97l-25-48z"/><path fill="#14bef6" stroke="#0e92c9" d="M5608 1626l26 45l32-12l-26-29z"/><path fill="#1f92f6" stroke="#1570c9" d="M5666 1659l26 6l32 123l-26-19z"/><path fill="#2069f6" stroke="#1650c9" d="M5724 1788l25-3l32 120l-25-17z"/><path fill="#1335f6" stroke="#0d28c9" d="M5781 1905l26 27l32 124l-26-8z"/><path fill="#0600ff" stroke="#0400d1" d="M5839 2056l25 28l32 128l-25-3z"/><path fill="#1231f6" stroke="#0c25c9" d="M5896 2212l26 10l32-159l-26-17z"/><path fill="#2271f6" stroke="#1757c9" d="M5954 2063l25-20l32-174l-25 4z"/><path fill="#19a8f6" stroke="#1181c9" d="M6011 1869l26 5l32-171l-26 0z"/><path fill="#0cddf6" stroke="#08aac9" d="M6069 1703l25-5l32-155l-25 5z"/><path fill="#08edf6" stroke="#05b6c9" d="M6126 1543l26 3l32-54l-26-22z"/><path fill="#0ddcf6" stroke="#09a9c9" d="M6184 1492l25 51l32-3l-25-59z"/><path fill="#1aa4f6" stroke="#127ec9" d="M6241 1540l26 72l32 89l-26-71z"/><path fill="#2378f6" stroke="#185cc9" d="M6299 1701l25 70l32 59l-25-55z"/><path fill="#1230f6" stroke="#0c24c9" d="M6356 1830l26 73l32 139l-26-92z"/><path fill="#1438f6" stroke="#0e2bc9" d="M4771 2289l25 2l32-173l-25 8z"/><path fill="#1f66f6" stroke="#154ec9" d="M4828 2118l26 3l32-146l-26-16z"/><path fill="#1f91f6" stroke="#156fc9" d="M4886 1975l26 31l32-160l-26-31z"/><path fill="#16b3f6" stroke="#0f89c9" d="M4944 1846l25 37l32-144l-25-37z"/><path fill="#11caf6" stroke="#0b9bc9" d="M5001 1739l26 7l32-77l-26 7z"/><path fill="#13c2f6" stroke="#0d95c9" d="M5059 1669l25-18l32 40l-25 20z"/><path fill="#15bbf6" stroke="#0e8fc9" d="M5116 1691l26-19l32 36l-26 21z"/><path fill="#18aaf6" stroke="#1082c9" d="M5174 1708l25-17l32 62l-25 33z"/><path fill="#1c9cf6" stroke="#1378c9" d="M5231 1753l26-25l32 68l-26 24z"/><path fill="#237ef6" stroke="#1861c9" d="M5289 1796l25 22l32 63l-25-28z"/><path fill="#2187f6" stroke="#1767c9" d="M5346 1881l26 54l32-87l-26-56z"/><path fill="#1c9cf6" stroke="#1378c9" d="M5404 1848l25 48l32-112l-25-68z"/><path fill="#19a7f6" stroke="#1180c9" d="M5461 1784l26 76l32-113l-26-70z"/><path fill="#18aef6" stroke="#1085c9" d="M5519 1747l25 82l32-106l-25-86z"/><path fill="#14c0f6" stroke="#0e93c9" d="M5576 1723l26 48l32-100l-26-45z"/><path fill="#13c0f6" stroke="#0d93c9" d="M5634 1671l26 29l32-35l-26-6z"/><path fill="#1d97f6" stroke="#1474c9" d="M5692 1665l25 4l32 116l-25 3z"/><path fill="#1e64f6" stroke="#154dc9" d="M5749 1785l26 15l32 132l-26-27z"/><path fill="#1230f6" stroke="#0c24c9" d="M5807 1932l25 43l32 109l-25-28z"/><path fill="#0600ff" stroke="#0400d1" d="M5864 2084l26 30l32 108l-26-10z"/><path fill="#153cf6" stroke="#0e2ec9" d="M5922 2222l25 12l32-191l-25 20z"/><path fill="#2274f6" stroke="#1759c9" d="M5979 2043l26-14l32-155l-26-5z"/><path fill="#18aef6" stroke="#1085c9" d="M6037 1874l25 12l32-188l-25 5z"/><path fill="#0ce0f6" stroke="#08acc9" d="M6094 1698l26 10l32-162l-26-3zM6152 1546l25 43l32-46l-25-51z"/><path fill="#11c7f6" stroke="#0b99c9" d="M6209 1543l26 69l32 0l-26-72z"/><path fill="#1f91f6" stroke="#156fc9" d="M6267 1612l25 48l32 111l-25-70z"/><path fill="#1e63f6" stroke="#154cc9" d="M6324 1771l26 82l32 50l-26-73z"/><path fill="#143bf6" stroke="#0e2dc9" d="M4796 2291l26 70l32-240l-26-3z"/><path fill="#1d61f6" stroke="#144ac9" d="M4854 2121l26 35l32-150l-26-31z"/><path fill="#2188f6" stroke="#1768c9" d="M4912 2006l25 31l32-154l-25-37z"/><path fill="#16b5f6" stroke="#0f8bc9" d="M4969 1883l26 2l32-139l-26-7z"/><path fill="#0ed4f6" stroke="#09a3c9" d="M5027 1746l25-3l32-92l-25 18z"/><path fill="#10ccf6" stroke="#0b9dc9" d="M5084 1651l26-18l32 39l-26 19z"/><path fill="#12c4f6" stroke="#0c96c9" d="M5142 1672l25-21l32 40l-25 17z"/><path fill="#15b7f6" stroke="#0e8cc9" d="M5199 1691l26-17l32 54l-26 25z"/><path fill="#1d98f6" stroke="#1475c9" d="M5257 1728l25 11l32 79l-25-22z"/><path fill="#2170f6" stroke="#1756c9" d="M5314 1818l26 39l32 78l-26-54z"/><path fill="#247cf6" stroke="#195fc9" d="M5372 1935l25 67l32-106l-25-48z"/><path fill="#2186f6" stroke="#1767c9" d="M5429 1896l26 69l32-105l-26-76z"/><path fill="#1f90f6" stroke="#156ec9" d="M5487 1860l25 78l32-109l-25-82z"/><path fill="#1aa2f6" stroke="#127cc9" d="M5544 1829l26 54l32-112l-26-48z"/><path fill="#15baf6" stroke="#0e8fc9" d="M5602 1771l26 5l32-76l-26-29z"/><path fill="#13c2f6" stroke="#0d95c9" d="M5660 1700l25-27l32-4l-25-4z"/><path fill="#1e96f6" stroke="#1573c9" d="M5717 1669l26 17l32 114l-26-15z"/><path fill="#1c5af6" stroke="#1345c9" d="M5775 1800l25 38l32 137l-25-43z"/><path fill="#102af6" stroke="#0b20c9" d="M5832 1975l26 35l32 104l-26-30z"/><path fill="#0600ff" stroke="#0400d1" d="M5890 2114l25 0l32 120l-25-12z"/><path fill="#1744f6" stroke="#1034c9" d="M5947 2234l26 15l32-220l-26 14z"/><path fill="#2274f6" stroke="#1759c9" d="M6005 2029l25 28l32-171l-25-12z"/><path fill="#18aff6" stroke="#1086c9" d="M6062 1886l26 6l32-184l-26-10z"/><path fill="#0ed6f6" stroke="#09a4c9" d="M6120 1708l25 40l32-159l-25-43z"/><path fill="#10cdf6" stroke="#0b9dc9" d="M6177 1589l26 36l32-13l-26-69z"/><path fill="#14bcf6" stroke="#0e90c9" d="M6235 1612l25 21l32 27l-25-48z"/><path fill="#247af6" stroke="#195dc9" d="M6292 1660l26 54l32 139l-26-82z"/><path fill="#1233f6" stroke="#0c27c9" d="M4822 2361l26 1l32-206l-26-35z"/><path fill="#1c5af6" stroke="#1345c9" d="M4880 2156l25 46l32-165l-25-31z"/><path fill="#208cf6" stroke="#166bc9" d="M4937 2037l26 7l32-159l-26-2z"/><path fill="#15bbf6" stroke="#0e8fc9" d="M4995 1885l25 1l32-143l-25 3z"/><path fill="#0cdff6" stroke="#08abc9" d="M5052 1743l26-20l32-90l-26 18z"/><path fill="#0ed8f6" stroke="#09a6c9" d="M5110 1633l25-5l32 23l-25 21z"/><path fill="#10cff6" stroke="#0b9fc9" d="M5167 1651l26-16l32 39l-26 17z"/><path fill="#15b8f6" stroke="#0e8dc9" d="M5225 1674l25-8l32 73l-25-11z"/><path fill="#1f8ff6" stroke="#156ec9" d="M5282 1739l26 43l32 75l-26-39z"/><path fill="#1d5ef6" stroke="#1448c9" d="M5340 1857l25 52l32 93l-25-67z"/><path fill="#1f68f6" stroke="#1550c9" d="M5397 2002l26 69l32-106l-26-69z"/><path fill="#2171f6" stroke="#1757c9" d="M5455 1965l25 82l32-109l-25-78z"/><path fill="#2282f6" stroke="#1764c9" d="M5512 1938l26 70l32-125l-26-54z"/><path fill="#1aa5f6" stroke="#127fc9" d="M5570 1883l26-5l32-102l-26-5z"/><path fill="#12c6f6" stroke="#0c98c9" d="M5628 1776l25-51l32-52l-25 27z"/><path fill="#13c2f6" stroke="#0d95c9" d="M5685 1673l26-26l32 39l-26-17z"/><path fill="#208df6" stroke="#166cc9" d="M5743 1686l25 9l32 143l-25-38z"/><path fill="#1a52f6" stroke="#123fc9" d="M5800 1838l26 24l32 148l-26-35z"/><path fill="#112ef6" stroke="#0b23c9" d="M5858 2010l25-6l32 110l-25 0z"/><path fill="#0600ff" stroke="#0400d1" d="M5915 2114l26 0l32 135l-26-15z"/><path fill="#1640f6" stroke="#0f31c9" d="M5973 2249l25-3l32-189l-25-28z"/><path fill="#2376f6" stroke="#185ac9" d="M6030 2057l26 25l32-190l-26-6z"/><path fill="#1aa5f6" stroke="#127fc9" d="M6088 1892l25 16l32-160l-25-40z"/><path fill="#10cdf6" stroke="#0b9dc9" d="M6145 1748l26 40l32-163l-26-36z"/><path fill="#11caf6" stroke="#0b9bc9" d="M6203 1625l25 78l32-70l-25-21z"/><path fill="#18adf6" stroke="#1085c9" d="M6260 1633l26 26l32 55l-26-54z"/><path fill="#1027f6" stroke="#0b1ec9" d="M4848 2362l25-32l32-128l-25-46z"/><path fill="#1c5cf6" stroke="#1346c9" d="M4905 2202l26-12l32-146l-26-7z"/><path fill="#1f90f6" stroke="#156ec9" d="M4963 2044l25-5l32-153l-25-1z"/><path fill="#12c5f6" stroke="#0c97c9" d="M5020 1886l26-17l32-146l-26 20z"/><path fill="#0be4f6" stroke="#07afc9" d="M5078 1723l25-25l32-70l-25 5z"/><path fill="#0be1f6" stroke="#07adc9" d="M5135 1628l26-21l32 28l-26 16z"/><path fill="#0ed6f6" stroke="#09a4c9" d="M5193 1635l25-3l32 34l-25 8z"/><path fill="#18adf6" stroke="#1085c9" d="M5250 1666l26 34l32 82l-26-43z"/><path fill="#2281f6" stroke="#1763c9" d="M5308 1782l25 52l32 75l-25-52z"/><path fill="#184af6" stroke="#1038c9" d="M5365 1909l26 70l32 92l-26-69z"/><path fill="#1a51f6" stroke="#123ec9" d="M5423 2071l25 102l32-126l-25-82z"/><path fill="#1d5ef6" stroke="#1448c9" d="M5480 2047l26 94l32-133l-26-70z"/><path fill="#2188f6" stroke="#1768c9" d="M5538 2008l26 18l32-148l-26 5z"/><path fill="#15bbf6" stroke="#0e8fc9" d="M5596 1878l25-24l32-129l-25 51z"/><path fill="#0fd4f6" stroke="#0aa3c9" d="M5653 1725l26-48l32-30l-26 26z"/><path fill="#13c2f6" stroke="#0d95c9" d="M5711 1647l25 3l32 45l-25-9z"/><path fill="#2189f6" stroke="#1769c9" d="M5768 1695l26 24l32 143l-26-24z"/><path fill="#1c59f6" stroke="#1344c9" d="M5826 1862l25 8l32 134l-25 6z"/><path fill="#1232f6" stroke="#0c26c9" d="M5883 2004l26-14l32 124l-26 0z"/><path fill="#0705ff" stroke="#0403d1" d="M5941 2114l25 30l32 102l-25 3z"/><path fill="#153cf6" stroke="#0e2ec9" d="M5998 2246l26-3l32-161l-26-25z"/><path fill="#2275f6" stroke="#175ac9" d="M6056 2082l25 30l32-204l-25-16z"/><path fill="#1c9cf6" stroke="#1378c9" d="M6113 1908l26 17l32-137l-26-40z"/><path fill="#15b8f6" stroke="#0e8dc9" d="M6171 1788l25 32l32-117l-25-78z"/><path fill="#12c5f6" stroke="#0c97c9" d="M6228 1703l26 69l32-113l-26-26z"/><path fill="#1230f6" stroke="#0c24c9" d="M4873 2330l26-7l32-133l-26 12z"/><path fill="#1e61f6" stroke="#154ac9" d="M4931 2190l25-12l32-139l-25 5z"/><path fill="#1d9af6" stroke="#1476c9" d="M4988 2039l26-9l32-161l-26 17z"/><path fill="#0fd2f6" stroke="#0aa1c9" d="M5046 1869l25-12l32-159l-25 25z"/><path fill="#08eff6" stroke="#05b8c9" d="M5103 1698l26-20l32-71l-26 21z"/><path fill="#0ae6f6" stroke="#07b1c9" d="M5161 1607l25-26l32 51l-25 3z"/><path fill="#10cef6" stroke="#0b9ec9" d="M5218 1632l26 9l32 59l-26-34z"/><path fill="#1ba0f6" stroke="#127bc9" d="M5276 1700l25 59l32 75l-25-52z"/><path fill="#216ef6" stroke="#1754c9" d="M5333 1834l26 57l32 88l-26-70z"/><path fill="#112cf6" stroke="#0b21c9" d="M5391 1979l25 83l32 111l-25-102z"/><path fill="#1336f6" stroke="#0d29c9" d="M5448 2173l26 86l32-118l-26-94z"/><path fill="#1c5cf6" stroke="#1346c9" d="M5506 2141l26 16l32-131l-26-18z"/><path fill="#1e94f6" stroke="#1571c9" d="M5564 2026l25-54l32-118l-25 24z"/><path fill="#10cef6" stroke="#0b9ec9" d="M5621 1854l26-34l32-143l-26 48z"/><path fill="#0ed7f6" stroke="#09a5c9" d="M5679 1677l25-28l32 1l-25-3z"/><path fill="#14bff6" stroke="#0e93c9" d="M5736 1650l26-6l32 75l-26-24z"/><path fill="#208bf6" stroke="#166bc9" d="M5794 1719l25 27l32 124l-25-8z"/><path fill="#1e61f6" stroke="#154ac9" d="M5851 1870l26-12l32 132l-26 14z"/><path fill="#112df6" stroke="#0b22c9" d="M5909 1990l25 24l32 130l-25-30z"/><path fill="#090aff" stroke="#0607d1" d="M5966 2144l26 33l32 66l-26 3z"/><path fill="#1336f6" stroke="#0d29c9" d="M6024 2243l25 22l32-153l-25-30z"/><path fill="#2273f6" stroke="#1758c9" d="M6081 2112l26 24l32-211l-26-17z"/><path fill="#1e95f6" stroke="#1572c9" d="M6139 1925l25 53l32-158l-25-32z"/><path fill="#1aa4f6" stroke="#127ec9" d="M6196 1820l26 44l32-92l-26-69z"/><path fill="#1438f6" stroke="#0e2bc9" d="M4899 2323l25 58l32-203l-25 12z"/><path fill="#1f68f6" stroke="#1550c9" d="M4956 2178l26 13l32-161l-26 9z"/><path fill="#1ba1f6" stroke="#127bc9" d="M5014 2030l25-3l32-170l-25 12z"/><path fill="#0cddf6" stroke="#08aac9" d="M5071 1857l26-19l32-160l-26 20z"/><path fill="#06f7f6" stroke="#04bec9" d="M5129 1678l25-13l32-84l-25 26z"/><path fill="#0ae7f6" stroke="#07b1c9" d="M5186 1581l26 19l32 41l-26-9z"/><path fill="#14bff6" stroke="#0e93c9" d="M5244 1641l25 30l32 88l-25-59z"/><path fill="#1f91f6" stroke="#156fc9" d="M5301 1759l26 47l32 85l-26-57z"/><path fill="#1b57f6" stroke="#1242c9" d="M5359 1891l25 56l32 115l-25-83z"/><path fill="#0b14f6" stroke="#070fc9" d="M5416 2062l26 77l32 120l-26-86z"/><path fill="#1335f6" stroke="#0d28c9" d="M5474 2259l26 12l32-114l-26-16z"/><path fill="#2272f6" stroke="#1757c9" d="M5532 2157l25-72l32-113l-25 54z"/><path fill="#1aa3f6" stroke="#127dc9" d="M5589 1972l26-54l32-98l-26 34z"/><path fill="#0cddf6" stroke="#08aac9" d="M5647 1820l25-43l32-128l-25 28zM5704 1649l26-22l32 17l-26 6z"/><path fill="#15baf6" stroke="#0e8fc9" d="M5762 1644l25 9l32 93l-25-27z"/><path fill="#1e93f6" stroke="#1571c9" d="M5819 1746l26 8l32 104l-26 12z"/><path fill="#1d5ef6" stroke="#1448c9" d="M5877 1858l25 32l32 124l-25-24z"/><path fill="#0f25f6" stroke="#0a1cc9" d="M5934 2014l26-4l32 167l-26-33z"/><path fill="#0807ff" stroke="#0505d1" d="M5992 2177l25-7l32 95l-25-22z"/><path fill="#1231f6" stroke="#0c25c9" d="M6049 2265l26 24l32-153l-26-24z"/><path fill="#1f65f6" stroke="#154dc9" d="M6107 2136l25 15l32-173l-25-53z"/><path fill="#208bf6" stroke="#166bc9" d="M6164 1978l26 43l32-157l-26-44z"/><path fill="#1438f6" stroke="#0e2bc9" d="M4924 2381l26-59l32-131l-26-13z"/><path fill="#216ef6" stroke="#1754c9" d="M4982 2191l25 14l32-178l-25 3z"/><path fill="#18acf6" stroke="#1084c9" d="M5039 2027l26-3l32-186l-26 19z"/><path fill="#0ae5f6" stroke="#07b0c9" d="M5097 1838l25-21l32-152l-25 13z"/><path fill="#06f7f6" stroke="#04bec9" d="M5154 1665l26 14l32-79l-26-19z"/><path fill="#0be2f6" stroke="#07aec9" d="M5212 1600l25 40l32 31l-25-30z"/><path fill="#17b3f6" stroke="#1089c9" d="M5269 1671l26 48l32 87l-26-47z"/><path fill="#2282f6" stroke="#1764c9" d="M5327 1806l25 69l32 72l-25-56z"/><path fill="#1640f6" stroke="#0f31c9" d="M5384 1947l26 67l32 125l-26-77z"/><path fill="#0b14f6" stroke="#070fc9" d="M5442 2139l26 15l32 117l-26-12z"/><path fill="#1a51f6" stroke="#123ec9" d="M5500 2271l25-71l32-115l-25 72z"/><path fill="#2188f6" stroke="#1768c9" d="M5557 2085l26-56l32-111l-26 54z"/><path fill="#16b7f6" stroke="#0f8cc9" d="M5615 1918l25-40l32-101l-25 43z"/><path fill="#0ae7f6" stroke="#07b1c9" d="M5672 1777l26-41l32-109l-26 22z"/><path fill="#0cdff6" stroke="#08abc9" d="M5730 1627l25-28l32 54l-25-9z"/><path fill="#14bcf6" stroke="#0e90c9" d="M5787 1653l26 6l32 95l-26-8z"/><path fill="#208cf6" stroke="#166bc9" d="M5845 1754l25 18l32 118l-25-32z"/><path fill="#1e63f6" stroke="#154cc9" d="M5902 1890l26 6l32 114l-26 4z"/><path fill="#112cf6" stroke="#0b21c9" d="M5960 2010l25 3l32 157l-25 7z"/><path fill="#0703ff" stroke="#0402d1" d="M6017 2170l26-7l32 126l-26-24z"/><path fill="#1230f6" stroke="#0c24c9" d="M6075 2289l25 10l32-148l-25-15z"/><path fill="#1c5cf6" stroke="#1346c9" d="M6132 2151l26 6l32-136l-26-43z"/><path fill="#1437f6" stroke="#0e2ac9" d="M4950 2322l25 49l32-166l-25-14z"/><path fill="#2273f6" stroke="#1758c9" d="M5007 2205l26-1l32-180l-26 3z"/><path fill="#15b8f6" stroke="#0e8dc9" d="M5065 2024l25 12l32-219l-25 21z"/><path fill="#0ae5f6" stroke="#07b0c9" d="M5122 1817l26 12l32-150l-26-14z"/><path fill="#07f1f6" stroke="#04b9c9" d="M5180 1679l25 40l32-79l-25-40z"/><path fill="#0ed6f6" stroke="#09a4c9" d="M5237 1640l26 37l32 42l-26-48z"/><path fill="#1ba0f6" stroke="#127bc9" d="M5295 1719l25 31l32 125l-25-69z"/><path fill="#2170f6" stroke="#1756c9" d="M5352 1875l26 51l32 88l-26-67z"/><path fill="#1640f6" stroke="#0f31c9" d="M5410 2014l26 36l32 104l-26-15z"/><path fill="#1230f6" stroke="#0c24c9" d="M5468 2154l25-39l32 85l-25 71z"/><path fill="#1f68f6" stroke="#1550c9" d="M5525 2200l26-69l32-102l-26 56z"/><path fill="#1d9af6" stroke="#1476c9" d="M5583 2029l25-58l32-93l-25 40z"/><path fill="#11c8f6" stroke="#0b9ac9" d="M5640 1878l26-32l32-110l-26 41z"/><path fill="#06f5f6" stroke="#04bcc9" d="M5698 1736l25-38l32-99l-25 28z"/><path fill="#0ce1f6" stroke="#08adc9" d="M5755 1599l26-9l32 69l-26-6z"/><path fill="#15b9f6" stroke="#0e8ec9" d="M5813 1659l25 15l32 98l-25-18z"/><path fill="#1f8ff6" stroke="#156ec9" d="M5870 1772l26 5l32 119l-26-6z"/><path fill="#1f66f6" stroke="#154ec9" d="M5928 1896l25-2l32 119l-25-3z"/><path fill="#1233f6" stroke="#0c27c9" d="M5985 2013l26-7l32 157l-26 7z"/><path fill="#0704ff" stroke="#0403d1" d="M6043 2163l25 25l32 111l-25-10z"/><path fill="#1233f6" stroke="#0c27c9" d="M6100 2299l26 16l32-158l-26-6z"/><path fill="#153cf6" stroke="#0e2ec9" d="M4975 2371l26 34l32-201l-26 1z"/><path fill="#2273f6" stroke="#1758c9" d="M5033 2204l25 20l32-188l-25-12z"/><path fill="#15b8f6" stroke="#0e8dc9" d="M5090 2036l26 2l32-209l-26-12z"/><path fill="#0ddcf6" stroke="#09a9c9" d="M5148 1829l25 38l32-148l-25-40z"/><path fill="#09e8f6" stroke="#06b2c9" d="M5205 1719l26 36l32-78l-26-37z"/><path fill="#10cff6" stroke="#0b9fc9" d="M5263 1677l25 47l32 26l-25-31z"/><path fill="#1e93f6" stroke="#1571c9" d="M5320 1750l26 38l32 138l-26-51z"/><path fill="#1f68f6" stroke="#1550c9" d="M5378 1926l26 24l32 100l-26-36z"/><path fill="#1a51f6" stroke="#123ec9" d="M5436 2050l25-15l32 80l-25 39z"/><path fill="#184bf6" stroke="#1039c9" d="M5493 2115l26-43l32 59l-26 69z"/><path fill="#2380f6" stroke="#1862c9" d="M5551 2131l25-28l32-132l-25 58z"/><path fill="#19a8f6" stroke="#1181c9" d="M5608 1971l26-34l32-91l-26 32z"/><path fill="#0dd9f6" stroke="#09a7c9" d="M5666 1846l25-36l32-112l-25 38z"/><path fill="#06f7f6" stroke="#04bec9" d="M5723 1698l26-15l32-93l-26 9z"/><path fill="#0ce0f6" stroke="#08acc9" d="M5781 1590l25 53l32 31l-25-15z"/><path fill="#14bcf6" stroke="#0e90c9" d="M5838 1674l26 3l32 100l-26-5z"/><path fill="#1e93f6" stroke="#1571c9" d="M5896 1777l25 0l32 117l-25 2z"/><path fill="#206cf6" stroke="#1653c9" d="M5953 1894l26-10l32 122l-26 7z"/><path fill="#112ef6" stroke="#0b23c9" d="M6011 2006l25 21l32 161l-25-25z"/><path fill="#0702ff" stroke="#0401d1" d="M6068 2188l26 24l32 103l-26-16z"/><path fill="#1439f6" stroke="#0e2bc9" d="M5001 2405l25 8l32-189l-25-20z"/><path fill="#2377f6" stroke="#185bc9" d="M5058 2224l26 14l32-200l-26-2z"/><path fill="#17aff6" stroke="#1086c9" d="M5116 2038l25 15l32-186l-25-38z"/><path fill="#0fd4f6" stroke="#0aa3c9" d="M5173 1867l26 41l32-153l-26-36z"/><path fill="#0cddf6" stroke="#08aac9" d="M5231 1755l25 48l32-79l-25-47z"/><path fill="#12c6f6" stroke="#0c98c9" d="M5288 1724l26 44l32 20l-26-38z"/><path fill="#1f8ff6" stroke="#156ec9" d="M5346 1788l26 38l32 124l-26-24z"/><path fill="#2271f6" stroke="#1757c9" d="M5404 1950l25 0l32 85l-25 15z"/><path fill="#1e63f6" stroke="#154cc9" d="M5461 2035l26-29l32 66l-26 43z"/><path fill="#1c59f6" stroke="#1344c9" d="M5519 2072l25-29l32 60l-25 28z"/><path fill="#1f8ff6" stroke="#156ec9" d="M5576 2103l26-28l32-138l-26 34z"/><path fill="#15b9f6" stroke="#0e8ec9" d="M5634 1937l25-43l32-84l-25 36z"/><path fill="#0be2f6" stroke="#07aec9" d="M5691 1810l26-10l32-117l-26 15z"/><path fill="#08eff6" stroke="#05b8c9" d="M5749 1683l25 47l32-87l-25-53z"/><path fill="#0be2f6" stroke="#07aec9" d="M5806 1643l26 64l32-30l-26-3z"/><path fill="#13c0f6" stroke="#0d93c9" d="M5864 1677l25 31l32 69l-25 0z"/><path fill="#1c9bf6" stroke="#1377c9" d="M5921 1777l26 11l32 96l-26 10z"/><path fill="#206af6" stroke="#1651c9" d="M5979 1884l25 15l32 128l-25-21z"/><path fill="#102af6" stroke="#0b20c9" d="M6036 2027l26 36l32 149l-26-24z"/><path fill="#1439f6" stroke="#0e2bc9" d="M5026 2413l26-22l32-153l-26-14z"/><path fill="#2376f6" stroke="#185ac9" d="M5084 2238l25 13l32-198l-25-15z"/><path fill="#1aa5f6" stroke="#127fc9" d="M5141 2053l26 33l32-178l-26-41z"/><path fill="#11c7f6" stroke="#0b99c9" d="M5199 1908l25 22l32-127l-25-48z"/><path fill="#0fd2f6" stroke="#0aa1c9" d="M5256 1803l26 39l32-74l-26-44z"/><path fill="#14bef6" stroke="#0e92c9" d="M5314 1768l26 54l32 4l-26-38z"/><path fill="#1e93f6" stroke="#1571c9" d="M5372 1826l25 35l32 89l-25 0z"/><path fill="#2380f6" stroke="#1862c9" d="M5429 1950l26-37l32 93l-26 29z"/><path fill="#2272f6" stroke="#1757c9" d="M5487 2006l25-33l32 70l-25 29z"/><path fill="#1f66f6" stroke="#154ec9" d="M5544 2043l26-32l32 64l-26 28z"/><path fill="#1ba1f6" stroke="#127bc9" d="M5602 2075l25-43l32-138l-25 43z"/><path fill="#13c1f6" stroke="#0d94c9" d="M5659 1894l26-12l32-82l-26 10z"/><path fill="#0ed7f6" stroke="#09a5c9" d="M5717 1800l25 34l32-104l-25-47z"/><path fill="#0cdef6" stroke="#08aac9" d="M5774 1730l26 66l32-89l-26-64z"/><path fill="#0cdcf6" stroke="#08a9c9" d="M5832 1707l25 48l32-47l-25-31z"/><path fill="#13c1f6" stroke="#0d94c9" d="M5889 1708l26 47l32 33l-26-11z"/><path fill="#1d9af6" stroke="#1476c9" d="M5947 1788l25 23l32 88l-25-15z"/><path fill="#1e61f6" stroke="#154ac9" d="M6004 1899l26 19l32 145l-26-36z"/><path fill="#1439f6" stroke="#0e2bc9" d="M5052 2391l25 54l32-194l-25-13z"/><path fill="#216ff6" stroke="#1755c9" d="M5109 2251l26 31l32-196l-26-33z"/><path fill="#1ba2f6" stroke="#127cc9" d="M5167 2086l25 36l32-192l-25-22z"/><path fill="#14bff6" stroke="#0e93c9" d="M5224 1930l26 22l32-110l-26-39z"/><path fill="#12c4f6" stroke="#0c96c9" d="M5282 1842l26 34l32-54l-26-54z"/><path fill="#16b6f6" stroke="#0f8cc9" d="M5340 1822l25 38l32 1l-25-35z"/><path fill="#1aa3f6" stroke="#127dc9" d="M5397 1861l26-9l32 61l-26 37z"/><path fill="#1f8ef6" stroke="#156dc9" d="M5455 1913l25-21l32 81l-25 33z"/><path fill="#2381f6" stroke="#1863c9" d="M5512 1973l26-23l32 61l-26 32z"/><path fill="#2379f6" stroke="#185dc9" d="M5570 2011l25-36l32 57l-25 43z"/><path fill="#19aaf6" stroke="#1182c9" d="M5627 2032l26-2l32-148l-26 12z"/><path fill="#15b9f6" stroke="#0e8ec9" d="M5685 1882l25 54l32-102l-25-34z"/><path fill="#12c4f6" stroke="#0c96c9" d="M5742 1834l26 46l32-84l-26-66z"/><path fill="#0fd2f6" stroke="#0aa1c9" d="M5800 1796l25 70l32-111l-25-48z"/><path fill="#0fd1f6" stroke="#0aa0c9" d="M5857 1755l26 62l32-62l-26-47z"/><path fill="#14bdf6" stroke="#0e91c9" d="M5915 1755l25 64l32-8l-25-23z"/><path fill="#1d98f6" stroke="#1475c9" d="M5972 1811l26 45l32 62l-26-19z"/><path fill="#1232f6" stroke="#0c26c9" d="M5077 2445l26 17l32-180l-26-31z"/><path fill="#1f66f6" stroke="#154ec9" d="M5135 2282l25 29l32-189l-25-36z"/><path fill="#1b9ff6" stroke="#127ac9" d="M5192 2122l26 31l32-201l-26-22z"/><path fill="#15b7f6" stroke="#0e8cc9" d="M5250 1952l26 30l32-106l-26-34z"/><path fill="#14bcf6" stroke="#0e90c9" d="M5308 1876l25 46l32-62l-25-38z"/><path fill="#14bef6" stroke="#0e92c9" d="M5365 1860l26-14l32 6l-26 9z"/><path fill="#17aff6" stroke="#1086c9" d="M5423 1852l25 2l32 38l-25 21z"/><path fill="#1c9bf6" stroke="#1377c9" d="M5480 1892l26-27l32 85l-26 23z"/><path fill="#1f91f6" stroke="#156fc9" d="M5538 1950l25-37l32 62l-25 36z"/><path fill="#237ef6" stroke="#1861c9" d="M5595 1975l26-23l32 78l-26 2z"/><path fill="#1c9cf6" stroke="#1378c9" d="M5653 2030l25 41l32-135l-25-54z"/><path fill="#18adf6" stroke="#1085c9" d="M5710 1936l26 68l32-124l-26-46z"/><path fill="#17b2f6" stroke="#1089c9" d="M5768 1880l25 69l32-83l-25-70z"/><path fill="#13c1f6" stroke="#0d94c9" d="M5825 1866l26 81l32-130l-26-62z"/><path fill="#14bff6" stroke="#0e93c9" d="M5883 1817l25 74l32-72l-25-64z"/><path fill="#17b2f6" stroke="#1089c9" d="M5940 1819l26 68l32-31l-26-45z"/><path fill="#112cf6" stroke="#0b21c9" d="M5103 2462l25-32l32-119l-25-29z"/><path fill="#1d61f6" stroke="#144ac9" d="M5160 2311l26 4l32-162l-26-31z"/><path fill="#1d99f6" stroke="#1475c9" d="M5218 2153l26 33l32-204l-26-30z"/><path fill="#18acf6" stroke="#1084c9" d="M5276 1982l25 45l32-105l-25-46z"/><path fill="#12c4f6" stroke="#0c96c9" d="M5333 1922l26-9l32-67l-26 14z"/><path fill="#13c1f6" stroke="#0d94c9" d="M5391 1846l25-5l32 13l-25-2z"/><path fill="#14bcf6" stroke="#0e90c9" d="M5448 1854l26 0l32 11l-26 27z"/><path fill="#18abf6" stroke="#1083c9" d="M5506 1865l25-12l32 60l-25 37z"/><path fill="#1c9df6" stroke="#1378c9" d="M5563 1913l26-22l32 61l-26 23z"/><path fill="#2274f6" stroke="#1759c9" d="M5621 1952l25 49l32 70l-25-41z"/><path fill="#2189f6" stroke="#1769c9" d="M5678 2071l26 61l32-128l-26-68z"/><path fill="#1c9bf6" stroke="#1377c9" d="M5736 2004l25 79l32-134l-25-69zM5793 1949l26 69l32-71l-26-81z"/><path fill="#18acf6" stroke="#1084c9" d="M5851 1947l25 71l32-127l-25-74zM5908 1891l26 55l32-59l-26-68z"/><path fill="#122ff6" stroke="#0c24c9" d="M5128 2430l26 41l32-156l-26-4z"/><path fill="#1c5af6" stroke="#1345c9" d="M5186 2315l26 10l32-139l-26-33z"/><path fill="#1f8ef6" stroke="#156dc9" d="M5244 2186l25 22l32-181l-25-45z"/><path fill="#16b3f6" stroke="#0f89c9" d="M5301 2027l26 9l32-123l-26 9z"/><path fill="#11caf6" stroke="#0b9bc9" d="M5359 1913l25-19l32-53l-25 5z"/><path fill="#12c5f6" stroke="#0c97c9" d="M5416 1841l26-9l32 22l-26 0z"/><path fill="#12c4f6" stroke="#0c96c9" d="M5474 1854l25-25l32 24l-25 12z"/><path fill="#16b7f6" stroke="#0f8cc9" d="M5531 1853l26 10l32 28l-26 22z"/><path fill="#1f90f6" stroke="#156ec9" d="M5589 1891l25 34l32 76l-25-49z"/><path fill="#1e63f6" stroke="#154cc9" d="M5646 2001l26 44l32 87l-26-61z"/><path fill="#2273f6" stroke="#1758c9" d="M5704 2132l25 66l32-115l-25-79z"/><path fill="#2188f6" stroke="#1768c9" d="M5761 2083l26 78l32-143l-26-69z"/><path fill="#2186f6" stroke="#1767c9" d="M5819 2018l25 66l32-66l-25-71z"/><path fill="#1c9ef6" stroke="#1379c9" d="M5876 2018l26 75l32-147l-26-55z"/><path fill="#1230f6" stroke="#0c24c9" d="M5154 2471l26-11l32-135l-26-10z"/><path fill="#1b57f6" stroke="#1242c9" d="M5212 2325l25 29l32-146l-25-22z"/><path fill="#1f8ff6" stroke="#156ec9" d="M5269 2208l26-12l32-160l-26-9z"/><path fill="#14bef6" stroke="#0e92c9" d="M5327 2036l25-8l32-134l-25 19z"/><path fill="#0fd2f6" stroke="#0aa1c9" d="M5384 1894l26-11l32-51l-26 9zM5442 1832l25-12l32 9l-25 25z"/><path fill="#12c5f6" stroke="#0c97c9" d="M5499 1829l26-20l32 54l-26-10z"/><path fill="#17aff6" stroke="#1086c9" d="M5557 1863l25 5l32 57l-25-34z"/><path fill="#2186f6" stroke="#1767c9" d="M5614 1925l26 39l32 81l-26-44z"/><path fill="#1a51f6" stroke="#123ec9" d="M5672 2045l25 74l32 79l-25-66z"/><path fill="#1d5df6" stroke="#1447c9" d="M5729 2198l26 70l32-107l-26-78z"/><path fill="#2376f6" stroke="#185ac9" d="M5787 2161l25 87l32-164l-25-66z"/><path fill="#2272f6" stroke="#1757c9" d="M5844 2084l26 84l32-75l-26-75z"/><path fill="#102af6" stroke="#0b20c9" d="M5180 2460l25 50l32-156l-25-29z"/><path fill="#1d5ff6" stroke="#1449c9" d="M5237 2354l26 15l32-173l-26 12z"/><path fill="#1e96f6" stroke="#1573c9" d="M5295 2196l25-2l32-166l-25 8z"/><path fill="#12c5f6" stroke="#0c97c9" d="M5352 2028l26-4l32-141l-26 11z"/><path fill="#0ddaf6" stroke="#09a7c9" d="M5410 1883l25-25l32-38l-25 12z"/><path fill="#0cddf6" stroke="#08aac9" d="M5467 1820l26-10l32-1l-26 20z"/><path fill="#12c7f6" stroke="#0c99c9" d="M5525 1809l25 5l32 54l-25-5z"/><path fill="#1aa6f6" stroke="#127fc9" d="M5582 1868l26 22l32 74l-26-39z"/><path fill="#2271f6" stroke="#1757c9" d="M5640 1964l25 74l32 81l-25-74z"/><path fill="#153ff6" stroke="#0e30c9" d="M5697 2119l26 84l32 65l-26-70z"/><path fill="#1743f6" stroke="#1033c9" d="M5755 2268l25 73l32-93l-25-87z"/><path fill="#1d5ef6" stroke="#1448c9" d="M5812 2248l26 79l32-159l-26-84z"/><path fill="#1029f6" stroke="#0b1fc9" d="M5205 2510l26-10l32-131l-26-15z"/><path fill="#1e63f6" stroke="#154cc9" d="M5263 2369l25 4l32-179l-25 2z"/><path fill="#1c9cf6" stroke="#1378c9" d="M5320 2194l26 2l32-172l-26 4z"/><path fill="#0fd2f6" stroke="#0aa1c9" d="M5378 2024l25-7l32-159l-25 25z"/><path fill="#0be2f6" stroke="#07aec9" d="M5435 1858l26-23l32-25l-26 10z"/><path fill="#0cdff6" stroke="#08abc9" d="M5493 1810l25-14l32 18l-25-5z"/><path fill="#12c4f6" stroke="#0c96c9" d="M5550 1814l26 17l32 59l-26-22z"/><path fill="#1f92f6" stroke="#1570c9" d="M5608 1890l25 59l32 89l-25-74z"/><path fill="#1c59f6" stroke="#1344c9" d="M5665 2038l26 77l32 88l-26-84z"/><path fill="#1029f6" stroke="#0b1fc9" d="M5723 2203l25 66l32 72l-25-73z"/><path fill="#112df6" stroke="#0b22c9" d="M5780 2341l26 92l32-106l-26-79z"/><path fill="#112cf6" stroke="#0b21c9" d="M5231 2500l25 7l32-134l-25-4z"/><path fill="#1f66f6" stroke="#154ec9" d="M5288 2373l26 10l32-187l-26-2z"/><path fill="#1ba1f6" stroke="#127bc9" d="M5346 2196l25 2l32-181l-25 7z"/><path fill="#0cdef6" stroke="#08aac9" d="M5403 2017l26-13l32-169l-26 23z"/><path fill="#09eaf6" stroke="#06b4c9" d="M5461 1835l25-11l32-28l-25 14z"/><path fill="#0cdef6" stroke="#08aac9" d="M5518 1796l26-6l32 41l-26-17z"/><path fill="#16b5f6" stroke="#0f8bc9" d="M5576 1831l25 33l32 85l-25-59z"/><path fill="#247cf6" stroke="#195fc9" d="M5633 1949l26 62l32 104l-26-77z"/><path fill="#1747f6" stroke="#1036c9" d="M5691 2115l25 55l32 99l-25-66z"/><path fill="#0a0fff" stroke="#070bd1" d="M5748 2269l26 88l32 76l-26-92z"/><path fill="#112df6" stroke="#0b22c9" d="M5256 2507l26 20l32-144l-26-10z"/><path fill="#206af6" stroke="#1651c9" d="M5314 2383l25-17l32-168l-25-2z"/><path fill="#19aaf6" stroke="#1182c9" d="M5371 2198l26 12l32-206l-26 13z"/><path fill="#0ae5f6" stroke="#07b0c9" d="M5429 2004l25-1l32-179l-25 11z"/><path fill="#08f0f6" stroke="#05b8c9" d="M5486 1824l26-6l32-28l-26 6z"/><path fill="#0ed6f6" stroke="#09a4c9" d="M5544 1790l25 37l32 37l-25-33z"/><path fill="#1aa3f6" stroke="#127dc9" d="M5601 1864l26 46l32 101l-26-62z"/><path fill="#216df6" stroke="#1753c9" d="M5659 2011l25 69l32 90l-25-55z"/><path fill="#112ef6" stroke="#0b23c9" d="M5716 2170l26 65l32 122l-26-88z"/><path fill="#1337f6" stroke="#0d2ac9" d="M5282 2527l25 16l32-177l-25 17z"/><path fill="#206af6" stroke="#1651c9" d="M5339 2366l26-4l32-152l-26-12z"/><path fill="#17aff6" stroke="#1086c9" d="M5397 2210l25-18l32-189l-25 1z"/><path fill="#09ecf6" stroke="#06b5c9" d="M5454 2003l26 1l32-186l-26 6z"/><path fill="#0ae8f6" stroke="#07b2c9" d="M5512 1818l25 74l32-65l-25-37z"/><path fill="#11cbf6" stroke="#0b9cc9" d="M5569 1827l26 45l32 38l-26-46z"/><path fill="#1f91f6" stroke="#156fc9" d="M5627 1910l25 55l32 115l-25-69z"/><path fill="#1c5cf6" stroke="#1346c9" d="M5684 2080l26 74l32 81l-26-65z"/><path fill="#153df6" stroke="#0e2ec9" d="M5307 2543l26-18l32-163l-26 4z"/><path fill="#2275f6" stroke="#175ac9" d="M5365 2362l25 4l32-174l-25 18z"/><path fill="#17b3f6" stroke="#1089c9" d="M5422 2192l26-7l32-181l-26-1z"/><path fill="#0ed8f6" stroke="#09a6c9" d="M5480 2004l25 46l32-158l-25-74z"/><path fill="#0cddf6" stroke="#08aac9" d="M5537 1892l26 70l32-90l-26-45z"/><path fill="#14bdf6" stroke="#0e91c9" d="M5595 1872l25 55l32 38l-25-55z"/><path fill="#247df6" stroke="#1960c9" d="M5652 1965l26 59l32 130l-26-74z"/><path fill="#1540f6" stroke="#0e31c9" d="M5333 2525l25-22l32-137l-25-4z"/><path fill="#247bf6" stroke="#195ec9" d="M5390 2366l26 6l32-187l-26 7z"/><path fill="#19a7f6" stroke="#1180c9" d="M5448 2185l25 45l32-180l-25-46z"/><path fill="#12c4f6" stroke="#0c96c9" d="M5505 2050l26 38l32-126l-26-70z"/><path fill="#10cef6" stroke="#0b9ec9" d="M5563 1962l25 34l32-69l-25-55z"/><path fill="#18adf6" stroke="#1085c9" d="M5620 1927l26 61l32 36l-26-59z"/><path fill="#1641f6" stroke="#0f32c9" d="M5358 2503l26 33l32-164l-26-6z"/><path fill="#2170f6" stroke="#1756c9" d="M5416 2372l25 44l32-186l-25-45z"/><path fill="#1b9ff6" stroke="#127ac9" d="M5473 2230l26 45l32-187l-26-38z"/><path fill="#14bdf6" stroke="#0e91c9" d="M5531 2088l25 55l32-147l-25-34z"/><path fill="#14bff6" stroke="#0e93c9" d="M5588 1996l26 21l32-29l-26-61z"/><path fill="#1337f6" stroke="#0d2ac9" d="M5384 2536l25 29l32-149l-25-44z"/><path fill="#1f65f6" stroke="#154dc9" d="M5441 2416l26 31l32-172l-26-45z"/><path fill="#1f91f6" stroke="#156fc9" d="M5499 2275l25 46l32-178l-25-55z"/><path fill="#15baf6" stroke="#0e8fc9" d="M5556 2143l26 51l32-177l-26-21z"/><path fill="#1230f6" stroke="#0c24c9" d="M5409 2565l26 35l32-153l-26-31z"/><path fill="#1c5af6" stroke="#1345c9" d="M5467 2447l25 7l32-133l-25-46z"/><path fill="#2283f6" stroke="#1764c9" d="M5524 2321l26 37l32-164l-26-51z"/><path fill="#1232f6" stroke="#0c26c9" d="M5435 2600l25 36l32-182l-25-7z"/><path fill="#1a52f6" stroke="#123fc9" d="M5492 2454l26 9l32-105l-26-37z"/><path fill="#1334f6" stroke="#0d28c9" d="M5460 2636l26 7l32-180l-26-9z"/></g>
<path d="M420.9 209.9L548.6 271.7" stroke="#333" stroke-width="0.8" fill="none"/><path d="M548.6 271.7L676.6 210.0" stroke="#333" stroke-width="0.8" fill="none"/><path d="M452.8 225.3L452.8 220.8" stroke="#9a9a9a" stroke-width="0.5" fill="none"/><path d="M580.6 256.3L580.6 251.8" stroke="#9a9a9a" stroke-width="0.5" fill="none"/><path d="M484.8 240.8L484.8 236.3" stroke="#9a9a9a" stroke-width="0.5" fill="none"/><path d="M612.6 240.8L612.6 236.3" stroke="#9a9a9a" stroke-width="0.5" fill="none"/><path d="M516.7 256.2L516.7 251.8" stroke="#9a9a9a" stroke-width="0.5" fill="none"/><path d="M644.6 225.4L644.6 220.9" stroke="#9a9a9a" stroke-width="0.5" fill="none"/><path d="M548.6 271.7L548.6 267.2" stroke="#9a9a9a" stroke-width="0.5" fill="none"/><path d="M420.9 154.9L425.5 157.1" stroke="#9a9a9a" stroke-width="0.5" fill="none"/>
<text x="414.8" y="224.3" font-family='"Liberation Serif", serif' font-size="12.6" text-anchor="middle" font-style="normal" >0</text>
<text x="445.2" y="241.7" font-family='"Liberation Serif", serif' font-size="12.6" text-anchor="middle" font-style="normal" >0.5</text>
<text x="478.5" y="255.4" font-family='"Liberation Serif", serif' font-size="12.6" text-anchor="middle" font-style="normal" >1</text>
<text x="509.5" y="272.1" font-family='"Liberation Serif", serif' font-size="12.6" text-anchor="middle" font-style="normal" >1.5</text>
<text x="542.6" y="286.1" font-family='"Liberation Serif", serif' font-size="12.6" text-anchor="middle" font-style="normal" >2</text>
<text x="554.1" y="286.1" font-family='"Liberation Serif", serif' font-size="12.6" text-anchor="middle" font-style="normal" >0</text>
<text x="587.5" y="272.9" font-family='"Liberation Serif", serif' font-size="12.6" text-anchor="middle" font-style="normal" >0.5</text>
<text x="618.4" y="254.7" font-family='"Liberation Serif", serif' font-size="12.6" text-anchor="middle" font-style="normal" >1</text>
<text x="651.7" y="240.9" font-family='"Liberation Serif", serif' font-size="12.6" text-anchor="middle" font-style="normal" >1.5</text>
<text x="682.3" y="224.2" font-family='"Liberation Serif", serif' font-size="12.6" text-anchor="middle" font-style="normal" >2</text>
<text x="412.8" y="161.0" font-family='"Liberation Serif", serif' font-size="12.6" text-anchor="middle" font-style="normal" >5</text>
<text x="447.3" y="283.6" font-family='"Liberation Serif", serif' font-size="14.2" textLength="26.2" lengthAdjust="spacingAndGlyphs"><tspan font-style="italic">θ</tspan><tspan font-size="10" dy="2.4">1</tspan><tspan dy="-2.4">/</tspan><tspan font-style="italic">π</tspan></text>
<text x="623.6" y="283.2" font-family='"Liberation Serif", serif' font-size="14.2" textLength="26.2" lengthAdjust="spacingAndGlyphs"><tspan font-style="italic">θ</tspan><tspan font-size="10" dy="2.4">2</tspan><tspan dy="-2.4">/</tspan><tspan font-style="italic">π</tspan></text>
<text x="394" y="110" font-family='"Liberation Serif", serif' font-size="12.6">·10<tspan font-size="9" dy="-5">−2</tspan></text>
<g transform="translate(395,188.2) rotate(-90)" font-family='"Liberation Serif", serif' font-size="14.5"><text x="-0.6" y="0" font-style="italic" textLength="8.4" lengthAdjust="spacingAndGlyphs">V</text><text x="5.6" y="3.4" font-style="italic" font-size="10">f</text><text x="12.0" y="-6.3" font-size="10" textLength="10.8" lengthAdjust="spacingAndGlyphs">(2)</text><text x="23.6" y="0.6" font-size="15.5" textLength="6.8" lengthAdjust="spacingAndGlyphs">/</text><text x="31.0" y="0" font-style="italic" textLength="7.4" lengthAdjust="spacingAndGlyphs">σ</text><text x="38.8" y="-5.3" font-size="10">3</text></g>
<rect x="420" y="301.6" width="256.7" height="18.8" fill="url(#cbg)" stroke="#222" stroke-width="0.6"/>
<text x="429.1" y="334.0" font-family='"Liberation Serif", serif' font-size="12.6" text-anchor="middle" font-style="normal" >4.2</text>
<text x="467.5" y="334.0" font-family='"Liberation Serif", serif' font-size="12.6" text-anchor="middle" font-style="normal" >4.4</text>
<text x="505.8" y="334.0" font-family='"Liberation Serif", serif' font-size="12.6" text-anchor="middle" font-style="normal" >4.6</text>
<text x="544.2" y="334.0" font-family='"Liberation Serif", serif' font-size="12.6" text-anchor="middle" font-style="normal" >4.8</text>
<text x="582.5" y="334.0" font-family='"Liberation Serif", serif' font-size="12.6" text-anchor="middle" font-style="normal" >5</text>
<text x="620.9" y="334.0" font-family='"Liberation Serif", serif' font-size="12.6" text-anchor="middle" font-style="normal" >5.2</text>
<text x="659.2" y="334.0" font-family='"Liberation Serif", serif' font-size="12.6" text-anchor="middle" font-style="normal" >5.4</text>
<path d="M429.1 301.6v2.5M429.1 320.4v-2.5" stroke="#5a6a80" stroke-width="0.5"/><path d="M467.5 301.6v2.5M467.5 320.4v-2.5" stroke="#5a6a80" stroke-width="0.5"/><path d="M505.8 301.6v2.5M505.8 320.4v-2.5" stroke="#5a6a80" stroke-width="0.5"/><path d="M544.2 301.6v2.5M544.2 320.4v-2.5" stroke="#5a6a80" stroke-width="0.5"/><path d="M582.5 301.6v2.5M582.5 320.4v-2.5" stroke="#5a6a80" stroke-width="0.5"/><path d="M620.9 301.6v2.5M620.9 320.4v-2.5" stroke="#5a6a80" stroke-width="0.5"/><path d="M659.2 301.6v2.5M659.2 320.4v-2.5" stroke="#5a6a80" stroke-width="0.5"/>
<text x="636.3" y="355" font-family='"Liberation Serif", serif' font-size="12.6">·10<tspan font-size="9" dy="-5">−2</tspan></text>
<g fill="#3585db" fill-opacity="0.8" stroke="#0d2e5c" stroke-width="0.35" stroke-opacity="0.85"><circle cx="164.3" cy="537.7" r="2"/><circle cx="165.9" cy="539.2" r="2"/><circle cx="136.1" cy="560.0" r="2"/><circle cx="213.0" cy="500.3" r="2"/><circle cx="197.5" cy="511.1" r="2"/><circle cx="241.8" cy="475.9" r="2"/><circle cx="133.9" cy="562.3" r="2"/><circle cx="127.5" cy="568.7" r="2"/><circle cx="126.2" cy="567.4" r="2"/><circle cx="221.0" cy="496.1" r="2"/><circle cx="164.9" cy="536.7" r="2"/><circle cx="247.2" cy="472.5" r="2"/><circle cx="148.5" cy="554.8" r="2"/><circle cx="128.1" cy="566.9" r="2"/><circle cx="221.7" cy="491.5" r="2"/><circle cx="138.2" cy="560.2" r="2"/><circle cx="244.5" cy="477.9" r="2"/><circle cx="188.1" cy="523.8" r="2"/><circle cx="129.0" cy="560.9" r="2"/><circle cx="207.5" cy="507.2" r="2"/><circle cx="213.6" cy="500.1" r="2"/><circle cx="163.7" cy="539.8" r="2"/><circle cx="131.9" cy="567.4" r="2"/><circle cx="160.4" cy="546.1" r="2"/><circle cx="242.9" cy="477.3" r="2"/><circle cx="157.3" cy="545.3" r="2"/><circle cx="129.9" cy="567.7" r="2"/><circle cx="142.7" cy="558.5" r="2"/><circle cx="146.5" cy="558.0" r="2"/><circle cx="181.5" cy="526.8" r="2"/><circle cx="154.7" cy="544.5" r="2"/><circle cx="168.2" cy="535.2" r="2"/><circle cx="135.9" cy="557.5" r="2"/><circle cx="217.0" cy="500.6" r="2"/><circle cx="204.6" cy="507.6" r="2"/><circle cx="184.4" cy="528.1" r="2"/><circle cx="126.6" cy="569.2" r="2"/><circle cx="199.2" cy="510.8" r="2"/><circle cx="183.4" cy="528.4" r="2"/><circle cx="201.6" cy="513.7" r="2"/><circle cx="178.2" cy="529.3" r="2"/><circle cx="144.8" cy="558.1" r="2"/><circle cx="125.8" cy="567.6" r="2"/><circle cx="127.6" cy="567.4" r="2"/><circle cx="180.0" cy="529.8" r="2"/><circle cx="229.1" cy="488.1" r="2"/><circle cx="132.6" cy="567.9" r="2"/><circle cx="232.4" cy="484.9" r="2"/><circle cx="125.9" cy="567.2" r="2"/><circle cx="203.2" cy="504.7" r="2"/><circle cx="204.2" cy="506.4" r="2"/><circle cx="199.1" cy="510.2" r="2"/><circle cx="152.4" cy="546.6" r="2"/><circle cx="225.8" cy="488.0" r="2"/><circle cx="187.4" cy="522.1" r="2"/><circle cx="185.1" cy="523.5" r="2"/><circle cx="246.8" cy="474.2" r="2"/><circle cx="156.6" cy="546.3" r="2"/><circle cx="162.8" cy="545.8" r="2"/><circle cx="206.2" cy="507.5" r="2"/><circle cx="198.3" cy="512.9" r="2"/><circle cx="234.1" cy="486.6" r="2"/><circle cx="147.0" cy="556.6" r="2"/><circle cx="134.8" cy="560.5" r="2"/><circle cx="163.0" cy="543.6" r="2"/><circle cx="193.4" cy="518.2" r="2"/><circle cx="215.1" cy="498.7" r="2"/><circle cx="148.6" cy="552.9" r="2"/><circle cx="220.1" cy="493.0" r="2"/><circle cx="239.2" cy="482.8" r="2"/><circle cx="138.6" cy="558.5" r="2"/><circle cx="169.5" cy="534.4" r="2"/><circle cx="244.8" cy="477.2" r="2"/><circle cx="126.3" cy="571.3" r="2"/><circle cx="199.8" cy="513.7" r="2"/><circle cx="212.8" cy="504.1" r="2"/><circle cx="218.9" cy="498.5" r="2"/><circle cx="126.9" cy="567.0" r="2"/><circle cx="188.2" cy="519.9" r="2"/><circle cx="240.7" cy="481.3" r="2"/><circle cx="125.7" cy="565.1" r="2"/><circle cx="135.6" cy="563.0" r="2"/><circle cx="198.1" cy="513.1" r="2"/><circle cx="207.2" cy="504.3" r="2"/><circle cx="231.7" cy="483.9" r="2"/><circle cx="164.4" cy="537.7" r="2"/><circle cx="155.2" cy="544.8" r="2"/><circle cx="213.6" cy="501.8" r="2"/><circle cx="191.3" cy="518.0" r="2"/><circle cx="217.1" cy="495.9" r="2"/><circle cx="244.5" cy="472.5" r="2"/><circle cx="212.6" cy="498.3" r="2"/><circle cx="128.8" cy="565.0" r="2"/><circle cx="209.1" cy="508.7" r="2"/><circle cx="215.6" cy="496.7" r="2"/><circle cx="212.2" cy="503.1" r="2"/><circle cx="172.5" cy="532.1" r="2"/><circle cx="196.9" cy="514.9" r="2"/><circle cx="239.1" cy="482.8" r="2"/><circle cx="202.9" cy="509.9" r="2"/><circle cx="221.2" cy="497.8" r="2"/><circle cx="230.7" cy="483.1" r="2"/><circle cx="242.4" cy="476.5" r="2"/><circle cx="170.7" cy="539.9" r="2"/><circle cx="242.6" cy="476.1" r="2"/><circle cx="214.3" cy="500.5" r="2"/><circle cx="175.4" cy="528.9" r="2"/><circle cx="234.6" cy="484.4" r="2"/><circle cx="131.6" cy="560.9" r="2"/><circle cx="230.7" cy="487.2" r="2"/><circle cx="234.9" cy="480.1" r="2"/><circle cx="126.0" cy="569.6" r="2"/><circle cx="196.6" cy="516.1" r="2"/><circle cx="186.7" cy="521.6" r="2"/><circle cx="131.3" cy="566.5" r="2"/><circle cx="137.2" cy="561.1" r="2"/><circle cx="155.1" cy="547.9" r="2"/><circle cx="134.1" cy="561.2" r="2"/><circle cx="189.4" cy="518.6" r="2"/><circle cx="185.5" cy="526.2" r="2"/><circle cx="204.8" cy="506.2" r="2"/><circle cx="234.5" cy="480.0" r="2"/><circle cx="228.5" cy="490.3" r="2"/><circle cx="129.6" cy="565.8" r="2"/><circle cx="212.5" cy="503.5" r="2"/><circle cx="196.3" cy="517.4" r="2"/><circle cx="195.9" cy="512.5" r="2"/><circle cx="130.8" cy="561.9" r="2"/><circle cx="170.7" cy="538.6" r="2"/><circle cx="128.1" cy="570.4" r="2"/><circle cx="177.2" cy="530.5" r="2"/><circle cx="133.1" cy="565.9" r="2"/><circle cx="220.7" cy="492.1" r="2"/><circle cx="239.5" cy="478.2" r="2"/><circle cx="149.7" cy="551.9" r="2"/><circle cx="161.5" cy="547.3" r="2"/><circle cx="198.7" cy="515.5" r="2"/><circle cx="164.5" cy="541.8" r="2"/><circle cx="136.9" cy="560.6" r="2"/><circle cx="125.8" cy="564.1" r="2"/><circle cx="199.2" cy="512.1" r="2"/><circle cx="158.5" cy="545.6" r="2"/><circle cx="244.9" cy="474.5" r="2"/><circle cx="210.6" cy="505.2" r="2"/><circle cx="230.0" cy="486.1" r="2"/><circle cx="158.6" cy="549.1" r="2"/><circle cx="151.3" cy="555.2" r="2"/><circle cx="152.8" cy="548.7" r="2"/><circle cx="140.2" cy="557.1" r="2"/><circle cx="150.9" cy="550.6" r="2"/><circle cx="174.7" cy="529.1" r="2"/><circle cx="189.9" cy="518.8" r="2"/><circle cx="244.5" cy="477.7" r="2"/><circle cx="204.5" cy="508.3" r="2"/><circle cx="155.1" cy="550.2" r="2"/><circle cx="231.6" cy="485.9" r="2"/><circle cx="242.2" cy="476.9" r="2"/><circle cx="128.4" cy="563.2" r="2"/><circle cx="126.9" cy="569.8" r="2"/><circle cx="166.7" cy="539.3" r="2"/><circle cx="185.5" cy="521.0" r="2"/><circle cx="160.4" cy="543.3" r="2"/><circle cx="154.0" cy="547.6" r="2"/><circle cx="178.4" cy="528.4" r="2"/><circle cx="146.5" cy="556.6" r="2"/><circle cx="126.8" cy="564.1" r="2"/><circle cx="156.8" cy="544.8" r="2"/><circle cx="127.1" cy="562.1" r="2"/><circle cx="128.3" cy="566.5" r="2"/><circle cx="167.4" cy="540.8" r="2"/><circle cx="173.4" cy="532.3" r="2"/><circle cx="166.3" cy="537.1" r="2"/><circle cx="184.4" cy="524.3" r="2"/><circle cx="164.7" cy="544.5" r="2"/><circle cx="174.0" cy="534.0" r="2"/><circle cx="193.7" cy="519.2" r="2"/><circle cx="181.4" cy="525.5" r="2"/><circle cx="174.4" cy="529.8" r="2"/><circle cx="203.8" cy="513.7" r="2"/><circle cx="229.4" cy="488.0" r="2"/><circle cx="196.3" cy="514.8" r="2"/><circle cx="188.6" cy="523.9" r="2"/><circle cx="141.8" cy="553.8" r="2"/><circle cx="227.1" cy="491.4" r="2"/><circle cx="143.9" cy="555.0" r="2"/><circle cx="130.0" cy="569.0" r="2"/><circle cx="129.0" cy="564.9" r="2"/><circle cx="188.3" cy="522.1" r="2"/><circle cx="138.3" cy="557.6" r="2"/><circle cx="220.4" cy="496.8" r="2"/><circle cx="209.1" cy="507.0" r="2"/><circle cx="142.7" cy="558.1" r="2"/><circle cx="191.6" cy="520.5" r="2"/><circle cx="176.8" cy="528.1" r="2"/><circle cx="161.2" cy="546.9" r="2"/><circle cx="226.4" cy="494.3" r="2"/><circle cx="196.3" cy="513.5" r="2"/><circle cx="128.4" cy="564.2" r="2"/><circle cx="128.7" cy="563.4" r="2"/><circle cx="197.6" cy="516.7" r="2"/><circle cx="153.1" cy="550.8" r="2"/><circle cx="131.0" cy="563.6" r="2"/><circle cx="233.8" cy="482.9" r="2"/><circle cx="162.5" cy="544.2" r="2"/><circle cx="148.7" cy="548.9" r="2"/><circle cx="229.7" cy="489.4" r="2"/><circle cx="157.4" cy="549.0" r="2"/><circle cx="178.9" cy="529.4" r="2"/><circle cx="220.0" cy="496.4" r="2"/><circle cx="207.6" cy="505.6" r="2"/><circle cx="176.2" cy="528.2" r="2"/><circle cx="191.3" cy="522.6" r="2"/><circle cx="176.5" cy="534.7" r="2"/><circle cx="128.7" cy="561.7" r="2"/><circle cx="128.9" cy="568.9" r="2"/><circle cx="205.5" cy="509.0" r="2"/><circle cx="139.2" cy="559.1" r="2"/><circle cx="208.5" cy="504.0" r="2"/><circle cx="169.5" cy="535.4" r="2"/><circle cx="199.8" cy="513.1" r="2"/><circle cx="218.4" cy="495.3" r="2"/><circle cx="215.1" cy="495.2" r="2"/><circle cx="173.5" cy="531.6" r="2"/><circle cx="160.5" cy="547.0" r="2"/><circle cx="204.8" cy="509.6" r="2"/><circle cx="134.7" cy="562.8" r="2"/><circle cx="146.0" cy="558.6" r="2"/><circle cx="147.7" cy="552.1" r="2"/><circle cx="210.3" cy="508.3" r="2"/><circle cx="232.2" cy="487.3" r="2"/><circle cx="136.1" cy="563.7" r="2"/><circle cx="201.1" cy="512.7" r="2"/><circle cx="135.1" cy="563.6" r="2"/><circle cx="176.7" cy="531.5" r="2"/><circle cx="142.9" cy="553.0" r="2"/><circle cx="151.3" cy="546.9" r="2"/><circle cx="168.1" cy="541.8" r="2"/><circle cx="238.8" cy="479.9" r="2"/><circle cx="174.0" cy="535.4" r="2"/><circle cx="246.3" cy="473.9" r="2"/><circle cx="154.6" cy="546.6" r="2"/><circle cx="184.7" cy="527.4" r="2"/><circle cx="149.2" cy="549.2" r="2"/><circle cx="172.4" cy="530.9" r="2"/><circle cx="143.5" cy="559.5" r="2"/><circle cx="250.6" cy="469.1" r="2"/><circle cx="217.7" cy="499.0" r="2"/><circle cx="167.8" cy="534.8" r="2"/><circle cx="182.0" cy="528.6" r="2"/><circle cx="212.4" cy="499.9" r="2"/><circle cx="129.3" cy="568.1" r="2"/><circle cx="176.1" cy="534.5" r="2"/><circle cx="219.3" cy="496.2" r="2"/><circle cx="166.1" cy="540.9" r="2"/><circle cx="196.6" cy="515.9" r="2"/><circle cx="165.4" cy="537.6" r="2"/><circle cx="191.7" cy="520.1" r="2"/><circle cx="200.0" cy="511.8" r="2"/><circle cx="255.8" cy="464.7" r="2"/><circle cx="137.9" cy="562.0" r="2"/><circle cx="155.1" cy="549.8" r="2"/><circle cx="150.8" cy="549.8" r="2"/><circle cx="142.5" cy="555.0" r="2"/><circle cx="150.0" cy="551.3" r="2"/><circle cx="202.1" cy="507.6" r="2"/><circle cx="129.5" cy="563.1" r="2"/><circle cx="135.7" cy="558.3" r="2"/><circle cx="182.9" cy="528.4" r="2"/><circle cx="133.9" cy="563.5" r="2"/><circle cx="128.2" cy="566.5" r="2"/><circle cx="171.8" cy="533.2" r="2"/><circle cx="217.5" cy="498.2" r="2"/><circle cx="159.4" cy="545.8" r="2"/><circle cx="198.5" cy="511.6" r="2"/><circle cx="192.6" cy="521.8" r="2"/><circle cx="150.1" cy="550.4" r="2"/><circle cx="130.2" cy="564.6" r="2"/><circle cx="212.3" cy="499.9" r="2"/><circle cx="231.1" cy="485.3" r="2"/><circle cx="170.4" cy="534.7" r="2"/><circle cx="245.6" cy="473.3" r="2"/><circle cx="238.3" cy="483.1" r="2"/><circle cx="128.8" cy="564.8" r="2"/><circle cx="198.1" cy="511.0" r="2"/><circle cx="153.5" cy="552.6" r="2"/><circle cx="243.3" cy="476.5" r="2"/><circle cx="178.4" cy="526.9" r="2"/><circle cx="246.6" cy="474.1" r="2"/><circle cx="131.3" cy="566.1" r="2"/><circle cx="230.1" cy="486.5" r="2"/><circle cx="176.7" cy="535.0" r="2"/><circle cx="135.7" cy="557.4" r="2"/><circle cx="192.3" cy="517.5" r="2"/><circle cx="204.3" cy="508.9" r="2"/><circle cx="214.7" cy="502.5" r="2"/><circle cx="156.3" cy="550.0" r="2"/><circle cx="172.9" cy="533.9" r="2"/><circle cx="150.3" cy="555.7" r="2"/><circle cx="194.2" cy="513.9" r="2"/><circle cx="183.9" cy="526.2" r="2"/><circle cx="187.3" cy="521.0" r="2"/><circle cx="206.5" cy="503.5" r="2"/><circle cx="220.3" cy="497.6" r="2"/><circle cx="231.5" cy="485.4" r="2"/><circle cx="161.8" cy="544.6" r="2"/><circle cx="127.3" cy="562.4" r="2"/><circle cx="203.4" cy="508.4" r="2"/><circle cx="128.1" cy="566.4" r="2"/><circle cx="170.7" cy="539.7" r="2"/><circle cx="197.7" cy="515.9" r="2"/><circle cx="147.5" cy="555.9" r="2"/><circle cx="128.0" cy="561.4" r="2"/><circle cx="193.4" cy="518.3" r="2"/><circle cx="215.0" cy="496.3" r="2"/><circle cx="179.3" cy="532.4" r="2"/><circle cx="212.9" cy="501.2" r="2"/><circle cx="141.3" cy="559.5" r="2"/><circle cx="127.7" cy="563.1" r="2"/><circle cx="157.6" cy="545.5" r="2"/><circle cx="126.9" cy="562.7" r="2"/><circle cx="147.7" cy="549.6" r="2"/><circle cx="244.0" cy="477.6" r="2"/><circle cx="146.4" cy="550.9" r="2"/><circle cx="137.0" cy="562.0" r="2"/><circle cx="166.8" cy="536.2" r="2"/><circle cx="247.2" cy="471.9" r="2"/><circle cx="127.1" cy="564.2" r="2"/><circle cx="148.2" cy="549.8" r="2"/><circle cx="200.5" cy="510.5" r="2"/><circle cx="237.1" cy="481.1" r="2"/><circle cx="139.4" cy="557.2" r="2"/><circle cx="137.1" cy="563.1" r="2"/><circle cx="193.2" cy="518.8" r="2"/><circle cx="192.8" cy="517.6" r="2"/><circle cx="139.9" cy="554.9" r="2"/><circle cx="193.6" cy="516.6" r="2"/><circle cx="129.2" cy="565.9" r="2"/><circle cx="174.0" cy="537.1" r="2"/><circle cx="183.8" cy="527.5" r="2"/><circle cx="214.6" cy="501.2" r="2"/><circle cx="144.7" cy="558.4" r="2"/><circle cx="230.1" cy="491.0" r="2"/><circle cx="165.4" cy="541.2" r="2"/><circle cx="235.6" cy="486.6" r="2"/><circle cx="153.3" cy="547.0" r="2"/><circle cx="172.5" cy="532.0" r="2"/><circle cx="196.1" cy="512.4" r="2"/><circle cx="135.2" cy="564.9" r="2"/><circle cx="185.0" cy="525.1" r="2"/><circle cx="209.8" cy="502.9" r="2"/><circle cx="140.6" cy="560.9" r="2"/><circle cx="181.1" cy="531.3" r="2"/><circle cx="183.4" cy="525.4" r="2"/><circle cx="226.1" cy="490.9" r="2"/><circle cx="162.1" cy="544.8" r="2"/><circle cx="213.9" cy="497.9" r="2"/><circle cx="179.6" cy="526.9" r="2"/><circle cx="140.8" cy="560.0" r="2"/><circle cx="126.7" cy="565.4" r="2"/><circle cx="173.7" cy="533.1" r="2"/><circle cx="129.1" cy="568.5" r="2"/><circle cx="142.4" cy="555.4" r="2"/><circle cx="219.1" cy="500.1" r="2"/><circle cx="138.8" cy="563.7" r="2"/><circle cx="169.0" cy="533.7" r="2"/><circle cx="132.9" cy="560.9" r="2"/><circle cx="126.6" cy="562.9" r="2"/><circle cx="132.7" cy="565.2" r="2"/><circle cx="160.8" cy="547.7" r="2"/><circle cx="247.3" cy="471.6" r="2"/><circle cx="140.0" cy="558.2" r="2"/><circle cx="141.1" cy="554.0" r="2"/><circle cx="153.8" cy="545.0" r="2"/><circle cx="185.4" cy="525.0" r="2"/><circle cx="191.0" cy="520.8" r="2"/><circle cx="197.7" cy="513.6" r="2"/><circle cx="228.3" cy="488.7" r="2"/><circle cx="211.1" cy="505.1" r="2"/><circle cx="136.0" cy="564.4" r="2"/><circle cx="137.7" cy="560.5" r="2"/><circle cx="147.8" cy="549.1" r="2"/><circle cx="195.4" cy="518.2" r="2"/><circle cx="155.9" cy="545.9" r="2"/><circle cx="153.6" cy="553.3" r="2"/><circle cx="135.8" cy="562.4" r="2"/><circle cx="234.6" cy="485.5" r="2"/><circle cx="236.9" cy="479.9" r="2"/><circle cx="202.1" cy="514.3" r="2"/><circle cx="128.8" cy="567.2" r="2"/><circle cx="209.5" cy="505.9" r="2"/><circle cx="157.2" cy="550.4" r="2"/><circle cx="133.4" cy="567.3" r="2"/><circle cx="148.1" cy="552.8" r="2"/><circle cx="132.3" cy="565.8" r="2"/><circle cx="202.4" cy="512.3" r="2"/><circle cx="200.5" cy="512.7" r="2"/><circle cx="224.9" cy="491.7" r="2"/><circle cx="151.7" cy="554.6" r="2"/><circle cx="126.1" cy="566.3" r="2"/><circle cx="215.5" cy="502.0" r="2"/><circle cx="138.8" cy="558.0" r="2"/><circle cx="240.1" cy="483.5" r="2"/><circle cx="188.5" cy="522.3" r="2"/><circle cx="157.0" cy="547.7" r="2"/><circle cx="149.8" cy="553.9" r="2"/><circle cx="134.0" cy="562.8" r="2"/><circle cx="134.6" cy="564.6" r="2"/><circle cx="129.4" cy="565.9" r="2"/><circle cx="133.4" cy="561.0" r="2"/><circle cx="177.4" cy="534.5" r="2"/><circle cx="156.9" cy="550.5" r="2"/><circle cx="158.4" cy="545.7" r="2"/><circle cx="181.9" cy="528.5" r="2"/><circle cx="142.2" cy="558.6" r="2"/><circle cx="229.2" cy="489.9" r="2"/><circle cx="166.4" cy="535.9" r="2"/><circle cx="153.6" cy="545.4" r="2"/><circle cx="209.6" cy="504.3" r="2"/><circle cx="159.2" cy="546.9" r="2"/><circle cx="218.9" cy="496.8" r="2"/><circle cx="132.3" cy="565.4" r="2"/><circle cx="153.4" cy="552.4" r="2"/><circle cx="136.7" cy="559.2" r="2"/><circle cx="242.3" cy="478.3" r="2"/><circle cx="140.9" cy="556.8" r="2"/><circle cx="176.7" cy="530.9" r="2"/><circle cx="219.2" cy="499.0" r="2"/><circle cx="148.3" cy="551.4" r="2"/><circle cx="196.5" cy="513.0" r="2"/><circle cx="134.0" cy="562.6" r="2"/><circle cx="178.9" cy="531.3" r="2"/><circle cx="206.0" cy="506.4" r="2"/><circle cx="141.8" cy="560.4" r="2"/><circle cx="172.1" cy="538.5" r="2"/><circle cx="128.0" cy="564.0" r="2"/><circle cx="130.7" cy="561.9" r="2"/><circle cx="167.8" cy="535.5" r="2"/><circle cx="225.6" cy="495.1" r="2"/><circle cx="157.0" cy="548.8" r="2"/><circle cx="200.9" cy="512.7" r="2"/><circle cx="207.7" cy="505.2" r="2"/><circle cx="199.6" cy="510.4" r="2"/><circle cx="214.3" cy="501.6" r="2"/><circle cx="193.9" cy="519.5" r="2"/><circle cx="125.7" cy="562.8" r="2"/><circle cx="242.8" cy="478.0" r="2"/><circle cx="157.5" cy="542.2" r="2"/><circle cx="127.0" cy="570.2" r="2"/><circle cx="126.7" cy="564.4" r="2"/><circle cx="246.9" cy="473.6" r="2"/><circle cx="126.1" cy="567.1" r="2"/><circle cx="154.9" cy="545.7" r="2"/><circle cx="220.4" cy="497.7" r="2"/><circle cx="244.6" cy="476.4" r="2"/><circle cx="176.4" cy="534.3" r="2"/><circle cx="135.3" cy="557.7" r="2"/><circle cx="142.0" cy="560.8" r="2"/><circle cx="149.3" cy="551.7" r="2"/><circle cx="132.8" cy="565.4" r="2"/><circle cx="139.8" cy="560.1" r="2"/><circle cx="142.8" cy="560.8" r="2"/><circle cx="229.4" cy="489.6" r="2"/><circle cx="247.5" cy="470.0" r="2"/><circle cx="168.3" cy="535.6" r="2"/><circle cx="157.5" cy="545.9" r="2"/><circle cx="192.1" cy="520.4" r="2"/><circle cx="237.3" cy="481.6" r="2"/><circle cx="202.3" cy="512.5" r="2"/><circle cx="134.8" cy="566.0" r="2"/><circle cx="153.2" cy="551.2" r="2"/><circle cx="232.2" cy="481.4" r="2"/><circle cx="215.7" cy="497.5" r="2"/><circle cx="157.8" cy="543.3" r="2"/><circle cx="209.0" cy="505.9" r="2"/><circle cx="199.3" cy="510.1" r="2"/><circle cx="126.0" cy="569.6" r="2"/><circle cx="156.6" cy="545.7" r="2"/><circle cx="215.9" cy="498.6" r="2"/><circle cx="152.7" cy="546.4" r="2"/><circle cx="149.1" cy="553.9" r="2"/><circle cx="204.9" cy="508.7" r="2"/><circle cx="135.5" cy="565.0" r="2"/><circle cx="152.3" cy="554.5" r="2"/><circle cx="170.7" cy="537.6" r="2"/><circle cx="175.2" cy="534.9" r="2"/><circle cx="227.3" cy="488.9" r="2"/><circle cx="130.4" cy="565.3" r="2"/><circle cx="241.4" cy="479.0" r="2"/><circle cx="144.2" cy="551.9" r="2"/><circle cx="149.2" cy="553.7" r="2"/><circle cx="246.1" cy="474.7" r="2"/><circle cx="155.4" cy="550.4" r="2"/><circle cx="186.2" cy="521.1" r="2"/><circle cx="188.0" cy="521.8" r="2"/><circle cx="130.8" cy="562.6" r="2"/><circle cx="164.4" cy="541.8" r="2"/><circle cx="156.1" cy="546.5" r="2"/><circle cx="180.1" cy="532.2" r="2"/><circle cx="187.8" cy="521.7" r="2"/><circle cx="183.1" cy="528.8" r="2"/><circle cx="166.3" cy="537.7" r="2"/><circle cx="148.2" cy="548.8" r="2"/><circle cx="158.2" cy="549.0" r="2"/><circle cx="246.2" cy="474.5" r="2"/><circle cx="237.1" cy="482.0" r="2"/><circle cx="171.8" cy="538.7" r="2"/><circle cx="225.6" cy="491.9" r="2"/><circle cx="175.1" cy="535.0" r="2"/><circle cx="144.8" cy="559.3" r="2"/><circle cx="177.6" cy="530.7" r="2"/><circle cx="141.1" cy="554.7" r="2"/><circle cx="209.5" cy="503.3" r="2"/><circle cx="213.6" cy="501.4" r="2"/><circle cx="151.8" cy="547.7" r="2"/><circle cx="131.0" cy="565.4" r="2"/><circle cx="222.1" cy="491.3" r="2"/><circle cx="128.2" cy="568.7" r="2"/><circle cx="188.1" cy="520.5" r="2"/><circle cx="137.1" cy="561.2" r="2"/><circle cx="125.8" cy="568.9" r="2"/><circle cx="188.1" cy="521.4" r="2"/><circle cx="197.7" cy="516.7" r="2"/><circle cx="197.6" cy="516.8" r="2"/><circle cx="130.9" cy="563.3" r="2"/><circle cx="153.1" cy="545.4" r="2"/><circle cx="197.3" cy="515.5" r="2"/><circle cx="147.9" cy="556.4" r="2"/><circle cx="188.3" cy="519.6" r="2"/><circle cx="159.0" cy="545.2" r="2"/><circle cx="237.8" cy="480.0" r="2"/><circle cx="145.3" cy="557.1" r="2"/><circle cx="223.0" cy="491.5" r="2"/><circle cx="236.4" cy="482.3" r="2"/><circle cx="127.8" cy="568.2" r="2"/><circle cx="162.8" cy="544.0" r="2"/><circle cx="197.7" cy="515.9" r="2"/><circle cx="159.3" cy="541.7" r="2"/><circle cx="142.1" cy="558.8" r="2"/><circle cx="217.4" cy="498.1" r="2"/><circle cx="176.4" cy="528.6" r="2"/><circle cx="129.1" cy="566.5" r="2"/><circle cx="202.0" cy="508.7" r="2"/><circle cx="126.0" cy="567.3" r="2"/><circle cx="153.5" cy="550.9" r="2"/><circle cx="194.2" cy="513.9" r="2"/><circle cx="243.8" cy="479.0" r="2"/><circle cx="218.8" cy="494.9" r="2"/><circle cx="165.5" cy="539.0" r="2"/><circle cx="138.9" cy="562.1" r="2"/><circle cx="154.4" cy="549.5" r="2"/><circle cx="204.9" cy="510.3" r="2"/><circle cx="190.9" cy="518.1" r="2"/><circle cx="142.2" cy="555.2" r="2"/><circle cx="210.3" cy="500.9" r="2"/><circle cx="238.3" cy="483.0" r="2"/><circle cx="152.3" cy="549.9" r="2"/><circle cx="130.6" cy="566.4" r="2"/><circle cx="171.3" cy="535.2" r="2"/><circle cx="131.8" cy="563.7" r="2"/><circle cx="146.2" cy="556.8" r="2"/><circle cx="159.6" cy="547.1" r="2"/><circle cx="164.2" cy="541.6" r="2"/><circle cx="222.4" cy="489.5" r="2"/><circle cx="173.6" cy="533.0" r="2"/><circle cx="224.6" cy="489.2" r="2"/><circle cx="125.7" cy="564.0" r="2"/><circle cx="203.8" cy="511.7" r="2"/><circle cx="130.5" cy="560.1" r="2"/><circle cx="190.1" cy="523.8" r="2"/><circle cx="159.8" cy="546.6" r="2"/><circle cx="130.6" cy="566.2" r="2"/><circle cx="168.9" cy="534.5" r="2"/><circle cx="238.6" cy="480.6" r="2"/><circle cx="231.3" cy="487.6" r="2"/><circle cx="154.2" cy="549.0" r="2"/><circle cx="153.2" cy="550.0" r="2"/><circle cx="127.1" cy="570.7" r="2"/><circle cx="174.0" cy="534.3" r="2"/><circle cx="139.4" cy="560.3" r="2"/><circle cx="148.4" cy="555.4" r="2"/><circle cx="206.1" cy="511.5" r="2"/><circle cx="158.7" cy="549.6" r="2"/><circle cx="183.0" cy="527.3" r="2"/><circle cx="183.6" cy="527.3" r="2"/><circle cx="185.2" cy="525.9" r="2"/><circle cx="170.0" cy="534.7" r="2"/><circle cx="127.2" cy="568.8" r="2"/><circle cx="143.8" cy="556.8" r="2"/><circle cx="223.9" cy="493.9" r="2"/><circle cx="245.2" cy="476.6" r="2"/><circle cx="148.7" cy="550.2" r="2"/><circle cx="189.9" cy="518.7" r="2"/><circle cx="127.0" cy="566.0" r="2"/><circle cx="235.3" cy="483.5" r="2"/><circle cx="248.1" cy="474.2" r="2"/><circle cx="195.5" cy="513.2" r="2"/><circle cx="128.3" cy="566.3" r="2"/><circle cx="206.4" cy="507.9" r="2"/><circle cx="149.0" cy="556.4" r="2"/><circle cx="130.9" cy="562.8" r="2"/><circle cx="176.7" cy="534.3" r="2"/><circle cx="147.9" cy="552.8" r="2"/><circle cx="234.4" cy="484.1" r="2"/><circle cx="175.1" cy="535.6" r="2"/><circle cx="226.2" cy="494.5" r="2"/><circle cx="194.7" cy="516.8" r="2"/><circle cx="196.9" cy="512.9" r="2"/><circle cx="130.2" cy="567.9" r="2"/><circle cx="181.9" cy="528.4" r="2"/><circle cx="134.4" cy="561.4" r="2"/><circle cx="172.9" cy="533.8" r="2"/><circle cx="221.0" cy="493.7" r="2"/><circle cx="167.8" cy="539.8" r="2"/><circle cx="198.1" cy="515.5" r="2"/><circle cx="203.2" cy="508.7" r="2"/><circle cx="155.3" cy="548.5" r="2"/><circle cx="186.4" cy="520.1" r="2"/><circle cx="232.3" cy="484.7" r="2"/><circle cx="140.1" cy="562.3" r="2"/><circle cx="147.5" cy="557.7" r="2"/><circle cx="198.3" cy="513.4" r="2"/><circle cx="150.4" cy="547.6" r="2"/><circle cx="208.5" cy="507.5" r="2"/><circle cx="137.3" cy="559.5" r="2"/><circle cx="131.2" cy="563.4" r="2"/><circle cx="230.5" cy="487.0" r="2"/><circle cx="153.8" cy="547.2" r="2"/><circle cx="145.9" cy="552.7" r="2"/><circle cx="143.3" cy="560.8" r="2"/><circle cx="175.2" cy="534.2" r="2"/><circle cx="142.2" cy="557.4" r="2"/><circle cx="144.1" cy="558.0" r="2"/><circle cx="171.5" cy="538.2" r="2"/><circle cx="223.9" cy="494.1" r="2"/><circle cx="174.9" cy="529.6" r="2"/><circle cx="210.2" cy="507.2" r="2"/><circle cx="236.9" cy="480.3" r="2"/><circle cx="154.5" cy="544.8" r="2"/><circle cx="171.1" cy="537.1" r="2"/><circle cx="140.2" cy="562.1" r="2"/><circle cx="237.6" cy="482.0" r="2"/><circle cx="230.9" cy="483.2" r="2"/><circle cx="147.8" cy="557.3" r="2"/><circle cx="193.5" cy="521.0" r="2"/><circle cx="179.8" cy="527.5" r="2"/><circle cx="223.1" cy="489.9" r="2"/><circle cx="128.5" cy="568.7" r="2"/><circle cx="173.8" cy="533.7" r="2"/><circle cx="137.1" cy="561.3" r="2"/><circle cx="168.5" cy="538.0" r="2"/><circle cx="178.0" cy="529.9" r="2"/><circle cx="132.2" cy="565.2" r="2"/><circle cx="198.8" cy="510.0" r="2"/><circle cx="239.2" cy="477.9" r="2"/><circle cx="169.0" cy="536.0" r="2"/><circle cx="185.7" cy="521.0" r="2"/><circle cx="129.0" cy="561.0" r="2"/><circle cx="126.3" cy="563.2" r="2"/><circle cx="240.4" cy="481.5" r="2"/><circle cx="218.9" cy="498.5" r="2"/><circle cx="227.9" cy="488.7" r="2"/><circle cx="243.6" cy="477.6" r="2"/><circle cx="125.8" cy="569.4" r="2"/><circle cx="181.9" cy="528.5" r="2"/><circle cx="194.8" cy="518.5" r="2"/><circle cx="227.6" cy="490.3" r="2"/><circle cx="142.2" cy="554.7" r="2"/><circle cx="150.3" cy="550.2" r="2"/><circle cx="142.9" cy="559.0" r="2"/><circle cx="226.8" cy="492.0" r="2"/><circle cx="202.6" cy="507.0" r="2"/><circle cx="175.6" cy="530.2" r="2"/><circle cx="141.4" cy="558.6" r="2"/><circle cx="246.2" cy="471.3" r="2"/><circle cx="156.4" cy="544.7" r="2"/><circle cx="211.3" cy="503.4" r="2"/><circle cx="155.5" cy="547.0" r="2"/><circle cx="204.9" cy="504.4" r="2"/><circle cx="155.6" cy="544.2" r="2"/><circle cx="132.8" cy="559.6" r="2"/><circle cx="241.0" cy="479.2" r="2"/><circle cx="235.9" cy="480.7" r="2"/><circle cx="132.3" cy="559.9" r="2"/><circle cx="202.6" cy="510.8" r="2"/><circle cx="154.7" cy="550.3" r="2"/><circle cx="237.3" cy="483.5" r="2"/><circle cx="147.6" cy="556.9" r="2"/><circle cx="173.9" cy="533.1" r="2"/><circle cx="208.1" cy="502.2" r="2"/><circle cx="128.7" cy="569.6" r="2"/><circle cx="147.8" cy="549.6" r="2"/><circle cx="170.8" cy="537.4" r="2"/><circle cx="179.5" cy="527.0" r="2"/><circle cx="243.1" cy="475.4" r="2"/><circle cx="136.6" cy="556.5" r="2"/><circle cx="126.0" cy="567.9" r="2"/><circle cx="127.2" cy="569.6" r="2"/><circle cx="204.1" cy="513.3" r="2"/><circle cx="139.1" cy="559.3" r="2"/><circle cx="191.5" cy="521.6" r="2"/><circle cx="125.8" cy="571.6" r="2"/><circle cx="142.9" cy="558.0" r="2"/><circle cx="166.8" cy="540.7" r="2"/><circle cx="152.9" cy="549.0" r="2"/><circle cx="159.9" cy="544.8" r="2"/><circle cx="150.3" cy="554.0" r="2"/><circle cx="236.8" cy="479.1" r="2"/><circle cx="245.2" cy="475.2" r="2"/><circle cx="202.1" cy="508.0" r="2"/><circle cx="145.2" cy="553.5" r="2"/><circle cx="151.9" cy="550.5" r="2"/><circle cx="234.5" cy="481.5" r="2"/><circle cx="125.5" cy="569.5" r="2"/><circle cx="180.3" cy="528.8" r="2"/><circle cx="129.2" cy="565.5" r="2"/><circle cx="189.8" cy="522.3" r="2"/><circle cx="163.1" cy="539.6" r="2"/><circle cx="140.4" cy="555.7" r="2"/><circle cx="142.3" cy="557.1" r="2"/><circle cx="161.1" cy="540.0" r="2"/><circle cx="169.0" cy="539.2" r="2"/><circle cx="220.8" cy="495.5" r="2"/><circle cx="219.7" cy="492.1" r="2"/><circle cx="233.5" cy="483.7" r="2"/><circle cx="214.3" cy="500.9" r="2"/><circle cx="147.2" cy="550.1" r="2"/><circle cx="126.0" cy="568.5" r="2"/><circle cx="212.8" cy="497.1" r="2"/><circle cx="127.8" cy="569.8" r="2"/><circle cx="244.8" cy="477.3" r="2"/><circle cx="136.2" cy="558.8" r="2"/><circle cx="245.3" cy="477.0" r="2"/><circle cx="225.2" cy="490.3" r="2"/><circle cx="226.2" cy="489.2" r="2"/><circle cx="156.1" cy="551.4" r="2"/><circle cx="134.2" cy="565.0" r="2"/><circle cx="191.6" cy="517.9" r="2"/><circle cx="172.4" cy="536.6" r="2"/><circle cx="136.3" cy="559.4" r="2"/><circle cx="237.9" cy="480.2" r="2"/><circle cx="232.6" cy="485.7" r="2"/><circle cx="210.0" cy="507.8" r="2"/><circle cx="173.3" cy="537.8" r="2"/><circle cx="224.3" cy="492.3" r="2"/><circle cx="137.3" cy="562.9" r="2"/><circle cx="149.8" cy="555.9" r="2"/><circle cx="152.8" cy="545.9" r="2"/><circle cx="189.6" cy="521.6" r="2"/><circle cx="140.5" cy="554.2" r="2"/><circle cx="131.3" cy="562.3" r="2"/><circle cx="208.1" cy="505.7" r="2"/><circle cx="237.2" cy="487.8" r="2"/><circle cx="174.0" cy="531.5" r="2"/><circle cx="127.4" cy="565.8" r="2"/><circle cx="144.1" cy="553.9" r="2"/><circle cx="148.9" cy="551.3" r="2"/><circle cx="199.4" cy="513.2" r="2"/><circle cx="130.3" cy="560.4" r="2"/><circle cx="228.7" cy="492.2" r="2"/><circle cx="143.8" cy="556.8" r="2"/><circle cx="261.0" cy="461.5" r="2"/><circle cx="255.0" cy="466.0" r="2"/><circle cx="249.5" cy="470.5" r="2"/><circle cx="245.0" cy="473.3" r="2"/><circle cx="242.5" cy="477.8" r="2"/></g>
<path d="M55.2 629.3L326.3 409.4" stroke="#858585" stroke-width="1.45" stroke-dasharray="5 3.3" fill="none"/>
<rect x="55.2" y="409.4" width="271.1" height="219.9" fill="none" stroke="#000" stroke-width="1.1"/>
<path d="M75.3 629.3v-4M75.3 409.4v4M55.2 613.0h4M326.3 613.0h-4M125.5 629.3v-4M125.5 409.4v4M55.2 572.3h4M326.3 572.3h-4M175.7 629.3v-4M175.7 409.4v4M55.2 531.6h4M326.3 531.6h-4M225.9 629.3v-4M225.9 409.4v4M55.2 490.8h4M326.3 490.8h-4M276.1 629.3v-4M276.1 409.4v4M55.2 450.1h4M326.3 450.1h-4" stroke="#000" stroke-width="0.6" fill="none"/>
<text x="75.3" y="641.3" font-family='"Liberation Serif", serif' font-size="14.3" text-anchor="middle" textLength="34.5" lengthAdjust="spacing">−0.05</text>
<text x="53.6" y="617.7" font-family='"Liberation Serif", serif' font-size="14.3" text-anchor="end" textLength="34.5" lengthAdjust="spacing">−0.05</text>
<text x="125.5" y="641.3" font-family='"Liberation Serif", serif' font-size="14.3" text-anchor="middle">0.00</text>
<text x="53.6" y="577.0" font-family='"Liberation Serif", serif' font-size="14.3" text-anchor="end">0.00</text>
<text x="175.7" y="641.3" font-family='"Liberation Serif", serif' font-size="14.3" text-anchor="middle">0.05</text>
<text x="53.6" y="536.3" font-family='"Liberation Serif", serif' font-size="14.3" text-anchor="end">0.05</text>
<text x="225.9" y="641.3" font-family='"Liberation Serif", serif' font-size="14.3" text-anchor="middle">0.10</text>
<text x="53.6" y="495.5" font-family='"Liberation Serif", serif' font-size="14.3" text-anchor="end">0.10</text>
<text x="276.1" y="641.3" font-family='"Liberation Serif", serif' font-size="14.3" text-anchor="middle">0.15</text>
<text x="53.6" y="454.8" font-family='"Liberation Serif", serif' font-size="14.3" text-anchor="end">0.15</text>
<text x="326.3" y="641.3" font-family='"Liberation Serif", serif' font-size="14.3" text-anchor="middle">0.20</text>
<text x="53.6" y="414.1" font-family='"Liberation Serif", serif' font-size="14.3" text-anchor="end">0.20</text>
<text x="135" y="656.3" font-family='"Liberation Serif", serif' font-size="14.3" textLength="110.5" lengthAdjust="spacingAndGlyphs">Ground truth (<tspan font-style="italic">σ</tspan><tspan font-size="10" dy="-5">3</tspan><tspan dy="5">)</tspan></text>
<text transform="translate(11.6,564) rotate(-90)" font-family='"Liberation Serif", serif' font-size="14.3" textLength="89" lengthAdjust="spacingAndGlyphs">Prediction (<tspan font-style="italic">σ</tspan><tspan font-size="10" dy="-5">3</tspan><tspan dy="5">)</tspan></text>
<text x="178.5" y="608.3" font-family='"Liberation Serif", serif' font-size="14.3" textLength="120" lengthAdjust="spacingAndGlyphs">RMSE = 0.0023<tspan font-style="italic">σ</tspan><tspan font-size="10" dy="-5.5">3</tspan></text>
<use href="#cb" x="586.8" y="416.3"/><use href="#cb" x="454.2" y="418.4"/><use href="#cb" x="629.6" y="422.3"/><use href="#cb" x="563.2" y="423.2"/><use href="#cb" x="496.9" y="424.2"/><use href="#cb" x="430.7" y="425.3"/><use href="#cb" x="606.0" y="429.2"/><use href="#cb" x="539.6" y="430.1"/><use href="#cb" x="473.3" y="431.1"/><use href="#cb" x="407.1" y="432.3"/><use href="#cb" x="582.4" y="436.1"/><use href="#cb" x="516.0" y="437.0"/><use href="#cb" x="449.7" y="438.0"/><use href="#cb" x="625.3" y="442.2"/><use href="#cb" x="558.8" y="442.9"/><use href="#cb" x="492.4" y="443.9"/><use href="#cb" x="426.2" y="444.9"/><use href="#cb" x="601.6" y="449.0"/><use href="#cb" x="535.2" y="449.8"/><use href="#cb" x="468.9" y="450.8"/><use href="#cb" x="402.6" y="451.9"/><use href="#cb" x="578.0" y="455.9"/><use href="#cb" x="511.6" y="456.7"/><use href="#cb" x="445.3" y="457.7"/><use href="#cb" x="620.9" y="462.0"/><use href="#cb" x="554.4" y="462.7"/><use href="#cb" x="488.0" y="463.5"/><use href="#cb" x="421.7" y="464.6"/><use href="#cb" x="597.3" y="468.8"/><use href="#cb" x="530.8" y="469.5"/><use href="#cb" x="464.4" y="470.4"/><use href="#cb" x="398.1" y="471.4"/><use href="#cb" x="573.7" y="475.7"/><use href="#cb" x="507.2" y="476.4"/><use href="#cb" x="440.8" y="477.3"/><use href="#cb" x="616.6" y="481.9"/><use href="#cb" x="550.0" y="482.5"/><use href="#cb" x="483.6" y="483.2"/><use href="#cb" x="417.2" y="484.2"/><use href="#cb" x="592.9" y="488.7"/><use href="#cb" x="526.4" y="489.3"/><use href="#cb" x="460.0" y="490.1"/><use href="#cb" x="393.6" y="491.0"/><use href="#cb" x="569.3" y="495.5"/><use href="#cb" x="502.8" y="496.1"/><use href="#cb" x="436.4" y="496.9"/><use href="#cb" x="612.3" y="501.7"/><use href="#cb" x="545.7" y="502.2"/><use href="#cb" x="479.2" y="502.9"/><use href="#cb" x="412.8" y="503.8"/><use href="#cb" x="588.6" y="508.5"/><use href="#cb" x="522.0" y="509.0"/><use href="#cb" x="455.5" y="509.7"/><use href="#cb" x="389.1" y="510.6"/><use href="#cb" x="631.6" y="514.9"/><use href="#cb" x="564.9" y="515.3"/><use href="#cb" x="498.4" y="515.8"/><use href="#cb" x="431.9" y="516.5"/><use href="#cb" x="607.9" y="521.6"/><use href="#cb" x="541.3" y="522.0"/><use href="#cb" x="474.7" y="522.6"/><use href="#cb" x="408.3" y="523.4"/><use href="#cb" x="584.2" y="528.3"/><use href="#cb" x="517.6" y="528.8"/><use href="#cb" x="451.1" y="529.4"/><use href="#cb" x="384.7" y="530.2"/><use href="#cb" x="627.3" y="534.8"/><use href="#cb" x="560.6" y="535.1"/><use href="#cb" x="494.0" y="535.5"/><use href="#cb" x="427.4" y="536.2"/><use href="#cb" x="603.6" y="541.5"/><use href="#cb" x="536.9" y="541.8"/><use href="#cb" x="470.3" y="542.3"/><use href="#cb" x="403.8" y="543.0"/><use href="#cb" x="579.9" y="548.2"/><use href="#cb" x="513.2" y="548.5"/><use href="#cb" x="446.6" y="549.1"/><use href="#cb" x="380.2" y="549.8"/><use href="#cb" x="623.0" y="554.6"/><use href="#cb" x="556.2" y="554.9"/><use href="#cb" x="489.6" y="555.2"/><use href="#cb" x="423.0" y="555.8"/><use href="#cb" x="599.2" y="561.3"/><use href="#cb" x="532.5" y="561.6"/><use href="#cb" x="465.9" y="562.0"/><use href="#cb" x="399.3" y="562.6"/><use href="#cb" x="575.5" y="568.0"/><use href="#cb" x="508.8" y="568.3"/><use href="#cb" x="375.7" y="569.3"/><use href="#cb" x="618.6" y="574.5"/><use href="#cb" x="551.8" y="574.7"/><use href="#cb" x="485.1" y="575.0"/><use href="#cb" x="418.5" y="575.4"/><use href="#cb" x="594.9" y="581.2"/><use href="#cb" x="528.1" y="581.3"/><use href="#cb" x="461.4" y="581.7"/><use href="#cb" x="394.9" y="582.2"/><use href="#cb" x="504.4" y="588.0"/><use href="#cb" x="371.2" y="588.9"/><use href="#cb" x="614.3" y="594.4"/><use href="#cb" x="571.7" y="594.4"/><use href="#cb" x="414.1" y="595.1"/><use href="#cb" x="440.1" y="595.6"/><use href="#cb" x="547.5" y="598.2"/><use href="#cb" x="390.4" y="601.8"/><use href="#cb" x="463.7" y="603.8"/><use href="#cb" x="523.8" y="604.3"/><use href="#cb" x="488.5" y="605.5"/><use href="#cb" x="589.6" y="605.5"/><use href="#cb" x="508.5" y="619.5"/>
</svg>
</body></html>
